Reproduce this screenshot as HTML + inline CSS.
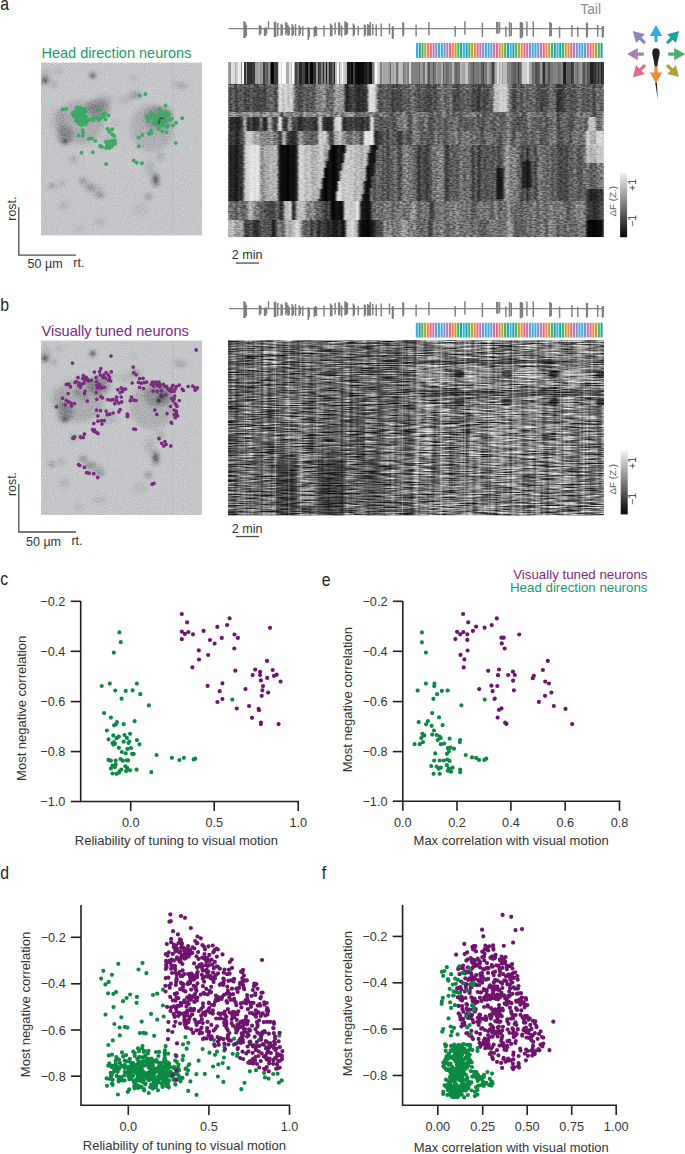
<!DOCTYPE html><html><head><meta charset="utf-8"><style>html,body{margin:0;padding:0;background:#fff;width:685px;height:1154px;overflow:hidden}svg{display:block;font-family:"Liberation Sans",sans-serif}text{font-family:"Liberation Sans",sans-serif}</style></head><body>
<svg width="685" height="1154" viewBox="0 0 685 1154" font-family="&quot;Liberation Sans&quot;, sans-serif">
<text transform="translate(0.2,10) scale(0.88,1)" font-size="18" fill="#231f20">a</text>
<text x="41.5" y="57.8" font-size="14.5" fill="#1a9a6c">Head direction neurons</text>
<g><defs><clipPath id="cp1"><rect x="41" y="62.5" width="161" height="173"/></clipPath><filter color-interpolation-filters="sRGB" id="bl1" x="-50%" y="-50%" width="200%" height="200%"><feGaussianBlur stdDeviation="1.9"/></filter><filter color-interpolation-filters="sRGB" id="bs1" x="-50%" y="-50%" width="200%" height="200%"><feGaussianBlur stdDeviation="0.9"/></filter><filter color-interpolation-filters="sRGB" id="nz1" x="0" y="0" width="100%" height="100%"><feTurbulence type="fractalNoise" baseFrequency="1.1 0.9" numOctaves="1" seed="1"/><feColorMatrix type="matrix" values="1.6 0 0 0 -0.3  1.6 0 0 0 -0.3  1.6 0 0 0 -0.3  0 0 0 0 1"/></filter></defs>
<g clip-path="url(#cp1)">
<rect x="41" y="62.5" width="161" height="173" fill="#c4c6c9"/>
<g filter="url(#bl1)">
<ellipse cx="45" cy="80.5" rx="3.5" ry="3.2" fill="#2a2c30" fill-opacity="0.55"/>
<ellipse cx="53.6" cy="84.2" rx="2.3" ry="2.3" fill="#2a2c30" fill-opacity="0.35"/>
<ellipse cx="92.7" cy="75.5" rx="3" ry="2.4" fill="#2a2c30" fill-opacity="0.6"/>
<ellipse cx="58.6" cy="71.2" rx="4" ry="3" fill="#2a2c30" fill-opacity="0.12"/>
<ellipse cx="46" cy="76" rx="5" ry="7" fill="#2a2c30" fill-opacity="0.12"/>
<ellipse cx="98" cy="108" rx="12" ry="9" fill="#2a2c30" fill-opacity="0.3"/>
<ellipse cx="99" cy="108" rx="3" ry="2.5" fill="#2a2c30" fill-opacity="0.35"/>
<ellipse cx="105" cy="100" rx="8" ry="5" fill="#2a2c30" fill-opacity="0.12"/>
<ellipse cx="65" cy="135" rx="8" ry="10" fill="#2a2c30" fill-opacity="0.3"/>
<ellipse cx="64.8" cy="141.3" rx="3" ry="2.6" fill="#2a2c30" fill-opacity="0.45"/>
<ellipse cx="58" cy="120" rx="8" ry="12" fill="#2a2c30" fill-opacity="0.1"/>
<ellipse cx="115.7" cy="123.3" rx="2.6" ry="2.6" fill="#2a2c30" fill-opacity="0.2"/>
<ellipse cx="110" cy="140" rx="8" ry="6" fill="#2a2c30" fill-opacity="0.1"/>
<ellipse cx="162" cy="119" rx="3.5" ry="3.5" fill="#2a2c30" fill-opacity="0.5"/>
<ellipse cx="77.7" cy="115" rx="3" ry="3" fill="#2a2c30" fill-opacity="0.45"/>
<ellipse cx="85" cy="120" rx="3" ry="3" fill="#2a2c30" fill-opacity="0.3"/>
<ellipse cx="158" cy="118" rx="14" ry="11" fill="#2a2c30" fill-opacity="0.25"/>
<ellipse cx="168" cy="112" rx="5" ry="3" fill="#2a2c30" fill-opacity="0.25"/>
<ellipse cx="135" cy="95" rx="6" ry="3.5" fill="#2a2c30" fill-opacity="0.28"/>
<ellipse cx="125" cy="100" rx="8" ry="4" fill="#2a2c30" fill-opacity="0.1"/>
<ellipse cx="182" cy="86" rx="5" ry="2.5" fill="#2a2c30" fill-opacity="0.25"/>
<ellipse cx="133.5" cy="78" rx="3.5" ry="2.5" fill="#2a2c30" fill-opacity="0.12"/>
<ellipse cx="176" cy="84" rx="2.5" ry="2.5" fill="#2a2c30" fill-opacity="0.18"/>
<ellipse cx="155.7" cy="180" rx="3.5" ry="7" fill="#2a2c30" fill-opacity="0.5"/>
<ellipse cx="148.4" cy="196.8" rx="3.5" ry="2.6" fill="#2a2c30" fill-opacity="0.36"/>
<ellipse cx="160.5" cy="157" rx="3.5" ry="4" fill="#2a2c30" fill-opacity="0.2"/>
<ellipse cx="150" cy="168" rx="5" ry="8" fill="#2a2c30" fill-opacity="0.13"/>
<ellipse cx="83" cy="181" rx="3.5" ry="2.6" fill="#2a2c30" fill-opacity="0.42"/>
<ellipse cx="90" cy="187" rx="5" ry="2.6" fill="#2a2c30" fill-opacity="0.36"/>
<ellipse cx="100" cy="195" rx="4.5" ry="2.6" fill="#2a2c30" fill-opacity="0.36"/>
<ellipse cx="95" cy="190" rx="8" ry="5" fill="#2a2c30" fill-opacity="0.12"/>
<ellipse cx="52" cy="186" rx="3.5" ry="2.2" fill="#2a2c30" fill-opacity="0.38"/>
<ellipse cx="61.7" cy="183.6" rx="2.6" ry="2.2" fill="#2a2c30" fill-opacity="0.3"/>
<ellipse cx="73.7" cy="159.5" rx="4" ry="4" fill="#2a2c30" fill-opacity="0.18"/>
<ellipse cx="64" cy="205" rx="5" ry="4" fill="#2a2c30" fill-opacity="0.13"/>
<ellipse cx="78.5" cy="229" rx="5" ry="3" fill="#2a2c30" fill-opacity="0.1"/>
<ellipse cx="100" cy="222" rx="6" ry="4" fill="#2a2c30" fill-opacity="0.1"/>
<ellipse cx="80" cy="122" rx="24" ry="22" fill="#2a2c30" fill-opacity="0.16"/>
<ellipse cx="152" cy="128" rx="22" ry="24" fill="#2a2c30" fill-opacity="0.14"/>
<ellipse cx="140" cy="210" rx="8" ry="6" fill="#2a2c30" fill-opacity="0.07"/>
</g>
<g filter="url(#bs1)">
<ellipse cx="161.3" cy="117.7" rx="1.8" ry="1.8" fill="#111" fill-opacity="0.85"/>
<ellipse cx="158.7" cy="122.8" rx="2" ry="2" fill="#111" fill-opacity="0.9"/>
<ellipse cx="64.8" cy="141.3" rx="1.8" ry="1.6" fill="#111" fill-opacity="0.4"/>
<ellipse cx="92.7" cy="75.5" rx="2" ry="1.6" fill="#111" fill-opacity="0.35"/>
<ellipse cx="45" cy="80.5" rx="2" ry="1.8" fill="#111" fill-opacity="0.3"/>
<ellipse cx="155.7" cy="180" rx="1.6" ry="3" fill="#111" fill-opacity="0.3"/>
</g>
<rect x="41" y="62.5" width="161" height="173" filter="url(#nz1)" style="mix-blend-mode:overlay" opacity="0.28"/>
<rect x="172" y="62.5" width="0.8" height="173" fill="#9a9ca0" opacity="0.25"/>
</g>
<path d="M62.7 109.3h0M66.2 109.1h0M99.5 109.8h0M93.8 117.5h0M93.3 120.0h0M89.7 119.5h0M98.9 120.0h0M101.0 117.5h0M103.0 114.4h0M105.1 113.4h0M108.6 115.4h0M105.6 119.5h0M104.0 117.0h0M82.6 130.3h0M83.1 132.8h0M78.5 135.4h0M82.6 135.9h0M88.7 138.9h0M91.8 138.4h0M95.4 141.0h0M107.6 128.7h0M112.2 129.2h0M109.2 131.8h0M112.2 134.3h0M114.3 135.9h0M100.0 146.1h0M102.0 147.1h0M81.6 152.7h0M92.8 152.2h0M106.1 164.0h0M73.4 113.9h0M75.4 112.9h0M77.5 107.3h0M80.5 107.8h0M84.6 108.8h0M85.7 111.3h0M77.0 110.3h0M79.5 111.3h0M82.1 111.9h0M84.1 113.4h0M75.4 115.4h0M78.0 116.5h0M80.5 115.4h0M83.1 116.5h0M85.7 117.0h0M77.0 119.5h0M79.5 120.0h0M82.1 119.5h0M84.6 120.5h0M86.7 121.6h0M78.5 122.6h0M81.1 123.1h0M83.6 123.6h0M81.6 125.1h0M85.7 124.1h0M74.4 114.4h0M72.4 113.9h0M78.5 114.4h0M106.1 142.0h0M109.2 141.5h0M112.2 141.0h0M114.8 140.5h0M115.3 143.0h0M113.2 144.0h0M110.2 145.1h0M107.1 145.1h0M106.1 148.1h0M109.2 148.1h0M111.7 146.6h0M114.8 144.0h0M97.4 118.5h0M100.0 118.7h0M139.8 95.5h0M145.4 94.0h0M165.6 105.4h0M159.7 109.0h0M146.5 116.2h0M148.0 120.8h0M151.1 113.6h0M154.6 115.1h0M152.6 118.2h0M155.7 118.7h0M153.6 123.3h0M156.2 124.3h0M158.7 128.9h0M161.8 114.6h0M164.9 112.6h0M167.9 114.1h0M165.9 116.7h0M162.3 120.8h0M163.3 124.9h0M166.9 126.9h0M170.0 119.7h0M172.0 118.7h0M176.1 122.8h0M173.0 125.4h0M162.3 131.5h0M166.4 132.2h0M151.1 130.5h0M149.5 134.0h0M148.5 133.5h0M151.6 133.0h0M182.2 118.2h0M142.4 135.1h0M138.8 137.6h0M138.8 146.3h0M175.8 142.9h0M133.7 160.6h0M136.8 162.7h0M141.9 163.2h0M158.7 114.6h0M160.3 112.6h0M156.7 121.8h0M159.7 125.9h0M165.4 121.8h0M168.9 114.6h0M148.0 118.7h0M150.5 115.7h0M157.7 117.2h0M160.8 115.7h0M163.8 115.7h0M167.9 125.9h0M161.3 123.8h0M72.9 112.9h0M74.9 111.9h0M76.5 108.3h0M79.0 108.3h0M82.1 108.8h0M83.6 110.3h0M75.9 111.3h0M78.0 112.9h0M80.5 113.4h0M82.6 114.4h0M84.6 115.4h0M76.5 117.0h0M79.0 118.0h0M81.6 118.0h0M84.1 118.5h0M75.9 121.1h0M80.0 121.6h0M82.6 121.6h0M79.5 124.1h0M83.6 122.1h0M85.7 119.5h0M73.9 115.9h0M87.7 120.5h0" stroke="#3caa64" stroke-width="4.00" stroke-linecap="round" fill="none"/>
</g>
<path d="M18.8,207.2V255.2H76" stroke="#4d4d4f" stroke-width="1.3" fill="none"/>
<text transform="translate(16.3,208.6) rotate(-90)" font-size="12.4" fill="#333" text-anchor="middle">rost.</text>
<text x="27.6" y="268" font-size="12.5" fill="#333">50 µm</text>
<text x="73.3" y="267" font-size="12.5" fill="#333">rt.</text>
<text x="580.3" y="14.4" font-size="13.8" fill="#8a8c8e">Tail</text>
<path d="M228.5,28.6 L603.8,28.6" stroke="#808285" stroke-width="1.3" fill="none"/>
<path d="M244.0,21.2V37.9M245.2,22.0V38.0M246.3,25.0V36.0M259.5,25.0V35.5M260.8,26.0V34.0M264.5,28.0V36.0M265.6,27.0V36.0M266.6,29.0V34.0M268.5,21.2V28.6M274.5,22.0V37.0M275.6,21.5V37.0M277.8,23.0V36.0M281.2,24.0V36.0M282.2,25.0V35.0M285.8,22.0V35.0M286.8,23.0V33.0M288.0,25.0V36.0M289.2,27.0V35.0M292.2,24.0V36.5M293.4,26.0V35.0M295.6,24.0V36.0M299.2,25.0V36.0M300.3,27.0V34.0M302.8,26.0V36.0M308.2,27.0V40.0M309.3,28.0V37.0M314.3,27.0V37.0M315.6,26.0V36.0M316.5,27.0V36.0M324.0,25.5V36.5M330.6,23.5V36.5M331.8,25.0V36.0M335.1,22.6V34.5M338.8,22.0V35.5M339.6,23.0V35.0M341.6,25.5V36.5M345.0,21.2V35.5M346.2,22.0V35.0M347.4,23.0V34.0M353.4,23.5V36.5M354.3,25.0V35.0M358.3,26.0V35.5M364.5,24.5V36.5M365.4,25.0V35.0M367.8,24.0V36.0M368.8,25.0V35.0M370.3,22.0V36.0M372.8,24.0V35.0M376.2,24.5V36.0M381.2,23.5V36.5M389.5,23.5V34.5M392.5,26.0V39.0M393.2,27.0V38.0M402.9,22.0V36.5M403.6,23.0V35.0M416.1,24.5V36.5M428.9,22.0V35.5M455.2,26.0V36.5M464.9,21.2V34.4M482.4,22.6V37.0M496.8,21.7V33.5M497.7,22.0V34.0M499.5,22.0V33.0M505.9,26.5V36.8M509.5,21.7V36.8M511.3,23.0V36.0M520.4,22.0V38.5M521.6,22.0V38.0M522.5,23.0V37.0M526.9,21.4V36.0M533.3,21.4V36.8M549.8,22.0V36.8M551.3,23.0V36.0M559.6,26.4V37.7M571.9,25.0V36.8M577.8,26.8V36.8M586.6,22.6V37.7M587.3,23.0V37.0M597.7,25.0V36.8M602.4,25.9V37.7M603.2,26.0V37.0" stroke="#7c7e81" stroke-width="1.45" fill="none"/>
<rect x="416.00" y="42.9" width="2.05" height="15" fill="#3aaee3"/>
<rect x="418.75" y="42.9" width="2.05" height="15" fill="#19a59b"/>
<rect x="421.51" y="42.9" width="2.05" height="15" fill="#4bb06c"/>
<rect x="424.26" y="42.9" width="2.05" height="15" fill="#b3a53a"/>
<rect x="427.02" y="42.9" width="2.05" height="15" fill="#f08a3c"/>
<rect x="429.77" y="42.9" width="2.05" height="15" fill="#e5678e"/>
<rect x="432.53" y="42.9" width="2.05" height="15" fill="#b67cb6"/>
<rect x="435.28" y="42.9" width="2.05" height="15" fill="#8e8cc6"/>
<rect x="438.04" y="42.9" width="2.05" height="15" fill="#3aaee3"/>
<rect x="440.79" y="42.9" width="2.05" height="15" fill="#3aaee3"/>
<rect x="443.54" y="42.9" width="2.05" height="15" fill="#8e8cc6"/>
<rect x="446.30" y="42.9" width="2.05" height="15" fill="#b67cb6"/>
<rect x="449.05" y="42.9" width="2.05" height="15" fill="#e5678e"/>
<rect x="451.81" y="42.9" width="2.05" height="15" fill="#f08a3c"/>
<rect x="454.56" y="42.9" width="2.05" height="15" fill="#b3a53a"/>
<rect x="457.32" y="42.9" width="2.05" height="15" fill="#4bb06c"/>
<rect x="460.07" y="42.9" width="2.05" height="15" fill="#19a59b"/>
<rect x="462.82" y="42.9" width="2.05" height="15" fill="#3aaee3"/>
<rect x="465.58" y="42.9" width="2.05" height="15" fill="#19a59b"/>
<rect x="468.33" y="42.9" width="2.05" height="15" fill="#4bb06c"/>
<rect x="471.09" y="42.9" width="2.05" height="15" fill="#b3a53a"/>
<rect x="473.84" y="42.9" width="2.05" height="15" fill="#f08a3c"/>
<rect x="476.60" y="42.9" width="2.05" height="15" fill="#e5678e"/>
<rect x="479.35" y="42.9" width="2.05" height="15" fill="#b67cb6"/>
<rect x="482.11" y="42.9" width="2.05" height="15" fill="#8e8cc6"/>
<rect x="484.86" y="42.9" width="2.05" height="15" fill="#3aaee3"/>
<rect x="487.61" y="42.9" width="2.05" height="15" fill="#3aaee3"/>
<rect x="490.37" y="42.9" width="2.05" height="15" fill="#8e8cc6"/>
<rect x="493.12" y="42.9" width="2.05" height="15" fill="#b67cb6"/>
<rect x="495.88" y="42.9" width="2.05" height="15" fill="#e5678e"/>
<rect x="498.63" y="42.9" width="2.05" height="15" fill="#f08a3c"/>
<rect x="501.39" y="42.9" width="2.05" height="15" fill="#b3a53a"/>
<rect x="504.14" y="42.9" width="2.05" height="15" fill="#4bb06c"/>
<rect x="506.90" y="42.9" width="2.05" height="15" fill="#19a59b"/>
<rect x="509.65" y="42.9" width="2.05" height="15" fill="#3aaee3"/>
<rect x="512.40" y="42.9" width="2.05" height="15" fill="#19a59b"/>
<rect x="515.16" y="42.9" width="2.05" height="15" fill="#4bb06c"/>
<rect x="517.91" y="42.9" width="2.05" height="15" fill="#b3a53a"/>
<rect x="520.67" y="42.9" width="2.05" height="15" fill="#f08a3c"/>
<rect x="523.42" y="42.9" width="2.05" height="15" fill="#e5678e"/>
<rect x="526.18" y="42.9" width="2.05" height="15" fill="#b67cb6"/>
<rect x="528.93" y="42.9" width="2.05" height="15" fill="#8e8cc6"/>
<rect x="531.69" y="42.9" width="2.05" height="15" fill="#3aaee3"/>
<rect x="534.44" y="42.9" width="2.05" height="15" fill="#3aaee3"/>
<rect x="537.19" y="42.9" width="2.05" height="15" fill="#8e8cc6"/>
<rect x="539.95" y="42.9" width="2.05" height="15" fill="#b67cb6"/>
<rect x="542.70" y="42.9" width="2.05" height="15" fill="#e5678e"/>
<rect x="545.46" y="42.9" width="2.05" height="15" fill="#f08a3c"/>
<rect x="548.21" y="42.9" width="2.05" height="15" fill="#b3a53a"/>
<rect x="550.97" y="42.9" width="2.05" height="15" fill="#4bb06c"/>
<rect x="553.72" y="42.9" width="2.05" height="15" fill="#19a59b"/>
<rect x="556.47" y="42.9" width="2.05" height="15" fill="#3aaee3"/>
<rect x="559.23" y="42.9" width="2.05" height="15" fill="#19a59b"/>
<rect x="561.98" y="42.9" width="2.05" height="15" fill="#4bb06c"/>
<rect x="564.74" y="42.9" width="2.05" height="15" fill="#b3a53a"/>
<rect x="567.49" y="42.9" width="2.05" height="15" fill="#f08a3c"/>
<rect x="570.25" y="42.9" width="2.05" height="15" fill="#e5678e"/>
<rect x="573.00" y="42.9" width="2.05" height="15" fill="#b67cb6"/>
<rect x="575.76" y="42.9" width="2.05" height="15" fill="#8e8cc6"/>
<rect x="578.51" y="42.9" width="2.05" height="15" fill="#3aaee3"/>
<rect x="581.26" y="42.9" width="2.05" height="15" fill="#3aaee3"/>
<rect x="584.02" y="42.9" width="2.05" height="15" fill="#8e8cc6"/>
<rect x="586.77" y="42.9" width="2.05" height="15" fill="#b67cb6"/>
<rect x="589.53" y="42.9" width="2.05" height="15" fill="#e5678e"/>
<rect x="592.28" y="42.9" width="2.05" height="15" fill="#f08a3c"/>
<rect x="595.04" y="42.9" width="2.05" height="15" fill="#b3a53a"/>
<rect x="597.79" y="42.9" width="2.05" height="15" fill="#4bb06c"/>
<rect x="600.55" y="42.9" width="2.05" height="15" fill="#19a59b"/>
<g><defs><clipPath id="hc1"><rect x="228" y="61.5" width="376" height="175.7"/></clipPath><filter color-interpolation-filters="sRGB" id="hb1" x="-2%" y="-2%" width="104%" height="104%"><feGaussianBlur stdDeviation="1.0 0.4"/></filter><filter color-interpolation-filters="sRGB" id="ht1" x="-2%" y="-2%" width="104%" height="104%"><feGaussianBlur stdDeviation="0.6 0.2"/></filter><filter color-interpolation-filters="sRGB" id="hh1" x="0" y="0" width="100%" height="100%"><feTurbulence type="fractalNoise" baseFrequency="0.3 0.7" numOctaves="2" seed="6"/><feColorMatrix type="matrix" values="2 0 0 0 -0.5  2 0 0 0 -0.5  2 0 0 0 -0.5  0 0 0 0 1"/></filter></defs><g clip-path="url(#hc1)">
<g filter="url(#hb1)" shape-rendering="crispEdges">
<path fill="rgb(0,0,0)" d="M286 145h4.1v2.7h-4.1zM292 145h2.1v2.7h-2.1zM332 145h2.1v2.7h-2.1zM286 147.5h4.1v2.8h-4.1zM292 147.5h2.1v2.8h-2.1zM332 147.5h2.1v2.8h-2.1zM286 150.1h4.1v2.7h-4.1zM292 150.1h2.1v2.7h-2.1zM332 150.1h2.1v2.7h-2.1zM286 152.6h4.1v2.8h-4.1zM292 152.6h2.1v2.8h-2.1zM332 152.6h2.1v2.8h-2.1zM286 155.2h4.1v2.7h-4.1zM292 155.2h2.1v2.7h-2.1zM332 155.2h2.1v2.7h-2.1zM286 157.7h4.1v2.8h-4.1zM292 157.7h2.1v2.8h-2.1zM332 157.7h2.1v2.8h-2.1zM286 160.3h4.1v2.7h-4.1zM292 160.3h2.1v2.7h-2.1zM332 160.3h2.1v2.7h-2.1zM526 160.3h2.1v2.7h-2.1zM286 162.8h4.1v2.8h-4.1zM292 162.8h2.1v2.8h-2.1zM332 162.8h2.1v2.8h-2.1zM526 162.8h2.1v2.8h-2.1zM286 165.4h4.1v2.7h-4.1zM292 165.4h2.1v2.7h-2.1zM332 165.4h2.1v2.7h-2.1zM526 165.4h2.1v2.7h-2.1zM286 167.9h4.1v2.8h-4.1zM292 167.9h2.1v2.8h-2.1zM324 167.9h2.1v2.8h-2.1zM332 167.9h2.1v2.8h-2.1zM526 167.9h2.1v2.8h-2.1zM286 170.5h4.1v2.7h-4.1zM292 170.5h2.1v2.7h-2.1zM324 170.5h2.1v2.7h-2.1zM332 170.5h2.1v2.7h-2.1zM526 170.5h2.1v2.7h-2.1zM286 173h4.1v2.7h-4.1zM292 173h2.1v2.7h-2.1zM324 173h2.1v2.7h-2.1zM332 173h2.1v2.7h-2.1zM526 173h2.1v2.7h-2.1zM286 175.5h4.1v2.8h-4.1zM292 175.5h2.1v2.8h-2.1zM324 175.5h2.1v2.8h-2.1zM332 175.5h2.1v2.8h-2.1zM526 175.5h2.1v2.8h-2.1zM286 178.1h4.1v2.7h-4.1zM292 178.1h2.1v2.7h-2.1zM324 178.1h2.1v2.7h-2.1zM332 178.1h2.1v2.7h-2.1zM526 178.1h2.1v2.7h-2.1zM286 180.6h4.1v2.8h-4.1zM292 180.6h2.1v2.8h-2.1zM324 180.6h2.1v2.8h-2.1zM332 180.6h2.1v2.8h-2.1zM526 180.6h2.1v2.8h-2.1zM286 183.2h4.1v2.7h-4.1zM292 183.2h2.1v2.7h-2.1zM324 183.2h2.1v2.7h-2.1zM332 183.2h2.1v2.7h-2.1zM526 183.2h2.1v2.7h-2.1zM286 185.7h4.1v2.8h-4.1zM292 185.7h2.1v2.8h-2.1zM324 185.7h2.1v2.8h-2.1zM332 185.7h2.1v2.8h-2.1zM526 185.7h2.1v2.8h-2.1zM286 188.3h4.1v2.7h-4.1zM292 188.3h2.1v2.7h-2.1zM324 188.3h2.1v2.7h-2.1zM332 188.3h2.1v2.7h-2.1zM286 190.8h4.1v2.8h-4.1zM292 190.8h2.1v2.8h-2.1zM324 190.8h2.1v2.8h-2.1zM332 190.8h2.1v2.8h-2.1zM286 193.4h4.1v2.7h-4.1zM292 193.4h2.1v2.7h-2.1zM324 193.4h2.1v2.7h-2.1zM332 193.4h2.1v2.7h-2.1zM286 195.9h4.1v2.8h-4.1zM292 195.9h2.1v2.8h-2.1zM324 195.9h2.1v2.8h-2.1zM332 195.9h2.1v2.8h-2.1zM286 198.5h4.1v2.7h-4.1zM292 198.5h2.1v2.7h-2.1zM324 198.5h2.1v2.7h-2.1zM332 198.5h2.1v2.7h-2.1zM332 201h2.1v19.2h-2.1zM362 220h2.1v17.4h-2.1zM366 220h2.1v17.4h-2.1zM592 220h2.1v17.4h-2.1z"/>
<path fill="rgb(6,6,6)" d="M282 145h2.1v2.7h-2.1zM334 145h2.1v2.7h-2.1zM374 145h2.1v2.7h-2.1zM282 147.5h2.1v2.8h-2.1zM334 147.5h2.1v2.8h-2.1zM374 147.5h2.1v2.8h-2.1zM282 150.1h2.1v2.7h-2.1zM334 150.1h2.1v2.7h-2.1zM374 150.1h2.1v2.7h-2.1zM282 152.6h2.1v2.8h-2.1zM334 152.6h2.1v2.8h-2.1zM374 152.6h2.1v2.8h-2.1zM282 155.2h2.1v2.7h-2.1zM334 155.2h2.1v2.7h-2.1zM374 155.2h2.1v2.7h-2.1zM282 157.7h2.1v2.8h-2.1zM334 157.7h2.1v2.8h-2.1zM374 157.7h2.1v2.8h-2.1zM282 160.3h2.1v2.7h-2.1zM326 160.3h2.1v2.7h-2.1zM334 160.3h2.1v2.7h-2.1zM374 160.3h2.1v2.7h-2.1zM282 162.8h2.1v2.8h-2.1zM326 162.8h2.1v2.8h-2.1zM334 162.8h2.1v2.8h-2.1zM282 165.4h2.1v2.7h-2.1zM326 165.4h2.1v2.7h-2.1zM334 165.4h2.1v2.7h-2.1zM282 167.9h2.1v2.8h-2.1zM326 167.9h2.1v2.8h-2.1zM334 167.9h2.1v2.8h-2.1zM282 170.5h2.1v2.7h-2.1zM326 170.5h2.1v2.7h-2.1zM334 170.5h2.1v2.7h-2.1zM282 173h2.1v2.7h-2.1zM326 173h2.1v2.7h-2.1zM334 173h2.1v2.7h-2.1zM282 175.5h2.1v2.8h-2.1zM326 175.5h2.1v2.8h-2.1zM334 175.5h2.1v2.8h-2.1zM282 178.1h2.1v2.7h-2.1zM326 178.1h2.1v2.7h-2.1zM334 178.1h2.1v2.7h-2.1zM282 180.6h2.1v2.8h-2.1zM326 180.6h2.1v2.8h-2.1zM334 180.6h2.1v2.8h-2.1zM282 183.2h2.1v2.7h-2.1zM326 183.2h2.1v2.7h-2.1zM334 183.2h2.1v2.7h-2.1zM282 185.7h2.1v2.8h-2.1zM326 185.7h2.1v2.8h-2.1zM334 185.7h2.1v2.8h-2.1zM282 188.3h2.1v2.7h-2.1zM326 188.3h2.1v2.7h-2.1zM334 188.3h2.1v2.7h-2.1zM282 190.8h2.1v2.8h-2.1zM326 190.8h2.1v2.8h-2.1zM334 190.8h2.1v2.8h-2.1zM282 193.4h2.1v2.7h-2.1zM326 193.4h2.1v2.7h-2.1zM334 193.4h2.1v2.7h-2.1zM282 195.9h2.1v2.8h-2.1zM326 195.9h2.1v2.8h-2.1zM334 195.9h2.1v2.8h-2.1zM282 198.5h2.1v2.7h-2.1zM326 198.5h2.1v2.7h-2.1zM334 198.5h2.1v2.7h-2.1zM292 201h2.1v19.2h-2.1zM340 201h2.1v19.2h-2.1zM272 220h2.1v17.4h-2.1zM342 220h2.1v17.4h-2.1zM588 220h2.1v17.4h-2.1zM594 220h4.1v17.4h-4.1zM600 220h2.1v17.4h-2.1z"/>
<path fill="rgb(12,12,12)" d="M280 145h2.1v2.7h-2.1zM342 145h2.1v2.7h-2.1zM280 147.5h2.1v2.8h-2.1zM342 147.5h2.1v2.8h-2.1zM280 150.1h2.1v2.7h-2.1zM342 150.1h2.1v2.7h-2.1zM280 152.6h2.1v2.8h-2.1zM342 152.6h2.1v2.8h-2.1zM368 152.6h2.1v2.8h-2.1zM280 155.2h2.1v2.7h-2.1zM342 155.2h2.1v2.7h-2.1zM368 155.2h2.1v2.7h-2.1zM280 157.7h2.1v2.8h-2.1zM342 157.7h2.1v2.8h-2.1zM368 157.7h2.1v2.8h-2.1zM280 160.3h2.1v2.7h-2.1zM342 160.3h2.1v2.7h-2.1zM368 160.3h2.1v2.7h-2.1zM522 160.3h2.1v2.7h-2.1zM280 162.8h2.1v2.8h-2.1zM368 162.8h2.1v2.8h-2.1zM522 162.8h2.1v2.8h-2.1zM280 165.4h2.1v2.7h-2.1zM366 165.4h4.1v2.7h-4.1zM522 165.4h2.1v2.7h-2.1zM280 167.9h2.1v2.8h-2.1zM366 167.9h4.1v2.8h-4.1zM522 167.9h2.1v2.8h-2.1zM280 170.5h2.1v2.7h-2.1zM366 170.5h4.1v2.7h-4.1zM522 170.5h2.1v2.7h-2.1zM280 173h2.1v2.7h-2.1zM366 173h4.1v2.7h-4.1zM522 173h2.1v2.7h-2.1zM280 175.5h2.1v2.8h-2.1zM366 175.5h4.1v2.8h-4.1zM522 175.5h2.1v2.8h-2.1zM280 178.1h2.1v2.7h-2.1zM366 178.1h4.1v2.7h-4.1zM522 178.1h2.1v2.7h-2.1zM280 180.6h2.1v2.8h-2.1zM366 180.6h4.1v2.8h-4.1zM522 180.6h2.1v2.8h-2.1zM280 183.2h2.1v2.7h-2.1zM366 183.2h4.1v2.7h-4.1zM522 183.2h2.1v2.7h-2.1zM280 185.7h2.1v2.8h-2.1zM366 185.7h4.1v2.8h-4.1zM522 185.7h2.1v2.8h-2.1zM280 188.3h2.1v2.7h-2.1zM366 188.3h4.1v2.7h-4.1zM280 190.8h2.1v2.8h-2.1zM366 190.8h4.1v2.8h-4.1zM280 193.4h2.1v2.7h-2.1zM362 193.4h2.1v2.7h-2.1zM366 193.4h4.1v2.7h-4.1zM280 195.9h2.1v2.8h-2.1zM362 195.9h2.1v2.8h-2.1zM366 195.9h4.1v2.8h-4.1zM280 198.5h2.1v2.7h-2.1zM362 198.5h2.1v2.7h-2.1zM366 198.5h4.1v2.7h-4.1zM366 201h4.1v19.2h-4.1zM368 220h2.1v17.4h-2.1zM590 220h2.1v17.4h-2.1z"/>
<path fill="rgb(18,18,18)" d="M236 145h2.1v2.7h-2.1zM284 145h2.1v2.7h-2.1zM330 145h2.1v2.7h-2.1zM336 145h2.1v2.7h-2.1zM236 147.5h2.1v2.8h-2.1zM284 147.5h2.1v2.8h-2.1zM330 147.5h2.1v2.8h-2.1zM336 147.5h2.1v2.8h-2.1zM236 150.1h2.1v2.7h-2.1zM284 150.1h2.1v2.7h-2.1zM330 150.1h2.1v2.7h-2.1zM336 150.1h2.1v2.7h-2.1zM236 152.6h2.1v2.8h-2.1zM284 152.6h2.1v2.8h-2.1zM330 152.6h2.1v2.8h-2.1zM336 152.6h2.1v2.8h-2.1zM236 155.2h2.1v2.7h-2.1zM284 155.2h2.1v2.7h-2.1zM330 155.2h2.1v2.7h-2.1zM336 155.2h2.1v2.7h-2.1zM236 157.7h2.1v2.8h-2.1zM284 157.7h2.1v2.8h-2.1zM330 157.7h2.1v2.8h-2.1zM336 157.7h2.1v2.8h-2.1zM236 160.3h2.1v2.7h-2.1zM284 160.3h2.1v2.7h-2.1zM330 160.3h2.1v2.7h-2.1zM336 160.3h2.1v2.7h-2.1zM236 162.8h2.1v2.8h-2.1zM284 162.8h2.1v2.8h-2.1zM330 162.8h2.1v2.8h-2.1zM336 162.8h2.1v2.8h-2.1zM236 165.4h2.1v2.7h-2.1zM284 165.4h2.1v2.7h-2.1zM330 165.4h2.1v2.7h-2.1zM336 165.4h2.1v2.7h-2.1zM236 167.9h2.1v2.8h-2.1zM284 167.9h2.1v2.8h-2.1zM330 167.9h2.1v2.8h-2.1zM336 167.9h2.1v2.8h-2.1zM498 167.9h2.1v2.8h-2.1zM236 170.5h2.1v2.7h-2.1zM284 170.5h2.1v2.7h-2.1zM330 170.5h2.1v2.7h-2.1zM336 170.5h2.1v2.7h-2.1zM498 170.5h2.1v2.7h-2.1zM236 173h2.1v2.7h-2.1zM284 173h2.1v2.7h-2.1zM330 173h2.1v2.7h-2.1zM336 173h2.1v2.7h-2.1zM498 173h2.1v2.7h-2.1zM236 175.5h2.1v2.8h-2.1zM284 175.5h2.1v2.8h-2.1zM330 175.5h2.1v2.8h-2.1zM336 175.5h2.1v2.8h-2.1zM498 175.5h2.1v2.8h-2.1zM236 178.1h2.1v2.7h-2.1zM284 178.1h2.1v2.7h-2.1zM330 178.1h2.1v2.7h-2.1zM336 178.1h2.1v2.7h-2.1zM498 178.1h2.1v2.7h-2.1zM236 180.6h2.1v2.8h-2.1zM284 180.6h2.1v2.8h-2.1zM330 180.6h2.1v2.8h-2.1zM336 180.6h2.1v2.8h-2.1zM498 180.6h2.1v2.8h-2.1zM236 183.2h2.1v2.7h-2.1zM284 183.2h2.1v2.7h-2.1zM330 183.2h2.1v2.7h-2.1zM336 183.2h2.1v2.7h-2.1zM498 183.2h2.1v2.7h-2.1zM236 185.7h2.1v2.8h-2.1zM284 185.7h2.1v2.8h-2.1zM330 185.7h2.1v2.8h-2.1zM336 185.7h2.1v2.8h-2.1zM498 185.7h2.1v2.8h-2.1zM236 188.3h2.1v2.7h-2.1zM284 188.3h2.1v2.7h-2.1zM330 188.3h2.1v2.7h-2.1zM336 188.3h2.1v2.7h-2.1zM498 188.3h2.1v2.7h-2.1zM590 188.3h2.1v2.7h-2.1zM236 190.8h2.1v2.8h-2.1zM284 190.8h2.1v2.8h-2.1zM330 190.8h2.1v2.8h-2.1zM498 190.8h2.1v2.8h-2.1zM590 190.8h2.1v2.8h-2.1zM236 193.4h2.1v2.7h-2.1zM284 193.4h2.1v2.7h-2.1zM330 193.4h2.1v2.7h-2.1zM498 193.4h2.1v2.7h-2.1zM590 193.4h2.1v2.7h-2.1zM236 195.9h2.1v2.8h-2.1zM284 195.9h2.1v2.8h-2.1zM330 195.9h2.1v2.8h-2.1zM498 195.9h2.1v2.8h-2.1zM590 195.9h2.1v2.8h-2.1zM236 198.5h2.1v2.7h-2.1zM284 198.5h2.1v2.7h-2.1zM318 198.5h2.1v2.7h-2.1zM330 198.5h2.1v2.7h-2.1zM590 198.5h2.1v2.7h-2.1zM330 201h2.1v19.2h-2.1zM334 201h4.1v19.2h-4.1zM342 201h2.1v19.2h-2.1zM360 201h2.1v19.2h-2.1zM318 220h2.1v17.4h-2.1zM332 220h2.1v17.4h-2.1zM336 220h2.1v17.4h-2.1zM364 220h2.1v17.4h-2.1zM370 220h2.1v17.4h-2.1zM586 220h2.1v17.4h-2.1zM598 220h2.1v17.4h-2.1z"/>
<path fill="rgb(24,24,24)" d="M346 84.2h2.1v28.0h-2.1zM254 116.5h2.1v14.7h-2.1zM236 131h2.1v14.2h-2.1zM374 131h2.1v14.2h-2.1zM296 145h2.1v2.7h-2.1zM340 145h2.1v2.7h-2.1zM344 145h2.1v2.7h-2.1zM372 145h2.1v2.7h-2.1zM296 147.5h2.1v2.8h-2.1zM340 147.5h2.1v2.8h-2.1zM344 147.5h2.1v2.8h-2.1zM372 147.5h2.1v2.8h-2.1zM296 150.1h2.1v2.7h-2.1zM328 150.1h2.1v2.7h-2.1zM340 150.1h2.1v2.7h-2.1zM344 150.1h2.1v2.7h-2.1zM372 150.1h2.1v2.7h-2.1zM296 152.6h2.1v2.8h-2.1zM328 152.6h2.1v2.8h-2.1zM340 152.6h2.1v2.8h-2.1zM372 152.6h2.1v2.8h-2.1zM296 155.2h2.1v2.7h-2.1zM328 155.2h2.1v2.7h-2.1zM340 155.2h2.1v2.7h-2.1zM372 155.2h2.1v2.7h-2.1zM296 157.7h2.1v2.8h-2.1zM328 157.7h2.1v2.8h-2.1zM340 157.7h2.1v2.8h-2.1zM372 157.7h2.1v2.8h-2.1zM296 160.3h2.1v2.7h-2.1zM328 160.3h2.1v2.7h-2.1zM340 160.3h2.1v2.7h-2.1zM372 160.3h2.1v2.7h-2.1zM296 162.8h2.1v2.8h-2.1zM328 162.8h2.1v2.8h-2.1zM340 162.8h2.1v2.8h-2.1zM372 162.8h2.1v2.8h-2.1zM296 165.4h2.1v2.7h-2.1zM328 165.4h2.1v2.7h-2.1zM340 165.4h2.1v2.7h-2.1zM372 165.4h2.1v2.7h-2.1zM296 167.9h2.1v2.8h-2.1zM328 167.9h2.1v2.8h-2.1zM340 167.9h2.1v2.8h-2.1zM372 167.9h2.1v2.8h-2.1zM496 167.9h2.1v2.8h-2.1zM296 170.5h2.1v2.7h-2.1zM328 170.5h2.1v2.7h-2.1zM372 170.5h2.1v2.7h-2.1zM496 170.5h2.1v2.7h-2.1zM296 173h2.1v2.7h-2.1zM328 173h2.1v2.7h-2.1zM372 173h2.1v2.7h-2.1zM496 173h2.1v2.7h-2.1zM296 175.5h2.1v2.8h-2.1zM328 175.5h2.1v2.8h-2.1zM496 175.5h2.1v2.8h-2.1zM296 178.1h2.1v2.7h-2.1zM322 178.1h2.1v2.7h-2.1zM328 178.1h2.1v2.7h-2.1zM496 178.1h2.1v2.7h-2.1zM296 180.6h2.1v2.8h-2.1zM322 180.6h2.1v2.8h-2.1zM328 180.6h2.1v2.8h-2.1zM496 180.6h2.1v2.8h-2.1zM296 183.2h2.1v2.7h-2.1zM322 183.2h2.1v2.7h-2.1zM328 183.2h2.1v2.7h-2.1zM496 183.2h2.1v2.7h-2.1zM296 185.7h2.1v2.8h-2.1zM322 185.7h2.1v2.8h-2.1zM328 185.7h2.1v2.8h-2.1zM496 185.7h2.1v2.8h-2.1zM296 188.3h2.1v2.7h-2.1zM320 188.3h4.1v2.7h-4.1zM328 188.3h2.1v2.7h-2.1zM496 188.3h2.1v2.7h-2.1zM296 190.8h2.1v2.8h-2.1zM320 190.8h4.1v2.8h-4.1zM328 190.8h2.1v2.8h-2.1zM496 190.8h2.1v2.8h-2.1zM296 193.4h2.1v2.7h-2.1zM320 193.4h4.1v2.7h-4.1zM328 193.4h2.1v2.7h-2.1zM496 193.4h2.1v2.7h-2.1zM296 195.9h2.1v2.8h-2.1zM320 195.9h4.1v2.8h-4.1zM328 195.9h2.1v2.8h-2.1zM496 195.9h2.1v2.8h-2.1zM296 198.5h2.1v2.7h-2.1zM320 198.5h4.1v2.7h-4.1zM328 198.5h2.1v2.7h-2.1zM338 201h2.1v19.2h-2.1zM362 201h4.1v19.2h-4.1zM360 220h2.1v17.4h-2.1z"/>
<path fill="rgb(30,30,30)" d="M358 84.2h2.1v28.0h-2.1zM230 116.5h2.1v14.7h-2.1zM238 116.5h2.1v14.7h-2.1zM248 116.5h2.1v14.7h-2.1zM264 116.5h2.1v14.7h-2.1zM298 116.5h2.1v14.7h-2.1zM326 116.5h2.1v14.7h-2.1zM342 116.5h2.1v14.7h-2.1zM362 116.5h2.1v14.7h-2.1zM280 131h2.1v14.2h-2.1zM292 131h2.1v14.2h-2.1zM228 145h4.1v2.7h-4.1zM234 145h2.1v2.7h-2.1zM290 145h2.1v2.7h-2.1zM294 145h2.1v2.7h-2.1zM370 145h2.1v2.7h-2.1zM418 145h2.1v2.7h-2.1zM526 145h2.1v2.7h-2.1zM228 147.5h4.1v2.8h-4.1zM234 147.5h2.1v2.8h-2.1zM290 147.5h2.1v2.8h-2.1zM294 147.5h2.1v2.8h-2.1zM370 147.5h2.1v2.8h-2.1zM418 147.5h2.1v2.8h-2.1zM526 147.5h2.1v2.8h-2.1zM228 150.1h4.1v2.7h-4.1zM234 150.1h2.1v2.7h-2.1zM290 150.1h2.1v2.7h-2.1zM294 150.1h2.1v2.7h-2.1zM370 150.1h2.1v2.7h-2.1zM418 150.1h2.1v2.7h-2.1zM526 150.1h2.1v2.7h-2.1zM228 152.6h4.1v2.8h-4.1zM234 152.6h2.1v2.8h-2.1zM290 152.6h2.1v2.8h-2.1zM294 152.6h2.1v2.8h-2.1zM370 152.6h2.1v2.8h-2.1zM418 152.6h2.1v2.8h-2.1zM526 152.6h2.1v2.8h-2.1zM228 155.2h4.1v2.7h-4.1zM234 155.2h2.1v2.7h-2.1zM290 155.2h2.1v2.7h-2.1zM294 155.2h2.1v2.7h-2.1zM370 155.2h2.1v2.7h-2.1zM418 155.2h2.1v2.7h-2.1zM526 155.2h2.1v2.7h-2.1zM228 157.7h4.1v2.8h-4.1zM234 157.7h2.1v2.8h-2.1zM290 157.7h2.1v2.8h-2.1zM294 157.7h2.1v2.8h-2.1zM370 157.7h2.1v2.8h-2.1zM418 157.7h2.1v2.8h-2.1zM526 157.7h2.1v2.8h-2.1zM228 160.3h4.1v2.7h-4.1zM234 160.3h2.1v2.7h-2.1zM290 160.3h2.1v2.7h-2.1zM294 160.3h2.1v2.7h-2.1zM370 160.3h2.1v2.7h-2.1zM418 160.3h2.1v2.7h-2.1zM228 162.8h4.1v2.8h-4.1zM234 162.8h2.1v2.8h-2.1zM290 162.8h2.1v2.8h-2.1zM294 162.8h2.1v2.8h-2.1zM370 162.8h2.1v2.8h-2.1zM418 162.8h2.1v2.8h-2.1zM228 165.4h4.1v2.7h-4.1zM234 165.4h2.1v2.7h-2.1zM290 165.4h2.1v2.7h-2.1zM294 165.4h2.1v2.7h-2.1zM370 165.4h2.1v2.7h-2.1zM418 165.4h2.1v2.7h-2.1zM228 167.9h4.1v2.8h-4.1zM234 167.9h2.1v2.8h-2.1zM290 167.9h2.1v2.8h-2.1zM294 167.9h2.1v2.8h-2.1zM370 167.9h2.1v2.8h-2.1zM418 167.9h2.1v2.8h-2.1zM500 167.9h2.1v2.8h-2.1zM228 170.5h4.1v2.7h-4.1zM234 170.5h2.1v2.7h-2.1zM290 170.5h2.1v2.7h-2.1zM294 170.5h2.1v2.7h-2.1zM370 170.5h2.1v2.7h-2.1zM418 170.5h2.1v2.7h-2.1zM500 170.5h2.1v2.7h-2.1zM228 173h4.1v2.7h-4.1zM234 173h2.1v2.7h-2.1zM290 173h2.1v2.7h-2.1zM294 173h2.1v2.7h-2.1zM370 173h2.1v2.7h-2.1zM418 173h2.1v2.7h-2.1zM500 173h2.1v2.7h-2.1zM228 175.5h4.1v2.8h-4.1zM234 175.5h2.1v2.8h-2.1zM290 175.5h2.1v2.8h-2.1zM294 175.5h2.1v2.8h-2.1zM370 175.5h2.1v2.8h-2.1zM418 175.5h2.1v2.8h-2.1zM500 175.5h2.1v2.8h-2.1zM228 178.1h4.1v2.7h-4.1zM234 178.1h2.1v2.7h-2.1zM290 178.1h2.1v2.7h-2.1zM294 178.1h2.1v2.7h-2.1zM370 178.1h2.1v2.7h-2.1zM418 178.1h2.1v2.7h-2.1zM500 178.1h2.1v2.7h-2.1zM228 180.6h4.1v2.8h-4.1zM234 180.6h2.1v2.8h-2.1zM290 180.6h2.1v2.8h-2.1zM294 180.6h2.1v2.8h-2.1zM364 180.6h2.1v2.8h-2.1zM370 180.6h2.1v2.8h-2.1zM418 180.6h2.1v2.8h-2.1zM500 180.6h2.1v2.8h-2.1zM228 183.2h4.1v2.7h-4.1zM234 183.2h2.1v2.7h-2.1zM290 183.2h2.1v2.7h-2.1zM294 183.2h2.1v2.7h-2.1zM364 183.2h2.1v2.7h-2.1zM370 183.2h2.1v2.7h-2.1zM418 183.2h2.1v2.7h-2.1zM500 183.2h2.1v2.7h-2.1zM228 185.7h4.1v2.8h-4.1zM234 185.7h2.1v2.8h-2.1zM290 185.7h2.1v2.8h-2.1zM294 185.7h2.1v2.8h-2.1zM364 185.7h2.1v2.8h-2.1zM370 185.7h2.1v2.8h-2.1zM418 185.7h2.1v2.8h-2.1zM500 185.7h2.1v2.8h-2.1zM228 188.3h4.1v2.7h-4.1zM234 188.3h2.1v2.7h-2.1zM290 188.3h2.1v2.7h-2.1zM294 188.3h2.1v2.7h-2.1zM364 188.3h2.1v2.7h-2.1zM418 188.3h2.1v2.7h-2.1zM500 188.3h2.1v2.7h-2.1zM526 188.3h2.1v2.7h-2.1zM594 188.3h2.1v2.7h-2.1zM228 190.8h4.1v2.8h-4.1zM234 190.8h2.1v2.8h-2.1zM290 190.8h2.1v2.8h-2.1zM294 190.8h2.1v2.8h-2.1zM364 190.8h2.1v2.8h-2.1zM418 190.8h2.1v2.8h-2.1zM500 190.8h2.1v2.8h-2.1zM526 190.8h2.1v2.8h-2.1zM594 190.8h2.1v2.8h-2.1zM228 193.4h4.1v2.7h-4.1zM234 193.4h2.1v2.7h-2.1zM290 193.4h2.1v2.7h-2.1zM294 193.4h2.1v2.7h-2.1zM364 193.4h2.1v2.7h-2.1zM418 193.4h2.1v2.7h-2.1zM500 193.4h2.1v2.7h-2.1zM526 193.4h2.1v2.7h-2.1zM594 193.4h2.1v2.7h-2.1zM228 195.9h4.1v2.8h-4.1zM234 195.9h2.1v2.8h-2.1zM290 195.9h2.1v2.8h-2.1zM294 195.9h2.1v2.8h-2.1zM364 195.9h2.1v2.8h-2.1zM418 195.9h2.1v2.8h-2.1zM500 195.9h2.1v2.8h-2.1zM526 195.9h2.1v2.8h-2.1zM594 195.9h2.1v2.8h-2.1zM228 198.5h4.1v2.7h-4.1zM234 198.5h2.1v2.7h-2.1zM290 198.5h2.1v2.7h-2.1zM294 198.5h2.1v2.7h-2.1zM364 198.5h2.1v2.7h-2.1zM418 198.5h2.1v2.7h-2.1zM526 198.5h2.1v2.7h-2.1zM594 198.5h2.1v2.7h-2.1zM244 220h2.1v17.4h-2.1zM328 220h2.1v17.4h-2.1zM358 220h2.1v17.4h-2.1zM372 220h2.1v17.4h-2.1zM602 220h2.1v17.4h-2.1z"/>
<path fill="rgb(36,36,36)" d="M244 84.2h2.1v28.0h-2.1zM362 84.2h2.1v28.0h-2.1zM392 84.2h2.1v28.0h-2.1zM478 84.2h2.1v28.0h-2.1zM236 116.5h2.1v14.7h-2.1zM286 116.5h2.1v14.7h-2.1zM316 116.5h2.1v14.7h-2.1zM374 116.5h2.1v14.7h-2.1zM278 145h2.1v2.7h-2.1zM338 145h2.1v2.7h-2.1zM376 145h2.1v2.7h-2.1zM478 145h2.1v2.7h-2.1zM278 147.5h2.1v2.8h-2.1zM338 147.5h2.1v2.8h-2.1zM376 147.5h2.1v2.8h-2.1zM478 147.5h2.1v2.8h-2.1zM278 150.1h2.1v2.7h-2.1zM338 150.1h2.1v2.7h-2.1zM478 150.1h2.1v2.7h-2.1zM278 152.6h2.1v2.8h-2.1zM338 152.6h2.1v2.8h-2.1zM478 152.6h2.1v2.8h-2.1zM278 155.2h2.1v2.7h-2.1zM338 155.2h2.1v2.7h-2.1zM478 155.2h2.1v2.7h-2.1zM278 157.7h2.1v2.8h-2.1zM338 157.7h2.1v2.8h-2.1zM478 157.7h2.1v2.8h-2.1zM278 160.3h2.1v2.7h-2.1zM338 160.3h2.1v2.7h-2.1zM478 160.3h2.1v2.7h-2.1zM528 160.3h2.1v2.7h-2.1zM278 162.8h2.1v2.8h-2.1zM338 162.8h2.1v2.8h-2.1zM478 162.8h2.1v2.8h-2.1zM528 162.8h2.1v2.8h-2.1zM278 165.4h2.1v2.7h-2.1zM338 165.4h2.1v2.7h-2.1zM478 165.4h2.1v2.7h-2.1zM528 165.4h2.1v2.7h-2.1zM278 167.9h2.1v2.8h-2.1zM338 167.9h2.1v2.8h-2.1zM478 167.9h2.1v2.8h-2.1zM502 167.9h2.1v2.8h-2.1zM528 167.9h2.1v2.8h-2.1zM278 170.5h2.1v2.7h-2.1zM338 170.5h2.1v2.7h-2.1zM478 170.5h2.1v2.7h-2.1zM502 170.5h2.1v2.7h-2.1zM528 170.5h2.1v2.7h-2.1zM278 173h2.1v2.7h-2.1zM338 173h2.1v2.7h-2.1zM478 173h2.1v2.7h-2.1zM502 173h2.1v2.7h-2.1zM528 173h2.1v2.7h-2.1zM278 175.5h2.1v2.8h-2.1zM338 175.5h2.1v2.8h-2.1zM478 175.5h2.1v2.8h-2.1zM502 175.5h2.1v2.8h-2.1zM528 175.5h2.1v2.8h-2.1zM278 178.1h2.1v2.7h-2.1zM338 178.1h2.1v2.7h-2.1zM478 178.1h2.1v2.7h-2.1zM502 178.1h2.1v2.7h-2.1zM528 178.1h2.1v2.7h-2.1zM278 180.6h2.1v2.8h-2.1zM478 180.6h2.1v2.8h-2.1zM502 180.6h2.1v2.8h-2.1zM528 180.6h2.1v2.8h-2.1zM278 183.2h2.1v2.7h-2.1zM478 183.2h2.1v2.7h-2.1zM502 183.2h2.1v2.7h-2.1zM528 183.2h2.1v2.7h-2.1zM278 185.7h2.1v2.8h-2.1zM478 185.7h2.1v2.8h-2.1zM502 185.7h2.1v2.8h-2.1zM528 185.7h2.1v2.8h-2.1zM278 188.3h2.1v2.7h-2.1zM478 188.3h2.1v2.7h-2.1zM502 188.3h2.1v2.7h-2.1zM278 190.8h2.1v2.8h-2.1zM478 190.8h2.1v2.8h-2.1zM502 190.8h2.1v2.8h-2.1zM278 193.4h2.1v2.7h-2.1zM478 193.4h2.1v2.7h-2.1zM502 193.4h2.1v2.7h-2.1zM278 195.9h2.1v2.8h-2.1zM478 195.9h2.1v2.8h-2.1zM502 195.9h2.1v2.8h-2.1zM278 198.5h2.1v2.7h-2.1zM478 198.5h2.1v2.7h-2.1zM594 201h2.1v19.2h-2.1zM334 220h2.1v17.4h-2.1zM340 220h2.1v17.4h-2.1z"/>
<path fill="rgb(42,42,42)" d="M366 84.2h2.1v28.0h-2.1zM540 84.2h2.1v28.0h-2.1zM556 84.2h2.1v28.0h-2.1zM234 116.5h2.1v14.7h-2.1zM252 116.5h2.1v14.7h-2.1zM258 116.5h2.1v14.7h-2.1zM300 116.5h2.1v14.7h-2.1zM328 116.5h6.1v14.7h-6.1zM344 116.5h2.1v14.7h-2.1zM350 116.5h2.1v14.7h-2.1zM368 116.5h2.1v14.7h-2.1zM228 131h2.1v14.2h-2.1zM426 145h2.1v2.7h-2.1zM472 145h2.1v2.7h-2.1zM426 147.5h2.1v2.8h-2.1zM472 147.5h2.1v2.8h-2.1zM426 150.1h2.1v2.7h-2.1zM472 150.1h2.1v2.7h-2.1zM426 152.6h2.1v2.8h-2.1zM472 152.6h2.1v2.8h-2.1zM426 155.2h2.1v2.7h-2.1zM472 155.2h2.1v2.7h-2.1zM426 157.7h2.1v2.8h-2.1zM472 157.7h2.1v2.8h-2.1zM426 160.3h2.1v2.7h-2.1zM472 160.3h2.1v2.7h-2.1zM530 160.3h2.1v2.7h-2.1zM426 162.8h2.1v2.8h-2.1zM472 162.8h2.1v2.8h-2.1zM530 162.8h2.1v2.8h-2.1zM426 165.4h2.1v2.7h-2.1zM472 165.4h2.1v2.7h-2.1zM530 165.4h2.1v2.7h-2.1zM426 167.9h2.1v2.8h-2.1zM472 167.9h2.1v2.8h-2.1zM530 167.9h2.1v2.8h-2.1zM426 170.5h2.1v2.7h-2.1zM472 170.5h2.1v2.7h-2.1zM530 170.5h2.1v2.7h-2.1zM426 173h2.1v2.7h-2.1zM472 173h2.1v2.7h-2.1zM530 173h2.1v2.7h-2.1zM426 175.5h2.1v2.8h-2.1zM472 175.5h2.1v2.8h-2.1zM530 175.5h2.1v2.8h-2.1zM426 178.1h2.1v2.7h-2.1zM472 178.1h2.1v2.7h-2.1zM530 178.1h2.1v2.7h-2.1zM426 180.6h2.1v2.8h-2.1zM472 180.6h2.1v2.8h-2.1zM530 180.6h2.1v2.8h-2.1zM426 183.2h2.1v2.7h-2.1zM472 183.2h2.1v2.7h-2.1zM530 183.2h2.1v2.7h-2.1zM426 185.7h2.1v2.8h-2.1zM472 185.7h2.1v2.8h-2.1zM530 185.7h2.1v2.8h-2.1zM426 188.3h2.1v2.7h-2.1zM472 188.3h2.1v2.7h-2.1zM596 188.3h2.1v2.7h-2.1zM426 190.8h2.1v2.8h-2.1zM472 190.8h2.1v2.8h-2.1zM596 190.8h2.1v2.8h-2.1zM426 193.4h2.1v2.7h-2.1zM472 193.4h2.1v2.7h-2.1zM596 193.4h2.1v2.7h-2.1zM426 195.9h2.1v2.8h-2.1zM472 195.9h2.1v2.8h-2.1zM596 195.9h2.1v2.8h-2.1zM426 198.5h2.1v2.7h-2.1zM472 198.5h2.1v2.7h-2.1zM596 198.5h2.1v2.7h-2.1zM280 201h2.1v19.2h-2.1zM326 201h2.1v19.2h-2.1zM370 201h2.1v19.2h-2.1zM256 220h2.1v17.4h-2.1zM310 220h2.1v17.4h-2.1zM374 220h2.1v17.4h-2.1z"/>
<path fill="rgb(48,48,48)" d="M248 84.2h2.1v28.0h-2.1zM276 84.2h2.1v28.0h-2.1zM350 84.2h2.1v28.0h-2.1zM354 84.2h2.1v28.0h-2.1zM558 84.2h2.1v28.0h-2.1zM452 112h2.1v4.7h-2.1zM262 116.5h2.1v14.7h-2.1zM282 116.5h2.1v14.7h-2.1zM314 116.5h2.1v14.7h-2.1zM322 116.5h2.1v14.7h-2.1zM558 116.5h2.1v14.7h-2.1zM238 131h2.1v14.2h-2.1zM286 131h2.1v14.2h-2.1zM376 131h2.1v14.2h-2.1zM400 131h2.1v14.2h-2.1zM232 145h2.1v2.7h-2.1zM240 145h2.1v2.7h-2.1zM522 145h2.1v2.7h-2.1zM232 147.5h2.1v2.8h-2.1zM240 147.5h2.1v2.8h-2.1zM522 147.5h2.1v2.8h-2.1zM232 150.1h2.1v2.7h-2.1zM240 150.1h2.1v2.7h-2.1zM522 150.1h2.1v2.7h-2.1zM232 152.6h2.1v2.8h-2.1zM240 152.6h2.1v2.8h-2.1zM522 152.6h2.1v2.8h-2.1zM232 155.2h2.1v2.7h-2.1zM240 155.2h2.1v2.7h-2.1zM522 155.2h2.1v2.7h-2.1zM232 157.7h2.1v2.8h-2.1zM240 157.7h2.1v2.8h-2.1zM522 157.7h2.1v2.8h-2.1zM232 160.3h2.1v2.7h-2.1zM240 160.3h2.1v2.7h-2.1zM232 162.8h2.1v2.8h-2.1zM240 162.8h2.1v2.8h-2.1zM232 165.4h2.1v2.7h-2.1zM240 165.4h2.1v2.7h-2.1zM232 167.9h2.1v2.8h-2.1zM240 167.9h2.1v2.8h-2.1zM232 170.5h2.1v2.7h-2.1zM240 170.5h2.1v2.7h-2.1zM232 173h2.1v2.7h-2.1zM240 173h2.1v2.7h-2.1zM232 175.5h2.1v2.8h-2.1zM240 175.5h2.1v2.8h-2.1zM232 178.1h2.1v2.7h-2.1zM240 178.1h2.1v2.7h-2.1zM232 180.6h2.1v2.8h-2.1zM240 180.6h2.1v2.8h-2.1zM232 183.2h2.1v2.7h-2.1zM240 183.2h2.1v2.7h-2.1zM232 185.7h2.1v2.8h-2.1zM240 185.7h2.1v2.8h-2.1zM232 188.3h2.1v2.7h-2.1zM240 188.3h2.1v2.7h-2.1zM522 188.3h2.1v2.7h-2.1zM588 188.3h2.1v2.7h-2.1zM592 188.3h2.1v2.7h-2.1zM600 188.3h2.1v2.7h-2.1zM232 190.8h2.1v2.8h-2.1zM240 190.8h2.1v2.8h-2.1zM522 190.8h2.1v2.8h-2.1zM588 190.8h2.1v2.8h-2.1zM592 190.8h2.1v2.8h-2.1zM600 190.8h2.1v2.8h-2.1zM232 193.4h2.1v2.7h-2.1zM240 193.4h2.1v2.7h-2.1zM522 193.4h2.1v2.7h-2.1zM588 193.4h2.1v2.7h-2.1zM592 193.4h2.1v2.7h-2.1zM600 193.4h2.1v2.7h-2.1zM232 195.9h2.1v2.8h-2.1zM240 195.9h2.1v2.8h-2.1zM522 195.9h2.1v2.8h-2.1zM588 195.9h2.1v2.8h-2.1zM592 195.9h2.1v2.8h-2.1zM600 195.9h2.1v2.8h-2.1zM232 198.5h2.1v2.7h-2.1zM240 198.5h2.1v2.7h-2.1zM522 198.5h2.1v2.7h-2.1zM588 198.5h2.1v2.7h-2.1zM592 198.5h2.1v2.7h-2.1zM600 198.5h2.1v2.7h-2.1zM592 201h2.1v19.2h-2.1zM254 220h2.1v17.4h-2.1zM274 220h2.1v17.4h-2.1zM326 220h2.1v17.4h-2.1zM344 220h2.1v17.4h-2.1z"/>
<path fill="rgb(54,54,54)" d="M264 84.2h2.1v28.0h-2.1zM356 84.2h2.1v28.0h-2.1zM396 84.2h2.1v28.0h-2.1zM400 84.2h2.1v28.0h-2.1zM418 84.2h2.1v28.0h-2.1zM560 84.2h2.1v28.0h-2.1zM522 112h2.1v4.7h-2.1zM232 116.5h2.1v14.7h-2.1zM266 116.5h2.1v14.7h-2.1zM292 116.5h2.1v14.7h-2.1zM308 116.5h2.1v14.7h-2.1zM312 116.5h2.1v14.7h-2.1zM354 116.5h8.1v14.7h-8.1zM366 116.5h2.1v14.7h-2.1zM444 116.5h2.1v14.7h-2.1zM482 116.5h2.1v14.7h-2.1zM546 116.5h2.1v14.7h-2.1zM234 131h2.1v14.2h-2.1zM290 131h2.1v14.2h-2.1zM294 131h2.1v14.2h-2.1zM386 131h2.1v14.2h-2.1zM398 131h2.1v14.2h-2.1zM238 145h2.1v2.7h-2.1zM242 145h2.1v2.7h-2.1zM382 145h2.1v2.7h-2.1zM238 147.5h2.1v2.8h-2.1zM242 147.5h2.1v2.8h-2.1zM382 147.5h2.1v2.8h-2.1zM238 150.1h2.1v2.7h-2.1zM242 150.1h2.1v2.7h-2.1zM382 150.1h2.1v2.7h-2.1zM238 152.6h2.1v2.8h-2.1zM242 152.6h2.1v2.8h-2.1zM382 152.6h2.1v2.8h-2.1zM238 155.2h2.1v2.7h-2.1zM242 155.2h2.1v2.7h-2.1zM382 155.2h2.1v2.7h-2.1zM238 157.7h2.1v2.8h-2.1zM242 157.7h2.1v2.8h-2.1zM382 157.7h2.1v2.8h-2.1zM238 160.3h2.1v2.7h-2.1zM242 160.3h2.1v2.7h-2.1zM382 160.3h2.1v2.7h-2.1zM238 162.8h2.1v2.8h-2.1zM242 162.8h2.1v2.8h-2.1zM382 162.8h2.1v2.8h-2.1zM238 165.4h2.1v2.7h-2.1zM242 165.4h2.1v2.7h-2.1zM382 165.4h2.1v2.7h-2.1zM238 167.9h2.1v2.8h-2.1zM242 167.9h2.1v2.8h-2.1zM382 167.9h2.1v2.8h-2.1zM238 170.5h2.1v2.7h-2.1zM242 170.5h2.1v2.7h-2.1zM382 170.5h2.1v2.7h-2.1zM238 173h2.1v2.7h-2.1zM242 173h2.1v2.7h-2.1zM382 173h2.1v2.7h-2.1zM238 175.5h2.1v2.8h-2.1zM242 175.5h2.1v2.8h-2.1zM382 175.5h2.1v2.8h-2.1zM238 178.1h2.1v2.7h-2.1zM242 178.1h2.1v2.7h-2.1zM382 178.1h2.1v2.7h-2.1zM238 180.6h2.1v2.8h-2.1zM242 180.6h2.1v2.8h-2.1zM382 180.6h2.1v2.8h-2.1zM238 183.2h2.1v2.7h-2.1zM242 183.2h2.1v2.7h-2.1zM382 183.2h2.1v2.7h-2.1zM238 185.7h2.1v2.8h-2.1zM242 185.7h2.1v2.8h-2.1zM382 185.7h2.1v2.8h-2.1zM238 188.3h2.1v2.7h-2.1zM242 188.3h2.1v2.7h-2.1zM382 188.3h2.1v2.7h-2.1zM586 188.3h2.1v2.7h-2.1zM602 188.3h2.1v2.7h-2.1zM238 190.8h2.1v2.8h-2.1zM242 190.8h2.1v2.8h-2.1zM382 190.8h2.1v2.8h-2.1zM586 190.8h2.1v2.8h-2.1zM602 190.8h2.1v2.8h-2.1zM238 193.4h2.1v2.7h-2.1zM242 193.4h2.1v2.7h-2.1zM382 193.4h2.1v2.7h-2.1zM586 193.4h2.1v2.7h-2.1zM602 193.4h2.1v2.7h-2.1zM238 195.9h2.1v2.8h-2.1zM242 195.9h2.1v2.8h-2.1zM382 195.9h2.1v2.8h-2.1zM586 195.9h2.1v2.8h-2.1zM602 195.9h2.1v2.8h-2.1zM238 198.5h2.1v2.7h-2.1zM242 198.5h2.1v2.7h-2.1zM382 198.5h2.1v2.7h-2.1zM586 198.5h2.1v2.7h-2.1zM602 198.5h2.1v2.7h-2.1zM588 201h4.1v19.2h-4.1zM596 201h2.1v19.2h-2.1zM258 220h2.1v17.4h-2.1zM322 220h2.1v17.4h-2.1zM428 220h2.1v17.4h-2.1zM546 220h2.1v17.4h-2.1z"/>
<path fill="rgb(60,60,60)" d="M236 84.2h2.1v28.0h-2.1zM252 84.2h2.1v28.0h-2.1zM348 84.2h2.1v28.0h-2.1zM360 84.2h2.1v28.0h-2.1zM472 84.2h2.1v28.0h-2.1zM484 84.2h2.1v28.0h-2.1zM514 84.2h2.1v28.0h-2.1zM594 84.2h2.1v28.0h-2.1zM240 116.5h2.1v14.7h-2.1zM272 116.5h2.1v14.7h-2.1zM276 116.5h2.1v14.7h-2.1zM302 116.5h2.1v14.7h-2.1zM324 116.5h2.1v14.7h-2.1zM346 116.5h2.1v14.7h-2.1zM408 116.5h2.1v14.7h-2.1zM232 131h2.1v14.2h-2.1zM296 131h2.1v14.2h-2.1zM378 131h2.1v14.2h-2.1zM444 145h4.1v2.7h-4.1zM492 145h2.1v2.7h-2.1zM566 145h2.1v2.7h-2.1zM444 147.5h4.1v2.8h-4.1zM492 147.5h2.1v2.8h-2.1zM566 147.5h2.1v2.8h-2.1zM444 150.1h4.1v2.7h-4.1zM492 150.1h2.1v2.7h-2.1zM566 150.1h2.1v2.7h-2.1zM444 152.6h4.1v2.8h-4.1zM492 152.6h2.1v2.8h-2.1zM566 152.6h2.1v2.8h-2.1zM444 155.2h4.1v2.7h-4.1zM492 155.2h2.1v2.7h-2.1zM566 155.2h2.1v2.7h-2.1zM444 157.7h4.1v2.8h-4.1zM492 157.7h2.1v2.8h-2.1zM566 157.7h2.1v2.8h-2.1zM444 160.3h4.1v2.7h-4.1zM492 160.3h2.1v2.7h-2.1zM524 160.3h2.1v2.7h-2.1zM566 160.3h2.1v2.7h-2.1zM444 162.8h4.1v2.8h-4.1zM492 162.8h2.1v2.8h-2.1zM524 162.8h2.1v2.8h-2.1zM566 162.8h2.1v2.8h-2.1zM444 165.4h4.1v2.7h-4.1zM492 165.4h2.1v2.7h-2.1zM524 165.4h2.1v2.7h-2.1zM566 165.4h2.1v2.7h-2.1zM444 167.9h4.1v2.8h-4.1zM492 167.9h2.1v2.8h-2.1zM524 167.9h2.1v2.8h-2.1zM566 167.9h2.1v2.8h-2.1zM444 170.5h4.1v2.7h-4.1zM492 170.5h2.1v2.7h-2.1zM524 170.5h2.1v2.7h-2.1zM566 170.5h2.1v2.7h-2.1zM444 173h4.1v2.7h-4.1zM492 173h2.1v2.7h-2.1zM524 173h2.1v2.7h-2.1zM566 173h2.1v2.7h-2.1zM444 175.5h4.1v2.8h-4.1zM492 175.5h2.1v2.8h-2.1zM524 175.5h2.1v2.8h-2.1zM566 175.5h2.1v2.8h-2.1zM444 178.1h4.1v2.7h-4.1zM492 178.1h2.1v2.7h-2.1zM524 178.1h2.1v2.7h-2.1zM566 178.1h2.1v2.7h-2.1zM444 180.6h4.1v2.8h-4.1zM492 180.6h2.1v2.8h-2.1zM524 180.6h2.1v2.8h-2.1zM566 180.6h2.1v2.8h-2.1zM444 183.2h4.1v2.7h-4.1zM492 183.2h2.1v2.7h-2.1zM524 183.2h2.1v2.7h-2.1zM566 183.2h2.1v2.7h-2.1zM444 185.7h4.1v2.8h-4.1zM492 185.7h2.1v2.8h-2.1zM524 185.7h2.1v2.8h-2.1zM566 185.7h2.1v2.8h-2.1zM444 188.3h4.1v2.7h-4.1zM492 188.3h2.1v2.7h-2.1zM566 188.3h2.1v2.7h-2.1zM444 190.8h4.1v2.8h-4.1zM492 190.8h2.1v2.8h-2.1zM566 190.8h2.1v2.8h-2.1zM444 193.4h4.1v2.7h-4.1zM492 193.4h2.1v2.7h-2.1zM566 193.4h2.1v2.7h-2.1zM444 195.9h4.1v2.8h-4.1zM492 195.9h2.1v2.8h-2.1zM566 195.9h2.1v2.8h-2.1zM444 198.5h4.1v2.7h-4.1zM492 198.5h2.1v2.7h-2.1zM566 198.5h2.1v2.7h-2.1zM272 201h2.1v19.2h-2.1zM282 201h2.1v19.2h-2.1zM294 201h2.1v19.2h-2.1zM430 201h4.1v19.2h-4.1zM248 220h2.1v17.4h-2.1zM252 220h2.1v17.4h-2.1zM324 220h2.1v17.4h-2.1zM338 220h2.1v17.4h-2.1z"/>
<path fill="rgb(66,66,66)" d="M230 84.2h2.1v28.0h-2.1zM234 84.2h2.1v28.0h-2.1zM256 84.2h4.1v28.0h-4.1zM298 84.2h2.1v28.0h-2.1zM344 84.2h2.1v28.0h-2.1zM364 84.2h2.1v28.0h-2.1zM426 84.2h4.1v28.0h-4.1zM434 84.2h2.1v28.0h-2.1zM458 84.2h2.1v28.0h-2.1zM512 84.2h2.1v28.0h-2.1zM536 84.2h2.1v28.0h-2.1zM562 84.2h2.1v28.0h-2.1zM432 112h2.1v4.7h-2.1zM482 112h2.1v4.7h-2.1zM570 112h2.1v4.7h-2.1zM228 116.5h2.1v14.7h-2.1zM256 116.5h2.1v14.7h-2.1zM274 116.5h2.1v14.7h-2.1zM304 116.5h2.1v14.7h-2.1zM378 116.5h2.1v14.7h-2.1zM430 116.5h2.1v14.7h-2.1zM230 131h2.1v14.2h-2.1zM242 131h2.1v14.2h-2.1zM288 131h2.1v14.2h-2.1zM332 131h2.1v14.2h-2.1zM382 131h2.1v14.2h-2.1zM512 131h2.1v14.2h-2.1zM558 131h2.1v14.2h-2.1zM386 145h2.1v2.7h-2.1zM400 145h2.1v2.7h-2.1zM430 145h2.1v2.7h-2.1zM484 145h2.1v2.7h-2.1zM498 145h2.1v2.7h-2.1zM534 145h2.1v2.7h-2.1zM552 145h2.1v2.7h-2.1zM560 145h2.1v2.7h-2.1zM386 147.5h2.1v2.8h-2.1zM400 147.5h2.1v2.8h-2.1zM430 147.5h2.1v2.8h-2.1zM484 147.5h2.1v2.8h-2.1zM498 147.5h2.1v2.8h-2.1zM534 147.5h2.1v2.8h-2.1zM552 147.5h2.1v2.8h-2.1zM560 147.5h2.1v2.8h-2.1zM386 150.1h2.1v2.7h-2.1zM400 150.1h2.1v2.7h-2.1zM430 150.1h2.1v2.7h-2.1zM484 150.1h2.1v2.7h-2.1zM498 150.1h2.1v2.7h-2.1zM534 150.1h2.1v2.7h-2.1zM552 150.1h2.1v2.7h-2.1zM560 150.1h2.1v2.7h-2.1zM386 152.6h2.1v2.8h-2.1zM400 152.6h2.1v2.8h-2.1zM430 152.6h2.1v2.8h-2.1zM484 152.6h2.1v2.8h-2.1zM498 152.6h2.1v2.8h-2.1zM534 152.6h2.1v2.8h-2.1zM552 152.6h2.1v2.8h-2.1zM560 152.6h2.1v2.8h-2.1zM386 155.2h2.1v2.7h-2.1zM400 155.2h2.1v2.7h-2.1zM430 155.2h2.1v2.7h-2.1zM484 155.2h2.1v2.7h-2.1zM498 155.2h2.1v2.7h-2.1zM534 155.2h2.1v2.7h-2.1zM552 155.2h2.1v2.7h-2.1zM560 155.2h2.1v2.7h-2.1zM386 157.7h2.1v2.8h-2.1zM400 157.7h2.1v2.8h-2.1zM430 157.7h2.1v2.8h-2.1zM484 157.7h2.1v2.8h-2.1zM498 157.7h2.1v2.8h-2.1zM534 157.7h2.1v2.8h-2.1zM552 157.7h2.1v2.8h-2.1zM560 157.7h2.1v2.8h-2.1zM386 160.3h2.1v2.7h-2.1zM400 160.3h2.1v2.7h-2.1zM430 160.3h2.1v2.7h-2.1zM484 160.3h2.1v2.7h-2.1zM498 160.3h2.1v2.7h-2.1zM534 160.3h2.1v2.7h-2.1zM552 160.3h2.1v2.7h-2.1zM560 160.3h2.1v2.7h-2.1zM374 162.8h2.1v2.8h-2.1zM386 162.8h2.1v2.8h-2.1zM400 162.8h2.1v2.8h-2.1zM430 162.8h2.1v2.8h-2.1zM484 162.8h2.1v2.8h-2.1zM498 162.8h2.1v2.8h-2.1zM534 162.8h2.1v2.8h-2.1zM552 162.8h2.1v2.8h-2.1zM560 162.8h2.1v2.8h-2.1zM374 165.4h2.1v2.7h-2.1zM386 165.4h2.1v2.7h-2.1zM400 165.4h2.1v2.7h-2.1zM430 165.4h2.1v2.7h-2.1zM484 165.4h2.1v2.7h-2.1zM498 165.4h2.1v2.7h-2.1zM534 165.4h2.1v2.7h-2.1zM552 165.4h2.1v2.7h-2.1zM560 165.4h2.1v2.7h-2.1zM374 167.9h2.1v2.8h-2.1zM386 167.9h2.1v2.8h-2.1zM400 167.9h2.1v2.8h-2.1zM430 167.9h2.1v2.8h-2.1zM484 167.9h2.1v2.8h-2.1zM534 167.9h2.1v2.8h-2.1zM552 167.9h2.1v2.8h-2.1zM560 167.9h2.1v2.8h-2.1zM374 170.5h2.1v2.7h-2.1zM386 170.5h2.1v2.7h-2.1zM400 170.5h2.1v2.7h-2.1zM430 170.5h2.1v2.7h-2.1zM484 170.5h2.1v2.7h-2.1zM534 170.5h2.1v2.7h-2.1zM552 170.5h2.1v2.7h-2.1zM560 170.5h2.1v2.7h-2.1zM374 173h2.1v2.7h-2.1zM386 173h2.1v2.7h-2.1zM400 173h2.1v2.7h-2.1zM430 173h2.1v2.7h-2.1zM484 173h2.1v2.7h-2.1zM534 173h2.1v2.7h-2.1zM552 173h2.1v2.7h-2.1zM560 173h2.1v2.7h-2.1zM374 175.5h2.1v2.8h-2.1zM386 175.5h2.1v2.8h-2.1zM400 175.5h2.1v2.8h-2.1zM430 175.5h2.1v2.8h-2.1zM484 175.5h2.1v2.8h-2.1zM534 175.5h2.1v2.8h-2.1zM552 175.5h2.1v2.8h-2.1zM560 175.5h2.1v2.8h-2.1zM374 178.1h2.1v2.7h-2.1zM386 178.1h2.1v2.7h-2.1zM400 178.1h2.1v2.7h-2.1zM430 178.1h2.1v2.7h-2.1zM484 178.1h2.1v2.7h-2.1zM534 178.1h2.1v2.7h-2.1zM552 178.1h2.1v2.7h-2.1zM560 178.1h2.1v2.7h-2.1zM374 180.6h2.1v2.8h-2.1zM386 180.6h2.1v2.8h-2.1zM400 180.6h2.1v2.8h-2.1zM430 180.6h2.1v2.8h-2.1zM484 180.6h2.1v2.8h-2.1zM534 180.6h2.1v2.8h-2.1zM552 180.6h2.1v2.8h-2.1zM560 180.6h2.1v2.8h-2.1zM374 183.2h2.1v2.7h-2.1zM386 183.2h2.1v2.7h-2.1zM400 183.2h2.1v2.7h-2.1zM430 183.2h2.1v2.7h-2.1zM484 183.2h2.1v2.7h-2.1zM534 183.2h2.1v2.7h-2.1zM552 183.2h2.1v2.7h-2.1zM560 183.2h2.1v2.7h-2.1zM374 185.7h2.1v2.8h-2.1zM386 185.7h2.1v2.8h-2.1zM400 185.7h2.1v2.8h-2.1zM430 185.7h2.1v2.8h-2.1zM484 185.7h2.1v2.8h-2.1zM534 185.7h2.1v2.8h-2.1zM552 185.7h2.1v2.8h-2.1zM560 185.7h2.1v2.8h-2.1zM374 188.3h2.1v2.7h-2.1zM386 188.3h2.1v2.7h-2.1zM400 188.3h2.1v2.7h-2.1zM430 188.3h2.1v2.7h-2.1zM484 188.3h2.1v2.7h-2.1zM534 188.3h2.1v2.7h-2.1zM552 188.3h2.1v2.7h-2.1zM560 188.3h2.1v2.7h-2.1zM598 188.3h2.1v2.7h-2.1zM374 190.8h2.1v2.8h-2.1zM386 190.8h2.1v2.8h-2.1zM400 190.8h2.1v2.8h-2.1zM430 190.8h2.1v2.8h-2.1zM484 190.8h2.1v2.8h-2.1zM534 190.8h2.1v2.8h-2.1zM552 190.8h2.1v2.8h-2.1zM560 190.8h2.1v2.8h-2.1zM598 190.8h2.1v2.8h-2.1zM374 193.4h2.1v2.7h-2.1zM386 193.4h2.1v2.7h-2.1zM400 193.4h2.1v2.7h-2.1zM430 193.4h2.1v2.7h-2.1zM484 193.4h2.1v2.7h-2.1zM534 193.4h2.1v2.7h-2.1zM552 193.4h2.1v2.7h-2.1zM560 193.4h2.1v2.7h-2.1zM598 193.4h2.1v2.7h-2.1zM374 195.9h2.1v2.8h-2.1zM386 195.9h2.1v2.8h-2.1zM400 195.9h2.1v2.8h-2.1zM430 195.9h2.1v2.8h-2.1zM484 195.9h2.1v2.8h-2.1zM534 195.9h2.1v2.8h-2.1zM552 195.9h2.1v2.8h-2.1zM560 195.9h2.1v2.8h-2.1zM598 195.9h2.1v2.8h-2.1zM374 198.5h2.1v2.7h-2.1zM386 198.5h2.1v2.7h-2.1zM400 198.5h2.1v2.7h-2.1zM430 198.5h2.1v2.7h-2.1zM484 198.5h2.1v2.7h-2.1zM498 198.5h2.1v2.7h-2.1zM534 198.5h2.1v2.7h-2.1zM552 198.5h2.1v2.7h-2.1zM560 198.5h2.1v2.7h-2.1zM598 198.5h2.1v2.7h-2.1zM236 201h2.1v19.2h-2.1zM268 201h2.1v19.2h-2.1zM324 201h2.1v19.2h-2.1zM598 201h6.1v19.2h-6.1zM264 220h2.1v17.4h-2.1zM268 220h2.1v17.4h-2.1zM330 220h2.1v17.4h-2.1z"/>
<path fill="rgb(72,72,72)" d="M228 84.2h2.1v28.0h-2.1zM306 84.2h2.1v28.0h-2.1zM378 84.2h2.1v28.0h-2.1zM386 84.2h2.1v28.0h-2.1zM430 84.2h2.1v28.0h-2.1zM452 84.2h2.1v28.0h-2.1zM456 84.2h2.1v28.0h-2.1zM476 84.2h2.1v28.0h-2.1zM526 84.2h2.1v28.0h-2.1zM574 84.2h2.1v28.0h-2.1zM582 84.2h2.1v28.0h-2.1zM592 84.2h2.1v28.0h-2.1zM390 112h4.1v4.7h-4.1zM558 112h2.1v4.7h-2.1zM594 112h2.1v4.7h-2.1zM242 116.5h2.1v14.7h-2.1zM246 116.5h2.1v14.7h-2.1zM284 116.5h2.1v14.7h-2.1zM294 116.5h2.1v14.7h-2.1zM306 116.5h2.1v14.7h-2.1zM348 116.5h2.1v14.7h-2.1zM382 116.5h2.1v14.7h-2.1zM386 116.5h2.1v14.7h-2.1zM392 116.5h2.1v14.7h-2.1zM422 116.5h2.1v14.7h-2.1zM428 116.5h2.1v14.7h-2.1zM478 116.5h2.1v14.7h-2.1zM494 116.5h2.1v14.7h-2.1zM518 116.5h2.1v14.7h-2.1zM540 116.5h2.1v14.7h-2.1zM310 131h2.1v14.2h-2.1zM380 131h2.1v14.2h-2.1zM408 131h2.1v14.2h-2.1zM458 131h2.1v14.2h-2.1zM482 131h2.1v14.2h-2.1zM562 131h2.1v14.2h-2.1zM388 145h2.1v2.7h-2.1zM398 145h2.1v2.7h-2.1zM422 145h2.1v2.7h-2.1zM448 145h2.1v2.7h-2.1zM558 145h2.1v2.7h-2.1zM580 145h2.1v2.7h-2.1zM388 147.5h2.1v2.8h-2.1zM398 147.5h2.1v2.8h-2.1zM422 147.5h2.1v2.8h-2.1zM448 147.5h2.1v2.8h-2.1zM558 147.5h2.1v2.8h-2.1zM580 147.5h2.1v2.8h-2.1zM388 150.1h2.1v2.7h-2.1zM398 150.1h2.1v2.7h-2.1zM422 150.1h2.1v2.7h-2.1zM448 150.1h2.1v2.7h-2.1zM558 150.1h2.1v2.7h-2.1zM580 150.1h2.1v2.7h-2.1zM388 152.6h2.1v2.8h-2.1zM398 152.6h2.1v2.8h-2.1zM422 152.6h2.1v2.8h-2.1zM448 152.6h2.1v2.8h-2.1zM558 152.6h2.1v2.8h-2.1zM580 152.6h2.1v2.8h-2.1zM388 155.2h2.1v2.7h-2.1zM398 155.2h2.1v2.7h-2.1zM422 155.2h2.1v2.7h-2.1zM448 155.2h2.1v2.7h-2.1zM558 155.2h2.1v2.7h-2.1zM580 155.2h2.1v2.7h-2.1zM388 157.7h2.1v2.8h-2.1zM398 157.7h2.1v2.8h-2.1zM422 157.7h2.1v2.8h-2.1zM448 157.7h2.1v2.8h-2.1zM558 157.7h2.1v2.8h-2.1zM580 157.7h2.1v2.8h-2.1zM388 160.3h2.1v2.7h-2.1zM398 160.3h2.1v2.7h-2.1zM422 160.3h2.1v2.7h-2.1zM448 160.3h2.1v2.7h-2.1zM558 160.3h2.1v2.7h-2.1zM580 160.3h2.1v2.7h-2.1zM388 162.8h2.1v2.8h-2.1zM398 162.8h2.1v2.8h-2.1zM422 162.8h2.1v2.8h-2.1zM448 162.8h2.1v2.8h-2.1zM558 162.8h2.1v2.8h-2.1zM580 162.8h2.1v2.8h-2.1zM388 165.4h2.1v2.7h-2.1zM398 165.4h2.1v2.7h-2.1zM422 165.4h2.1v2.7h-2.1zM448 165.4h2.1v2.7h-2.1zM558 165.4h2.1v2.7h-2.1zM580 165.4h2.1v2.7h-2.1zM388 167.9h2.1v2.8h-2.1zM398 167.9h2.1v2.8h-2.1zM422 167.9h2.1v2.8h-2.1zM448 167.9h2.1v2.8h-2.1zM558 167.9h2.1v2.8h-2.1zM580 167.9h2.1v2.8h-2.1zM388 170.5h2.1v2.7h-2.1zM398 170.5h2.1v2.7h-2.1zM422 170.5h2.1v2.7h-2.1zM448 170.5h2.1v2.7h-2.1zM558 170.5h2.1v2.7h-2.1zM580 170.5h2.1v2.7h-2.1zM388 173h2.1v2.7h-2.1zM398 173h2.1v2.7h-2.1zM422 173h2.1v2.7h-2.1zM448 173h2.1v2.7h-2.1zM558 173h2.1v2.7h-2.1zM580 173h2.1v2.7h-2.1zM388 175.5h2.1v2.8h-2.1zM398 175.5h2.1v2.8h-2.1zM422 175.5h2.1v2.8h-2.1zM448 175.5h2.1v2.8h-2.1zM558 175.5h2.1v2.8h-2.1zM580 175.5h2.1v2.8h-2.1zM388 178.1h2.1v2.7h-2.1zM398 178.1h2.1v2.7h-2.1zM422 178.1h2.1v2.7h-2.1zM448 178.1h2.1v2.7h-2.1zM558 178.1h2.1v2.7h-2.1zM580 178.1h2.1v2.7h-2.1zM388 180.6h2.1v2.8h-2.1zM398 180.6h2.1v2.8h-2.1zM422 180.6h2.1v2.8h-2.1zM448 180.6h2.1v2.8h-2.1zM558 180.6h2.1v2.8h-2.1zM580 180.6h2.1v2.8h-2.1zM388 183.2h2.1v2.7h-2.1zM398 183.2h2.1v2.7h-2.1zM422 183.2h2.1v2.7h-2.1zM448 183.2h2.1v2.7h-2.1zM558 183.2h2.1v2.7h-2.1zM580 183.2h2.1v2.7h-2.1zM388 185.7h2.1v2.8h-2.1zM398 185.7h2.1v2.8h-2.1zM422 185.7h2.1v2.8h-2.1zM448 185.7h2.1v2.8h-2.1zM558 185.7h2.1v2.8h-2.1zM580 185.7h2.1v2.8h-2.1zM388 188.3h2.1v2.7h-2.1zM398 188.3h2.1v2.7h-2.1zM422 188.3h2.1v2.7h-2.1zM448 188.3h2.1v2.7h-2.1zM558 188.3h2.1v2.7h-2.1zM580 188.3h2.1v2.7h-2.1zM388 190.8h2.1v2.8h-2.1zM398 190.8h2.1v2.8h-2.1zM422 190.8h2.1v2.8h-2.1zM448 190.8h2.1v2.8h-2.1zM558 190.8h2.1v2.8h-2.1zM580 190.8h2.1v2.8h-2.1zM388 193.4h2.1v2.7h-2.1zM398 193.4h2.1v2.7h-2.1zM422 193.4h2.1v2.7h-2.1zM448 193.4h2.1v2.7h-2.1zM558 193.4h2.1v2.7h-2.1zM580 193.4h2.1v2.7h-2.1zM388 195.9h2.1v2.8h-2.1zM398 195.9h2.1v2.8h-2.1zM422 195.9h2.1v2.8h-2.1zM448 195.9h2.1v2.8h-2.1zM558 195.9h2.1v2.8h-2.1zM580 195.9h2.1v2.8h-2.1zM388 198.5h2.1v2.7h-2.1zM398 198.5h2.1v2.7h-2.1zM422 198.5h2.1v2.7h-2.1zM448 198.5h2.1v2.7h-2.1zM558 198.5h2.1v2.7h-2.1zM580 198.5h2.1v2.7h-2.1zM260 201h2.1v19.2h-2.1zM264 201h2.1v19.2h-2.1zM270 201h2.1v19.2h-2.1zM306 220h2.1v17.4h-2.1zM312 220h2.1v17.4h-2.1zM378 220h4.1v17.4h-4.1zM430 220h2.1v17.4h-2.1z"/>
<path fill="rgb(78,78,78)" d="M240 84.2h2.1v28.0h-2.1zM262 84.2h2.1v28.0h-2.1zM274 84.2h2.1v28.0h-2.1zM300 84.2h4.1v28.0h-4.1zM312 84.2h2.1v28.0h-2.1zM408 84.2h2.1v28.0h-2.1zM422 84.2h4.1v28.0h-4.1zM454 84.2h2.1v28.0h-2.1zM474 84.2h2.1v28.0h-2.1zM482 84.2h2.1v28.0h-2.1zM522 84.2h2.1v28.0h-2.1zM542 84.2h6.1v28.0h-6.1zM564 84.2h2.1v28.0h-2.1zM570 84.2h2.1v28.0h-2.1zM408 112h2.1v4.7h-2.1zM448 112h2.1v4.7h-2.1zM478 112h2.1v4.7h-2.1zM500 112h2.1v4.7h-2.1zM562 112h2.1v4.7h-2.1zM364 116.5h2.1v14.7h-2.1zM394 116.5h2.1v14.7h-2.1zM458 116.5h2.1v14.7h-2.1zM466 116.5h2.1v14.7h-2.1zM472 116.5h2.1v14.7h-2.1zM520 116.5h2.1v14.7h-2.1zM570 116.5h4.1v14.7h-4.1zM278 131h2.1v14.2h-2.1zM328 131h4.1v14.2h-4.1zM362 131h2.1v14.2h-2.1zM392 131h2.1v14.2h-2.1zM396 131h2.1v14.2h-2.1zM430 131h4.1v14.2h-4.1zM500 131h2.1v14.2h-2.1zM526 131h2.1v14.2h-2.1zM540 131h2.1v14.2h-2.1zM570 131h2.1v14.2h-2.1zM452 145h2.1v2.7h-2.1zM496 145h2.1v2.7h-2.1zM528 145h2.1v2.7h-2.1zM536 145h2.1v2.7h-2.1zM556 145h2.1v2.7h-2.1zM562 145h4.1v2.7h-4.1zM452 147.5h2.1v2.8h-2.1zM496 147.5h2.1v2.8h-2.1zM528 147.5h2.1v2.8h-2.1zM536 147.5h2.1v2.8h-2.1zM556 147.5h2.1v2.8h-2.1zM562 147.5h4.1v2.8h-4.1zM452 150.1h2.1v2.7h-2.1zM496 150.1h2.1v2.7h-2.1zM528 150.1h2.1v2.7h-2.1zM536 150.1h2.1v2.7h-2.1zM556 150.1h2.1v2.7h-2.1zM562 150.1h4.1v2.7h-4.1zM452 152.6h2.1v2.8h-2.1zM496 152.6h2.1v2.8h-2.1zM528 152.6h2.1v2.8h-2.1zM536 152.6h2.1v2.8h-2.1zM556 152.6h2.1v2.8h-2.1zM562 152.6h4.1v2.8h-4.1zM452 155.2h2.1v2.7h-2.1zM496 155.2h2.1v2.7h-2.1zM528 155.2h2.1v2.7h-2.1zM536 155.2h2.1v2.7h-2.1zM556 155.2h2.1v2.7h-2.1zM562 155.2h4.1v2.7h-4.1zM452 157.7h2.1v2.8h-2.1zM496 157.7h2.1v2.8h-2.1zM528 157.7h2.1v2.8h-2.1zM536 157.7h2.1v2.8h-2.1zM556 157.7h2.1v2.8h-2.1zM562 157.7h4.1v2.8h-4.1zM452 160.3h2.1v2.7h-2.1zM496 160.3h2.1v2.7h-2.1zM536 160.3h2.1v2.7h-2.1zM556 160.3h2.1v2.7h-2.1zM562 160.3h4.1v2.7h-4.1zM452 162.8h2.1v2.8h-2.1zM496 162.8h2.1v2.8h-2.1zM536 162.8h2.1v2.8h-2.1zM556 162.8h2.1v2.8h-2.1zM562 162.8h4.1v2.8h-4.1zM590 162.8h2.1v2.8h-2.1zM452 165.4h2.1v2.7h-2.1zM496 165.4h2.1v2.7h-2.1zM536 165.4h2.1v2.7h-2.1zM556 165.4h2.1v2.7h-2.1zM562 165.4h4.1v2.7h-4.1zM590 165.4h2.1v2.7h-2.1zM452 167.9h2.1v2.8h-2.1zM536 167.9h2.1v2.8h-2.1zM556 167.9h2.1v2.8h-2.1zM562 167.9h4.1v2.8h-4.1zM590 167.9h2.1v2.8h-2.1zM452 170.5h2.1v2.7h-2.1zM536 170.5h2.1v2.7h-2.1zM556 170.5h2.1v2.7h-2.1zM562 170.5h4.1v2.7h-4.1zM590 170.5h2.1v2.7h-2.1zM452 173h2.1v2.7h-2.1zM536 173h2.1v2.7h-2.1zM556 173h2.1v2.7h-2.1zM562 173h4.1v2.7h-4.1zM590 173h2.1v2.7h-2.1zM452 175.5h2.1v2.8h-2.1zM536 175.5h2.1v2.8h-2.1zM556 175.5h2.1v2.8h-2.1zM562 175.5h4.1v2.8h-4.1zM590 175.5h2.1v2.8h-2.1zM452 178.1h2.1v2.7h-2.1zM536 178.1h2.1v2.7h-2.1zM556 178.1h2.1v2.7h-2.1zM562 178.1h4.1v2.7h-4.1zM590 178.1h2.1v2.7h-2.1zM452 180.6h2.1v2.8h-2.1zM536 180.6h2.1v2.8h-2.1zM556 180.6h2.1v2.8h-2.1zM562 180.6h4.1v2.8h-4.1zM590 180.6h2.1v2.8h-2.1zM452 183.2h2.1v2.7h-2.1zM536 183.2h2.1v2.7h-2.1zM556 183.2h2.1v2.7h-2.1zM562 183.2h4.1v2.7h-4.1zM590 183.2h2.1v2.7h-2.1zM452 185.7h2.1v2.8h-2.1zM536 185.7h2.1v2.8h-2.1zM556 185.7h2.1v2.8h-2.1zM562 185.7h4.1v2.8h-4.1zM590 185.7h2.1v2.8h-2.1zM452 188.3h2.1v2.7h-2.1zM528 188.3h2.1v2.7h-2.1zM536 188.3h2.1v2.7h-2.1zM556 188.3h2.1v2.7h-2.1zM562 188.3h4.1v2.7h-4.1zM452 190.8h2.1v2.8h-2.1zM528 190.8h2.1v2.8h-2.1zM536 190.8h2.1v2.8h-2.1zM556 190.8h2.1v2.8h-2.1zM562 190.8h4.1v2.8h-4.1zM452 193.4h2.1v2.7h-2.1zM528 193.4h2.1v2.7h-2.1zM536 193.4h2.1v2.7h-2.1zM556 193.4h2.1v2.7h-2.1zM562 193.4h4.1v2.7h-4.1zM452 195.9h2.1v2.8h-2.1zM528 195.9h2.1v2.8h-2.1zM536 195.9h2.1v2.8h-2.1zM556 195.9h2.1v2.8h-2.1zM562 195.9h4.1v2.8h-4.1zM452 198.5h2.1v2.7h-2.1zM496 198.5h2.1v2.7h-2.1zM528 198.5h2.1v2.7h-2.1zM536 198.5h2.1v2.7h-2.1zM556 198.5h2.1v2.7h-2.1zM562 198.5h4.1v2.7h-4.1zM278 201h2.1v19.2h-2.1zM322 201h2.1v19.2h-2.1zM392 201h2.1v19.2h-2.1zM418 201h2.1v19.2h-2.1zM492 201h2.1v19.2h-2.1zM568 201h2.1v19.2h-2.1zM586 201h2.1v19.2h-2.1zM316 220h2.1v17.4h-2.1zM376 220h2.1v17.4h-2.1zM570 220h2.1v17.4h-2.1z"/>
<path fill="rgb(84,84,84)" d="M254 84.2h2.1v28.0h-2.1zM260 84.2h2.1v28.0h-2.1zM268 84.2h2.1v28.0h-2.1zM352 84.2h2.1v28.0h-2.1zM380 84.2h4.1v28.0h-4.1zM404 84.2h2.1v28.0h-2.1zM414 84.2h2.1v28.0h-2.1zM436 84.2h2.1v28.0h-2.1zM462 84.2h2.1v28.0h-2.1zM486 84.2h2.1v28.0h-2.1zM490 84.2h2.1v28.0h-2.1zM520 84.2h2.1v28.0h-2.1zM568 84.2h2.1v28.0h-2.1zM572 84.2h2.1v28.0h-2.1zM588 84.2h2.1v28.0h-2.1zM282 112h2.1v4.7h-2.1zM342 112h2.1v4.7h-2.1zM496 112h2.1v4.7h-2.1zM502 112h2.1v4.7h-2.1zM546 112h2.1v4.7h-2.1zM296 116.5h2.1v14.7h-2.1zM310 116.5h2.1v14.7h-2.1zM418 116.5h2.1v14.7h-2.1zM438 116.5h2.1v14.7h-2.1zM486 116.5h2.1v14.7h-2.1zM492 116.5h2.1v14.7h-2.1zM514 116.5h2.1v14.7h-2.1zM526 116.5h2.1v14.7h-2.1zM536 116.5h2.1v14.7h-2.1zM556 116.5h2.1v14.7h-2.1zM568 116.5h2.1v14.7h-2.1zM584 116.5h4.1v14.7h-4.1zM240 131h2.1v14.2h-2.1zM316 131h2.1v14.2h-2.1zM406 131h2.1v14.2h-2.1zM410 131h2.1v14.2h-2.1zM420 131h4.1v14.2h-4.1zM444 131h2.1v14.2h-2.1zM498 131h2.1v14.2h-2.1zM522 131h2.1v14.2h-2.1zM530 131h2.1v14.2h-2.1zM544 131h2.1v14.2h-2.1zM378 145h2.1v2.7h-2.1zM392 145h2.1v2.7h-2.1zM424 145h2.1v2.7h-2.1zM456 145h2.1v2.7h-2.1zM480 145h2.1v2.7h-2.1zM488 145h2.1v2.7h-2.1zM500 145h2.1v2.7h-2.1zM378 147.5h2.1v2.8h-2.1zM392 147.5h2.1v2.8h-2.1zM424 147.5h2.1v2.8h-2.1zM456 147.5h2.1v2.8h-2.1zM480 147.5h2.1v2.8h-2.1zM488 147.5h2.1v2.8h-2.1zM500 147.5h2.1v2.8h-2.1zM378 150.1h2.1v2.7h-2.1zM392 150.1h2.1v2.7h-2.1zM424 150.1h2.1v2.7h-2.1zM456 150.1h2.1v2.7h-2.1zM480 150.1h2.1v2.7h-2.1zM488 150.1h2.1v2.7h-2.1zM500 150.1h2.1v2.7h-2.1zM378 152.6h2.1v2.8h-2.1zM392 152.6h2.1v2.8h-2.1zM424 152.6h2.1v2.8h-2.1zM456 152.6h2.1v2.8h-2.1zM480 152.6h2.1v2.8h-2.1zM488 152.6h2.1v2.8h-2.1zM500 152.6h2.1v2.8h-2.1zM378 155.2h2.1v2.7h-2.1zM392 155.2h2.1v2.7h-2.1zM424 155.2h2.1v2.7h-2.1zM456 155.2h2.1v2.7h-2.1zM480 155.2h2.1v2.7h-2.1zM488 155.2h2.1v2.7h-2.1zM500 155.2h2.1v2.7h-2.1zM378 157.7h2.1v2.8h-2.1zM392 157.7h2.1v2.8h-2.1zM424 157.7h2.1v2.8h-2.1zM456 157.7h2.1v2.8h-2.1zM480 157.7h2.1v2.8h-2.1zM488 157.7h2.1v2.8h-2.1zM500 157.7h2.1v2.8h-2.1zM378 160.3h2.1v2.7h-2.1zM392 160.3h2.1v2.7h-2.1zM424 160.3h2.1v2.7h-2.1zM456 160.3h2.1v2.7h-2.1zM480 160.3h2.1v2.7h-2.1zM488 160.3h2.1v2.7h-2.1zM500 160.3h2.1v2.7h-2.1zM378 162.8h2.1v2.8h-2.1zM392 162.8h2.1v2.8h-2.1zM424 162.8h2.1v2.8h-2.1zM456 162.8h2.1v2.8h-2.1zM480 162.8h2.1v2.8h-2.1zM488 162.8h2.1v2.8h-2.1zM500 162.8h2.1v2.8h-2.1zM378 165.4h2.1v2.7h-2.1zM392 165.4h2.1v2.7h-2.1zM424 165.4h2.1v2.7h-2.1zM456 165.4h2.1v2.7h-2.1zM480 165.4h2.1v2.7h-2.1zM488 165.4h2.1v2.7h-2.1zM500 165.4h2.1v2.7h-2.1zM378 167.9h2.1v2.8h-2.1zM392 167.9h2.1v2.8h-2.1zM424 167.9h2.1v2.8h-2.1zM456 167.9h2.1v2.8h-2.1zM480 167.9h2.1v2.8h-2.1zM488 167.9h2.1v2.8h-2.1zM378 170.5h2.1v2.7h-2.1zM392 170.5h2.1v2.7h-2.1zM424 170.5h2.1v2.7h-2.1zM456 170.5h2.1v2.7h-2.1zM480 170.5h2.1v2.7h-2.1zM488 170.5h2.1v2.7h-2.1zM378 173h2.1v2.7h-2.1zM392 173h2.1v2.7h-2.1zM424 173h2.1v2.7h-2.1zM456 173h2.1v2.7h-2.1zM480 173h2.1v2.7h-2.1zM488 173h2.1v2.7h-2.1zM378 175.5h2.1v2.8h-2.1zM392 175.5h2.1v2.8h-2.1zM424 175.5h2.1v2.8h-2.1zM456 175.5h2.1v2.8h-2.1zM480 175.5h2.1v2.8h-2.1zM488 175.5h2.1v2.8h-2.1zM378 178.1h2.1v2.7h-2.1zM392 178.1h2.1v2.7h-2.1zM424 178.1h2.1v2.7h-2.1zM456 178.1h2.1v2.7h-2.1zM480 178.1h2.1v2.7h-2.1zM488 178.1h2.1v2.7h-2.1zM378 180.6h2.1v2.8h-2.1zM392 180.6h2.1v2.8h-2.1zM424 180.6h2.1v2.8h-2.1zM456 180.6h2.1v2.8h-2.1zM480 180.6h2.1v2.8h-2.1zM488 180.6h2.1v2.8h-2.1zM378 183.2h2.1v2.7h-2.1zM392 183.2h2.1v2.7h-2.1zM424 183.2h2.1v2.7h-2.1zM456 183.2h2.1v2.7h-2.1zM480 183.2h2.1v2.7h-2.1zM488 183.2h2.1v2.7h-2.1zM378 185.7h2.1v2.8h-2.1zM392 185.7h2.1v2.8h-2.1zM424 185.7h2.1v2.8h-2.1zM456 185.7h2.1v2.8h-2.1zM480 185.7h2.1v2.8h-2.1zM488 185.7h2.1v2.8h-2.1zM378 188.3h2.1v2.7h-2.1zM392 188.3h2.1v2.7h-2.1zM424 188.3h2.1v2.7h-2.1zM456 188.3h2.1v2.7h-2.1zM480 188.3h2.1v2.7h-2.1zM488 188.3h2.1v2.7h-2.1zM378 190.8h2.1v2.8h-2.1zM392 190.8h2.1v2.8h-2.1zM424 190.8h2.1v2.8h-2.1zM456 190.8h2.1v2.8h-2.1zM480 190.8h2.1v2.8h-2.1zM488 190.8h2.1v2.8h-2.1zM378 193.4h2.1v2.7h-2.1zM392 193.4h2.1v2.7h-2.1zM424 193.4h2.1v2.7h-2.1zM456 193.4h2.1v2.7h-2.1zM480 193.4h2.1v2.7h-2.1zM488 193.4h2.1v2.7h-2.1zM378 195.9h2.1v2.8h-2.1zM392 195.9h2.1v2.8h-2.1zM424 195.9h2.1v2.8h-2.1zM456 195.9h2.1v2.8h-2.1zM480 195.9h2.1v2.8h-2.1zM488 195.9h2.1v2.8h-2.1zM378 198.5h2.1v2.7h-2.1zM392 198.5h2.1v2.7h-2.1zM424 198.5h2.1v2.7h-2.1zM456 198.5h2.1v2.7h-2.1zM480 198.5h2.1v2.7h-2.1zM488 198.5h2.1v2.7h-2.1zM500 198.5h2.1v2.7h-2.1zM266 201h2.1v19.2h-2.1zM274 201h2.1v19.2h-2.1zM316 201h2.1v19.2h-2.1zM374 201h2.1v19.2h-2.1zM472 201h2.1v19.2h-2.1zM566 201h2.1v19.2h-2.1zM246 220h2.1v17.4h-2.1zM302 220h2.1v17.4h-2.1zM320 220h2.1v17.4h-2.1zM382 220h2.1v17.4h-2.1zM514 220h2.1v17.4h-2.1zM556 220h2.1v17.4h-2.1z"/>
<path fill="rgb(90,90,90)" d="M296 84.2h2.1v28.0h-2.1zM308 84.2h2.1v28.0h-2.1zM314 84.2h2.1v28.0h-2.1zM390 84.2h2.1v28.0h-2.1zM398 84.2h2.1v28.0h-2.1zM444 84.2h4.1v28.0h-4.1zM468 84.2h2.1v28.0h-2.1zM480 84.2h2.1v28.0h-2.1zM516 84.2h2.1v28.0h-2.1zM530 84.2h2.1v28.0h-2.1zM586 84.2h2.1v28.0h-2.1zM600 84.2h4.1v28.0h-4.1zM300 112h2.1v4.7h-2.1zM356 112h2.1v4.7h-2.1zM410 112h2.1v4.7h-2.1zM438 112h2.1v4.7h-2.1zM458 112h2.1v4.7h-2.1zM484 112h6.1v4.7h-6.1zM516 112h2.1v4.7h-2.1zM250 116.5h2.1v14.7h-2.1zM352 116.5h2.1v14.7h-2.1zM388 116.5h2.1v14.7h-2.1zM410 116.5h2.1v14.7h-2.1zM432 116.5h4.1v14.7h-4.1zM440 116.5h2.1v14.7h-2.1zM452 116.5h2.1v14.7h-2.1zM464 116.5h2.1v14.7h-2.1zM500 116.5h2.1v14.7h-2.1zM504 116.5h2.1v14.7h-2.1zM516 116.5h2.1v14.7h-2.1zM524 116.5h2.1v14.7h-2.1zM532 116.5h2.1v14.7h-2.1zM566 116.5h2.1v14.7h-2.1zM360 131h2.1v14.2h-2.1zM388 131h2.1v14.2h-2.1zM426 131h4.1v14.2h-4.1zM438 131h2.1v14.2h-2.1zM446 131h2.1v14.2h-2.1zM452 131h2.1v14.2h-2.1zM470 131h2.1v14.2h-2.1zM480 131h2.1v14.2h-2.1zM524 131h2.1v14.2h-2.1zM534 131h2.1v14.2h-2.1zM542 131h2.1v14.2h-2.1zM556 131h2.1v14.2h-2.1zM568 131h2.1v14.2h-2.1zM416 145h2.1v2.7h-2.1zM420 145h2.1v2.7h-2.1zM428 145h2.1v2.7h-2.1zM486 145h2.1v2.7h-2.1zM520 145h2.1v2.7h-2.1zM530 145h2.1v2.7h-2.1zM572 145h2.1v2.7h-2.1zM576 145h4.1v2.7h-4.1zM416 147.5h2.1v2.8h-2.1zM420 147.5h2.1v2.8h-2.1zM428 147.5h2.1v2.8h-2.1zM486 147.5h2.1v2.8h-2.1zM520 147.5h2.1v2.8h-2.1zM530 147.5h2.1v2.8h-2.1zM572 147.5h2.1v2.8h-2.1zM576 147.5h4.1v2.8h-4.1zM416 150.1h2.1v2.7h-2.1zM420 150.1h2.1v2.7h-2.1zM428 150.1h2.1v2.7h-2.1zM486 150.1h2.1v2.7h-2.1zM520 150.1h2.1v2.7h-2.1zM530 150.1h2.1v2.7h-2.1zM572 150.1h2.1v2.7h-2.1zM576 150.1h4.1v2.7h-4.1zM416 152.6h2.1v2.8h-2.1zM420 152.6h2.1v2.8h-2.1zM428 152.6h2.1v2.8h-2.1zM486 152.6h2.1v2.8h-2.1zM520 152.6h2.1v2.8h-2.1zM530 152.6h2.1v2.8h-2.1zM572 152.6h2.1v2.8h-2.1zM576 152.6h4.1v2.8h-4.1zM416 155.2h2.1v2.7h-2.1zM420 155.2h2.1v2.7h-2.1zM428 155.2h2.1v2.7h-2.1zM486 155.2h2.1v2.7h-2.1zM520 155.2h2.1v2.7h-2.1zM530 155.2h2.1v2.7h-2.1zM572 155.2h2.1v2.7h-2.1zM576 155.2h4.1v2.7h-4.1zM416 157.7h2.1v2.8h-2.1zM420 157.7h2.1v2.8h-2.1zM428 157.7h2.1v2.8h-2.1zM486 157.7h2.1v2.8h-2.1zM520 157.7h2.1v2.8h-2.1zM530 157.7h2.1v2.8h-2.1zM572 157.7h2.1v2.8h-2.1zM576 157.7h4.1v2.8h-4.1zM416 160.3h2.1v2.7h-2.1zM420 160.3h2.1v2.7h-2.1zM428 160.3h2.1v2.7h-2.1zM486 160.3h2.1v2.7h-2.1zM520 160.3h2.1v2.7h-2.1zM572 160.3h2.1v2.7h-2.1zM576 160.3h4.1v2.7h-4.1zM416 162.8h2.1v2.8h-2.1zM420 162.8h2.1v2.8h-2.1zM428 162.8h2.1v2.8h-2.1zM486 162.8h2.1v2.8h-2.1zM520 162.8h2.1v2.8h-2.1zM572 162.8h2.1v2.8h-2.1zM576 162.8h4.1v2.8h-4.1zM594 162.8h2.1v2.8h-2.1zM416 165.4h2.1v2.7h-2.1zM420 165.4h2.1v2.7h-2.1zM428 165.4h2.1v2.7h-2.1zM486 165.4h2.1v2.7h-2.1zM520 165.4h2.1v2.7h-2.1zM572 165.4h2.1v2.7h-2.1zM576 165.4h4.1v2.7h-4.1zM594 165.4h2.1v2.7h-2.1zM416 167.9h2.1v2.8h-2.1zM420 167.9h2.1v2.8h-2.1zM428 167.9h2.1v2.8h-2.1zM486 167.9h2.1v2.8h-2.1zM520 167.9h2.1v2.8h-2.1zM572 167.9h2.1v2.8h-2.1zM576 167.9h4.1v2.8h-4.1zM594 167.9h2.1v2.8h-2.1zM416 170.5h2.1v2.7h-2.1zM420 170.5h2.1v2.7h-2.1zM428 170.5h2.1v2.7h-2.1zM486 170.5h2.1v2.7h-2.1zM520 170.5h2.1v2.7h-2.1zM572 170.5h2.1v2.7h-2.1zM576 170.5h4.1v2.7h-4.1zM594 170.5h2.1v2.7h-2.1zM416 173h2.1v2.7h-2.1zM420 173h2.1v2.7h-2.1zM428 173h2.1v2.7h-2.1zM486 173h2.1v2.7h-2.1zM520 173h2.1v2.7h-2.1zM572 173h2.1v2.7h-2.1zM576 173h4.1v2.7h-4.1zM594 173h2.1v2.7h-2.1zM416 175.5h2.1v2.8h-2.1zM420 175.5h2.1v2.8h-2.1zM428 175.5h2.1v2.8h-2.1zM486 175.5h2.1v2.8h-2.1zM520 175.5h2.1v2.8h-2.1zM572 175.5h2.1v2.8h-2.1zM576 175.5h4.1v2.8h-4.1zM594 175.5h2.1v2.8h-2.1zM416 178.1h2.1v2.7h-2.1zM420 178.1h2.1v2.7h-2.1zM428 178.1h2.1v2.7h-2.1zM486 178.1h2.1v2.7h-2.1zM520 178.1h2.1v2.7h-2.1zM572 178.1h2.1v2.7h-2.1zM576 178.1h4.1v2.7h-4.1zM594 178.1h2.1v2.7h-2.1zM416 180.6h2.1v2.8h-2.1zM420 180.6h2.1v2.8h-2.1zM428 180.6h2.1v2.8h-2.1zM486 180.6h2.1v2.8h-2.1zM520 180.6h2.1v2.8h-2.1zM572 180.6h2.1v2.8h-2.1zM576 180.6h4.1v2.8h-4.1zM594 180.6h2.1v2.8h-2.1zM416 183.2h2.1v2.7h-2.1zM420 183.2h2.1v2.7h-2.1zM428 183.2h2.1v2.7h-2.1zM486 183.2h2.1v2.7h-2.1zM520 183.2h2.1v2.7h-2.1zM572 183.2h2.1v2.7h-2.1zM576 183.2h4.1v2.7h-4.1zM594 183.2h2.1v2.7h-2.1zM416 185.7h2.1v2.8h-2.1zM420 185.7h2.1v2.8h-2.1zM428 185.7h2.1v2.8h-2.1zM486 185.7h2.1v2.8h-2.1zM520 185.7h2.1v2.8h-2.1zM572 185.7h2.1v2.8h-2.1zM576 185.7h4.1v2.8h-4.1zM594 185.7h2.1v2.8h-2.1zM416 188.3h2.1v2.7h-2.1zM420 188.3h2.1v2.7h-2.1zM428 188.3h2.1v2.7h-2.1zM486 188.3h2.1v2.7h-2.1zM520 188.3h2.1v2.7h-2.1zM530 188.3h2.1v2.7h-2.1zM572 188.3h2.1v2.7h-2.1zM576 188.3h4.1v2.7h-4.1zM416 190.8h2.1v2.8h-2.1zM420 190.8h2.1v2.8h-2.1zM428 190.8h2.1v2.8h-2.1zM486 190.8h2.1v2.8h-2.1zM520 190.8h2.1v2.8h-2.1zM530 190.8h2.1v2.8h-2.1zM572 190.8h2.1v2.8h-2.1zM576 190.8h4.1v2.8h-4.1zM416 193.4h2.1v2.7h-2.1zM420 193.4h2.1v2.7h-2.1zM428 193.4h2.1v2.7h-2.1zM486 193.4h2.1v2.7h-2.1zM520 193.4h2.1v2.7h-2.1zM530 193.4h2.1v2.7h-2.1zM572 193.4h2.1v2.7h-2.1zM576 193.4h4.1v2.7h-4.1zM416 195.9h2.1v2.8h-2.1zM420 195.9h2.1v2.8h-2.1zM428 195.9h2.1v2.8h-2.1zM486 195.9h2.1v2.8h-2.1zM520 195.9h2.1v2.8h-2.1zM530 195.9h2.1v2.8h-2.1zM572 195.9h2.1v2.8h-2.1zM576 195.9h4.1v2.8h-4.1zM416 198.5h2.1v2.7h-2.1zM420 198.5h2.1v2.7h-2.1zM428 198.5h2.1v2.7h-2.1zM486 198.5h2.1v2.7h-2.1zM520 198.5h2.1v2.7h-2.1zM530 198.5h2.1v2.7h-2.1zM572 198.5h2.1v2.7h-2.1zM576 198.5h4.1v2.7h-4.1zM242 201h2.1v19.2h-2.1zM320 201h2.1v19.2h-2.1zM444 201h2.1v19.2h-2.1zM466 201h2.1v19.2h-2.1zM476 201h2.1v19.2h-2.1zM498 201h2.1v19.2h-2.1zM522 201h2.1v19.2h-2.1zM536 201h2.1v19.2h-2.1zM276 220h2.1v17.4h-2.1zM448 220h2.1v17.4h-2.1zM472 220h2.1v17.4h-2.1zM480 220h2.1v17.4h-2.1zM484 220h2.1v17.4h-2.1zM500 220h2.1v17.4h-2.1zM516 220h2.1v17.4h-2.1zM522 220h4.1v17.4h-4.1zM530 220h2.1v17.4h-2.1z"/>
<path fill="rgb(96,96,96)" d="M266 84.2h2.1v28.0h-2.1zM326 84.2h2.1v28.0h-2.1zM330 84.2h4.1v28.0h-4.1zM388 84.2h2.1v28.0h-2.1zM394 84.2h2.1v28.0h-2.1zM432 84.2h2.1v28.0h-2.1zM438 84.2h2.1v28.0h-2.1zM464 84.2h2.1v28.0h-2.1zM470 84.2h2.1v28.0h-2.1zM488 84.2h2.1v28.0h-2.1zM548 84.2h2.1v28.0h-2.1zM552 84.2h2.1v28.0h-2.1zM566 84.2h2.1v28.0h-2.1zM576 84.2h2.1v28.0h-2.1zM584 84.2h2.1v28.0h-2.1zM280 112h2.1v4.7h-2.1zM358 112h2.1v4.7h-2.1zM362 112h2.1v4.7h-2.1zM406 112h2.1v4.7h-2.1zM436 112h2.1v4.7h-2.1zM460 112h4.1v4.7h-4.1zM514 112h2.1v4.7h-2.1zM526 112h2.1v4.7h-2.1zM536 112h2.1v4.7h-2.1zM542 112h2.1v4.7h-2.1zM552 112h2.1v4.7h-2.1zM556 112h2.1v4.7h-2.1zM572 112h2.1v4.7h-2.1zM592 112h2.1v4.7h-2.1zM448 116.5h2.1v14.7h-2.1zM470 116.5h2.1v14.7h-2.1zM502 116.5h2.1v14.7h-2.1zM512 116.5h2.1v14.7h-2.1zM522 116.5h2.1v14.7h-2.1zM562 116.5h2.1v14.7h-2.1zM576 116.5h2.1v14.7h-2.1zM312 131h2.1v14.2h-2.1zM348 131h2.1v14.2h-2.1zM390 131h2.1v14.2h-2.1zM476 131h2.1v14.2h-2.1zM492 131h2.1v14.2h-2.1zM496 131h2.1v14.2h-2.1zM504 131h2.1v14.2h-2.1zM532 131h2.1v14.2h-2.1zM574 131h2.1v14.2h-2.1zM578 131h2.1v14.2h-2.1zM470 145h2.1v2.7h-2.1zM476 145h2.1v2.7h-2.1zM502 145h2.1v2.7h-2.1zM518 145h2.1v2.7h-2.1zM570 145h2.1v2.7h-2.1zM470 147.5h2.1v2.8h-2.1zM476 147.5h2.1v2.8h-2.1zM502 147.5h2.1v2.8h-2.1zM518 147.5h2.1v2.8h-2.1zM570 147.5h2.1v2.8h-2.1zM470 150.1h2.1v2.7h-2.1zM476 150.1h2.1v2.7h-2.1zM502 150.1h2.1v2.7h-2.1zM518 150.1h2.1v2.7h-2.1zM570 150.1h2.1v2.7h-2.1zM470 152.6h2.1v2.8h-2.1zM476 152.6h2.1v2.8h-2.1zM502 152.6h2.1v2.8h-2.1zM518 152.6h2.1v2.8h-2.1zM570 152.6h2.1v2.8h-2.1zM470 155.2h2.1v2.7h-2.1zM476 155.2h2.1v2.7h-2.1zM502 155.2h2.1v2.7h-2.1zM518 155.2h2.1v2.7h-2.1zM570 155.2h2.1v2.7h-2.1zM470 157.7h2.1v2.8h-2.1zM476 157.7h2.1v2.8h-2.1zM502 157.7h2.1v2.8h-2.1zM518 157.7h2.1v2.8h-2.1zM570 157.7h2.1v2.8h-2.1zM470 160.3h2.1v2.7h-2.1zM476 160.3h2.1v2.7h-2.1zM502 160.3h2.1v2.7h-2.1zM518 160.3h2.1v2.7h-2.1zM570 160.3h2.1v2.7h-2.1zM470 162.8h2.1v2.8h-2.1zM476 162.8h2.1v2.8h-2.1zM502 162.8h2.1v2.8h-2.1zM518 162.8h2.1v2.8h-2.1zM570 162.8h2.1v2.8h-2.1zM470 165.4h2.1v2.7h-2.1zM476 165.4h2.1v2.7h-2.1zM502 165.4h2.1v2.7h-2.1zM518 165.4h2.1v2.7h-2.1zM570 165.4h2.1v2.7h-2.1zM470 167.9h2.1v2.8h-2.1zM476 167.9h2.1v2.8h-2.1zM518 167.9h2.1v2.8h-2.1zM570 167.9h2.1v2.8h-2.1zM470 170.5h2.1v2.7h-2.1zM476 170.5h2.1v2.7h-2.1zM518 170.5h2.1v2.7h-2.1zM570 170.5h2.1v2.7h-2.1zM470 173h2.1v2.7h-2.1zM476 173h2.1v2.7h-2.1zM518 173h2.1v2.7h-2.1zM570 173h2.1v2.7h-2.1zM470 175.5h2.1v2.8h-2.1zM476 175.5h2.1v2.8h-2.1zM518 175.5h2.1v2.8h-2.1zM570 175.5h2.1v2.8h-2.1zM470 178.1h2.1v2.7h-2.1zM476 178.1h2.1v2.7h-2.1zM518 178.1h2.1v2.7h-2.1zM570 178.1h2.1v2.7h-2.1zM470 180.6h2.1v2.8h-2.1zM476 180.6h2.1v2.8h-2.1zM518 180.6h2.1v2.8h-2.1zM570 180.6h2.1v2.8h-2.1zM470 183.2h2.1v2.7h-2.1zM476 183.2h2.1v2.7h-2.1zM518 183.2h2.1v2.7h-2.1zM570 183.2h2.1v2.7h-2.1zM470 185.7h2.1v2.8h-2.1zM476 185.7h2.1v2.8h-2.1zM518 185.7h2.1v2.8h-2.1zM570 185.7h2.1v2.8h-2.1zM470 188.3h2.1v2.7h-2.1zM476 188.3h2.1v2.7h-2.1zM518 188.3h2.1v2.7h-2.1zM570 188.3h2.1v2.7h-2.1zM470 190.8h2.1v2.8h-2.1zM476 190.8h2.1v2.8h-2.1zM518 190.8h2.1v2.8h-2.1zM570 190.8h2.1v2.8h-2.1zM470 193.4h2.1v2.7h-2.1zM476 193.4h2.1v2.7h-2.1zM518 193.4h2.1v2.7h-2.1zM570 193.4h2.1v2.7h-2.1zM470 195.9h2.1v2.8h-2.1zM476 195.9h2.1v2.8h-2.1zM518 195.9h2.1v2.8h-2.1zM570 195.9h2.1v2.8h-2.1zM470 198.5h2.1v2.7h-2.1zM476 198.5h2.1v2.7h-2.1zM502 198.5h2.1v2.7h-2.1zM518 198.5h2.1v2.7h-2.1zM570 198.5h2.1v2.7h-2.1zM382 201h2.1v19.2h-2.1zM452 201h2.1v19.2h-2.1zM500 201h2.1v19.2h-2.1zM514 201h4.1v19.2h-4.1zM520 201h2.1v19.2h-2.1zM526 201h2.1v19.2h-2.1zM530 201h2.1v19.2h-2.1zM558 201h2.1v19.2h-2.1zM260 220h4.1v17.4h-4.1zM270 220h2.1v17.4h-2.1zM282 220h2.1v17.4h-2.1zM304 220h2.1v17.4h-2.1zM314 220h2.1v17.4h-2.1zM392 220h2.1v17.4h-2.1zM436 220h2.1v17.4h-2.1zM452 220h2.1v17.4h-2.1zM482 220h2.1v17.4h-2.1zM518 220h2.1v17.4h-2.1zM536 220h2.1v17.4h-2.1zM564 220h4.1v17.4h-4.1z"/>
<path fill="rgb(102,102,102)" d="M238 84.2h2.1v28.0h-2.1zM246 84.2h2.1v28.0h-2.1zM272 84.2h2.1v28.0h-2.1zM294 84.2h2.1v28.0h-2.1zM310 84.2h2.1v28.0h-2.1zM406 84.2h2.1v28.0h-2.1zM416 84.2h2.1v28.0h-2.1zM460 84.2h2.1v28.0h-2.1zM466 84.2h2.1v28.0h-2.1zM492 84.2h2.1v28.0h-2.1zM510 84.2h2.1v28.0h-2.1zM518 84.2h2.1v28.0h-2.1zM532 84.2h2.1v28.0h-2.1zM590 84.2h2.1v28.0h-2.1zM598 84.2h2.1v28.0h-2.1zM240 112h2.1v4.7h-2.1zM260 112h2.1v4.7h-2.1zM366 112h2.1v4.7h-2.1zM374 112h4.1v4.7h-4.1zM396 112h2.1v4.7h-2.1zM428 112h4.1v4.7h-4.1zM456 112h2.1v4.7h-2.1zM492 112h2.1v4.7h-2.1zM498 112h2.1v4.7h-2.1zM512 112h2.1v4.7h-2.1zM524 112h2.1v4.7h-2.1zM530 112h2.1v4.7h-2.1zM544 112h2.1v4.7h-2.1zM566 112h2.1v4.7h-2.1zM580 112h2.1v4.7h-2.1zM590 112h2.1v4.7h-2.1zM596 112h2.1v4.7h-2.1zM380 116.5h2.1v14.7h-2.1zM396 116.5h2.1v14.7h-2.1zM446 116.5h2.1v14.7h-2.1zM460 116.5h4.1v14.7h-4.1zM468 116.5h2.1v14.7h-2.1zM510 116.5h2.1v14.7h-2.1zM538 116.5h2.1v14.7h-2.1zM550 116.5h4.1v14.7h-4.1zM304 131h2.1v14.2h-2.1zM394 131h2.1v14.2h-2.1zM402 131h4.1v14.2h-4.1zM442 131h2.1v14.2h-2.1zM448 131h2.1v14.2h-2.1zM546 131h2.1v14.2h-2.1zM560 131h2.1v14.2h-2.1zM564 131h4.1v14.2h-4.1zM396 145h2.1v2.7h-2.1zM414 145h2.1v2.7h-2.1zM434 145h2.1v2.7h-2.1zM454 145h2.1v2.7h-2.1zM458 145h2.1v2.7h-2.1zM474 145h2.1v2.7h-2.1zM482 145h2.1v2.7h-2.1zM490 145h2.1v2.7h-2.1zM544 145h4.1v2.7h-4.1zM568 145h2.1v2.7h-2.1zM396 147.5h2.1v2.8h-2.1zM414 147.5h2.1v2.8h-2.1zM434 147.5h2.1v2.8h-2.1zM454 147.5h2.1v2.8h-2.1zM458 147.5h2.1v2.8h-2.1zM474 147.5h2.1v2.8h-2.1zM482 147.5h2.1v2.8h-2.1zM490 147.5h2.1v2.8h-2.1zM544 147.5h4.1v2.8h-4.1zM568 147.5h2.1v2.8h-2.1zM396 150.1h2.1v2.7h-2.1zM414 150.1h2.1v2.7h-2.1zM434 150.1h2.1v2.7h-2.1zM454 150.1h2.1v2.7h-2.1zM458 150.1h2.1v2.7h-2.1zM474 150.1h2.1v2.7h-2.1zM482 150.1h2.1v2.7h-2.1zM490 150.1h2.1v2.7h-2.1zM544 150.1h4.1v2.7h-4.1zM568 150.1h2.1v2.7h-2.1zM396 152.6h2.1v2.8h-2.1zM414 152.6h2.1v2.8h-2.1zM434 152.6h2.1v2.8h-2.1zM454 152.6h2.1v2.8h-2.1zM458 152.6h2.1v2.8h-2.1zM474 152.6h2.1v2.8h-2.1zM482 152.6h2.1v2.8h-2.1zM490 152.6h2.1v2.8h-2.1zM544 152.6h4.1v2.8h-4.1zM568 152.6h2.1v2.8h-2.1zM396 155.2h2.1v2.7h-2.1zM414 155.2h2.1v2.7h-2.1zM434 155.2h2.1v2.7h-2.1zM454 155.2h2.1v2.7h-2.1zM458 155.2h2.1v2.7h-2.1zM474 155.2h2.1v2.7h-2.1zM482 155.2h2.1v2.7h-2.1zM490 155.2h2.1v2.7h-2.1zM544 155.2h4.1v2.7h-4.1zM568 155.2h2.1v2.7h-2.1zM396 157.7h2.1v2.8h-2.1zM414 157.7h2.1v2.8h-2.1zM434 157.7h2.1v2.8h-2.1zM454 157.7h2.1v2.8h-2.1zM458 157.7h2.1v2.8h-2.1zM474 157.7h2.1v2.8h-2.1zM482 157.7h2.1v2.8h-2.1zM490 157.7h2.1v2.8h-2.1zM544 157.7h4.1v2.8h-4.1zM568 157.7h2.1v2.8h-2.1zM396 160.3h2.1v2.7h-2.1zM414 160.3h2.1v2.7h-2.1zM434 160.3h2.1v2.7h-2.1zM454 160.3h2.1v2.7h-2.1zM458 160.3h2.1v2.7h-2.1zM474 160.3h2.1v2.7h-2.1zM482 160.3h2.1v2.7h-2.1zM490 160.3h2.1v2.7h-2.1zM544 160.3h4.1v2.7h-4.1zM568 160.3h2.1v2.7h-2.1zM396 162.8h2.1v2.8h-2.1zM414 162.8h2.1v2.8h-2.1zM434 162.8h2.1v2.8h-2.1zM454 162.8h2.1v2.8h-2.1zM458 162.8h2.1v2.8h-2.1zM474 162.8h2.1v2.8h-2.1zM482 162.8h2.1v2.8h-2.1zM490 162.8h2.1v2.8h-2.1zM544 162.8h4.1v2.8h-4.1zM568 162.8h2.1v2.8h-2.1zM396 165.4h2.1v2.7h-2.1zM414 165.4h2.1v2.7h-2.1zM434 165.4h2.1v2.7h-2.1zM454 165.4h2.1v2.7h-2.1zM458 165.4h2.1v2.7h-2.1zM474 165.4h2.1v2.7h-2.1zM482 165.4h2.1v2.7h-2.1zM490 165.4h2.1v2.7h-2.1zM544 165.4h4.1v2.7h-4.1zM568 165.4h2.1v2.7h-2.1zM396 167.9h2.1v2.8h-2.1zM414 167.9h2.1v2.8h-2.1zM434 167.9h2.1v2.8h-2.1zM454 167.9h2.1v2.8h-2.1zM458 167.9h2.1v2.8h-2.1zM474 167.9h2.1v2.8h-2.1zM482 167.9h2.1v2.8h-2.1zM490 167.9h2.1v2.8h-2.1zM544 167.9h4.1v2.8h-4.1zM568 167.9h2.1v2.8h-2.1zM396 170.5h2.1v2.7h-2.1zM414 170.5h2.1v2.7h-2.1zM434 170.5h2.1v2.7h-2.1zM454 170.5h2.1v2.7h-2.1zM458 170.5h2.1v2.7h-2.1zM474 170.5h2.1v2.7h-2.1zM482 170.5h2.1v2.7h-2.1zM490 170.5h2.1v2.7h-2.1zM544 170.5h4.1v2.7h-4.1zM568 170.5h2.1v2.7h-2.1zM396 173h2.1v2.7h-2.1zM414 173h2.1v2.7h-2.1zM434 173h2.1v2.7h-2.1zM454 173h2.1v2.7h-2.1zM458 173h2.1v2.7h-2.1zM474 173h2.1v2.7h-2.1zM482 173h2.1v2.7h-2.1zM490 173h2.1v2.7h-2.1zM544 173h4.1v2.7h-4.1zM568 173h2.1v2.7h-2.1zM372 175.5h2.1v2.8h-2.1zM396 175.5h2.1v2.8h-2.1zM414 175.5h2.1v2.8h-2.1zM434 175.5h2.1v2.8h-2.1zM454 175.5h2.1v2.8h-2.1zM458 175.5h2.1v2.8h-2.1zM474 175.5h2.1v2.8h-2.1zM482 175.5h2.1v2.8h-2.1zM490 175.5h2.1v2.8h-2.1zM544 175.5h4.1v2.8h-4.1zM568 175.5h2.1v2.8h-2.1zM372 178.1h2.1v2.7h-2.1zM396 178.1h2.1v2.7h-2.1zM414 178.1h2.1v2.7h-2.1zM434 178.1h2.1v2.7h-2.1zM454 178.1h2.1v2.7h-2.1zM458 178.1h2.1v2.7h-2.1zM474 178.1h2.1v2.7h-2.1zM482 178.1h2.1v2.7h-2.1zM490 178.1h2.1v2.7h-2.1zM544 178.1h4.1v2.7h-4.1zM568 178.1h2.1v2.7h-2.1zM372 180.6h2.1v2.8h-2.1zM396 180.6h2.1v2.8h-2.1zM414 180.6h2.1v2.8h-2.1zM434 180.6h2.1v2.8h-2.1zM454 180.6h2.1v2.8h-2.1zM458 180.6h2.1v2.8h-2.1zM474 180.6h2.1v2.8h-2.1zM482 180.6h2.1v2.8h-2.1zM490 180.6h2.1v2.8h-2.1zM544 180.6h4.1v2.8h-4.1zM568 180.6h2.1v2.8h-2.1zM372 183.2h2.1v2.7h-2.1zM396 183.2h2.1v2.7h-2.1zM414 183.2h2.1v2.7h-2.1zM434 183.2h2.1v2.7h-2.1zM454 183.2h2.1v2.7h-2.1zM458 183.2h2.1v2.7h-2.1zM474 183.2h2.1v2.7h-2.1zM482 183.2h2.1v2.7h-2.1zM490 183.2h2.1v2.7h-2.1zM544 183.2h4.1v2.7h-4.1zM568 183.2h2.1v2.7h-2.1zM372 185.7h2.1v2.8h-2.1zM396 185.7h2.1v2.8h-2.1zM414 185.7h2.1v2.8h-2.1zM434 185.7h2.1v2.8h-2.1zM454 185.7h2.1v2.8h-2.1zM458 185.7h2.1v2.8h-2.1zM474 185.7h2.1v2.8h-2.1zM482 185.7h2.1v2.8h-2.1zM490 185.7h2.1v2.8h-2.1zM544 185.7h4.1v2.8h-4.1zM568 185.7h2.1v2.8h-2.1zM372 188.3h2.1v2.7h-2.1zM396 188.3h2.1v2.7h-2.1zM414 188.3h2.1v2.7h-2.1zM434 188.3h2.1v2.7h-2.1zM454 188.3h2.1v2.7h-2.1zM458 188.3h2.1v2.7h-2.1zM474 188.3h2.1v2.7h-2.1zM482 188.3h2.1v2.7h-2.1zM490 188.3h2.1v2.7h-2.1zM544 188.3h4.1v2.7h-4.1zM568 188.3h2.1v2.7h-2.1zM372 190.8h2.1v2.8h-2.1zM396 190.8h2.1v2.8h-2.1zM414 190.8h2.1v2.8h-2.1zM434 190.8h2.1v2.8h-2.1zM454 190.8h2.1v2.8h-2.1zM458 190.8h2.1v2.8h-2.1zM474 190.8h2.1v2.8h-2.1zM482 190.8h2.1v2.8h-2.1zM490 190.8h2.1v2.8h-2.1zM544 190.8h4.1v2.8h-4.1zM568 190.8h2.1v2.8h-2.1zM372 193.4h2.1v2.7h-2.1zM396 193.4h2.1v2.7h-2.1zM414 193.4h2.1v2.7h-2.1zM434 193.4h2.1v2.7h-2.1zM454 193.4h2.1v2.7h-2.1zM458 193.4h2.1v2.7h-2.1zM474 193.4h2.1v2.7h-2.1zM482 193.4h2.1v2.7h-2.1zM490 193.4h2.1v2.7h-2.1zM544 193.4h4.1v2.7h-4.1zM568 193.4h2.1v2.7h-2.1zM372 195.9h2.1v2.8h-2.1zM396 195.9h2.1v2.8h-2.1zM414 195.9h2.1v2.8h-2.1zM434 195.9h2.1v2.8h-2.1zM454 195.9h2.1v2.8h-2.1zM458 195.9h2.1v2.8h-2.1zM474 195.9h2.1v2.8h-2.1zM482 195.9h2.1v2.8h-2.1zM490 195.9h2.1v2.8h-2.1zM544 195.9h4.1v2.8h-4.1zM568 195.9h2.1v2.8h-2.1zM372 198.5h2.1v2.7h-2.1zM396 198.5h2.1v2.7h-2.1zM414 198.5h2.1v2.7h-2.1zM434 198.5h2.1v2.7h-2.1zM454 198.5h2.1v2.7h-2.1zM458 198.5h2.1v2.7h-2.1zM474 198.5h2.1v2.7h-2.1zM482 198.5h2.1v2.7h-2.1zM490 198.5h2.1v2.7h-2.1zM544 198.5h4.1v2.7h-4.1zM568 198.5h2.1v2.7h-2.1zM244 201h2.1v19.2h-2.1zM276 201h2.1v19.2h-2.1zM328 201h2.1v19.2h-2.1zM378 201h2.1v19.2h-2.1zM428 201h2.1v19.2h-2.1zM438 201h2.1v19.2h-2.1zM470 201h2.1v19.2h-2.1zM474 201h2.1v19.2h-2.1zM490 201h2.1v19.2h-2.1zM518 201h2.1v19.2h-2.1zM544 201h4.1v19.2h-4.1zM562 201h2.1v19.2h-2.1zM250 220h2.1v17.4h-2.1zM266 220h2.1v17.4h-2.1zM280 220h2.1v17.4h-2.1zM386 220h2.1v17.4h-2.1zM418 220h2.1v17.4h-2.1zM422 220h4.1v17.4h-4.1zM432 220h2.1v17.4h-2.1zM444 220h4.1v17.4h-4.1zM478 220h2.1v17.4h-2.1zM486 220h2.1v17.4h-2.1zM504 220h2.1v17.4h-2.1zM520 220h2.1v17.4h-2.1zM558 220h4.1v17.4h-4.1zM576 220h2.1v17.4h-2.1zM582 220h2.1v17.4h-2.1z"/>
<path fill="rgb(108,108,108)" d="M270 84.2h2.1v28.0h-2.1zM304 84.2h2.1v28.0h-2.1zM328 84.2h2.1v28.0h-2.1zM402 84.2h2.1v28.0h-2.1zM410 84.2h2.1v28.0h-2.1zM420 84.2h2.1v28.0h-2.1zM448 84.2h2.1v28.0h-2.1zM538 84.2h2.1v28.0h-2.1zM578 84.2h2.1v28.0h-2.1zM336 112h2.1v4.7h-2.1zM368 112h2.1v4.7h-2.1zM378 112h2.1v4.7h-2.1zM386 112h4.1v4.7h-4.1zM400 112h2.1v4.7h-2.1zM468 112h2.1v4.7h-2.1zM476 112h2.1v4.7h-2.1zM494 112h2.1v4.7h-2.1zM576 112h2.1v4.7h-2.1zM600 112h2.1v4.7h-2.1zM390 116.5h2.1v14.7h-2.1zM400 116.5h2.1v14.7h-2.1zM476 116.5h2.1v14.7h-2.1zM480 116.5h2.1v14.7h-2.1zM488 116.5h2.1v14.7h-2.1zM498 116.5h2.1v14.7h-2.1zM530 116.5h2.1v14.7h-2.1zM544 116.5h2.1v14.7h-2.1zM560 116.5h2.1v14.7h-2.1zM564 116.5h2.1v14.7h-2.1zM580 116.5h2.1v14.7h-2.1zM596 116.5h6.1v14.7h-6.1zM260 131h2.1v14.2h-2.1zM306 131h2.1v14.2h-2.1zM314 131h2.1v14.2h-2.1zM350 131h2.1v14.2h-2.1zM356 131h2.1v14.2h-2.1zM424 131h2.1v14.2h-2.1zM460 131h2.1v14.2h-2.1zM464 131h2.1v14.2h-2.1zM474 131h2.1v14.2h-2.1zM484 131h2.1v14.2h-2.1zM514 131h2.1v14.2h-2.1zM518 131h2.1v14.2h-2.1zM548 131h2.1v14.2h-2.1zM580 131h4.1v14.2h-4.1zM390 145h2.1v2.7h-2.1zM408 145h2.1v2.7h-2.1zM412 145h2.1v2.7h-2.1zM462 145h6.1v2.7h-6.1zM532 145h2.1v2.7h-2.1zM542 145h2.1v2.7h-2.1zM550 145h2.1v2.7h-2.1zM584 145h2.1v2.7h-2.1zM390 147.5h2.1v2.8h-2.1zM408 147.5h2.1v2.8h-2.1zM412 147.5h2.1v2.8h-2.1zM462 147.5h6.1v2.8h-6.1zM532 147.5h2.1v2.8h-2.1zM542 147.5h2.1v2.8h-2.1zM550 147.5h2.1v2.8h-2.1zM584 147.5h2.1v2.8h-2.1zM390 150.1h2.1v2.7h-2.1zM408 150.1h2.1v2.7h-2.1zM412 150.1h2.1v2.7h-2.1zM462 150.1h6.1v2.7h-6.1zM532 150.1h2.1v2.7h-2.1zM542 150.1h2.1v2.7h-2.1zM550 150.1h2.1v2.7h-2.1zM584 150.1h2.1v2.7h-2.1zM390 152.6h2.1v2.8h-2.1zM408 152.6h2.1v2.8h-2.1zM412 152.6h2.1v2.8h-2.1zM462 152.6h6.1v2.8h-6.1zM532 152.6h2.1v2.8h-2.1zM542 152.6h2.1v2.8h-2.1zM550 152.6h2.1v2.8h-2.1zM584 152.6h2.1v2.8h-2.1zM390 155.2h2.1v2.7h-2.1zM408 155.2h2.1v2.7h-2.1zM412 155.2h2.1v2.7h-2.1zM462 155.2h6.1v2.7h-6.1zM532 155.2h2.1v2.7h-2.1zM542 155.2h2.1v2.7h-2.1zM550 155.2h2.1v2.7h-2.1zM584 155.2h2.1v2.7h-2.1zM390 157.7h2.1v2.8h-2.1zM408 157.7h2.1v2.8h-2.1zM412 157.7h2.1v2.8h-2.1zM462 157.7h6.1v2.8h-6.1zM532 157.7h2.1v2.8h-2.1zM542 157.7h2.1v2.8h-2.1zM550 157.7h2.1v2.8h-2.1zM584 157.7h2.1v2.8h-2.1zM390 160.3h2.1v2.7h-2.1zM408 160.3h2.1v2.7h-2.1zM412 160.3h2.1v2.7h-2.1zM462 160.3h6.1v2.7h-6.1zM532 160.3h2.1v2.7h-2.1zM542 160.3h2.1v2.7h-2.1zM550 160.3h2.1v2.7h-2.1zM584 160.3h2.1v2.7h-2.1zM390 162.8h2.1v2.8h-2.1zM408 162.8h2.1v2.8h-2.1zM412 162.8h2.1v2.8h-2.1zM462 162.8h6.1v2.8h-6.1zM532 162.8h2.1v2.8h-2.1zM542 162.8h2.1v2.8h-2.1zM550 162.8h2.1v2.8h-2.1zM584 162.8h2.1v2.8h-2.1zM592 162.8h2.1v2.8h-2.1zM596 162.8h2.1v2.8h-2.1zM390 165.4h2.1v2.7h-2.1zM408 165.4h2.1v2.7h-2.1zM412 165.4h2.1v2.7h-2.1zM462 165.4h6.1v2.7h-6.1zM532 165.4h2.1v2.7h-2.1zM542 165.4h2.1v2.7h-2.1zM550 165.4h2.1v2.7h-2.1zM584 165.4h2.1v2.7h-2.1zM592 165.4h2.1v2.7h-2.1zM596 165.4h2.1v2.7h-2.1zM390 167.9h2.1v2.8h-2.1zM408 167.9h2.1v2.8h-2.1zM412 167.9h2.1v2.8h-2.1zM462 167.9h6.1v2.8h-6.1zM532 167.9h2.1v2.8h-2.1zM542 167.9h2.1v2.8h-2.1zM550 167.9h2.1v2.8h-2.1zM584 167.9h2.1v2.8h-2.1zM592 167.9h2.1v2.8h-2.1zM596 167.9h2.1v2.8h-2.1zM390 170.5h2.1v2.7h-2.1zM408 170.5h2.1v2.7h-2.1zM412 170.5h2.1v2.7h-2.1zM462 170.5h6.1v2.7h-6.1zM532 170.5h2.1v2.7h-2.1zM542 170.5h2.1v2.7h-2.1zM550 170.5h2.1v2.7h-2.1zM584 170.5h2.1v2.7h-2.1zM592 170.5h2.1v2.7h-2.1zM596 170.5h2.1v2.7h-2.1zM390 173h2.1v2.7h-2.1zM408 173h2.1v2.7h-2.1zM412 173h2.1v2.7h-2.1zM462 173h6.1v2.7h-6.1zM532 173h2.1v2.7h-2.1zM542 173h2.1v2.7h-2.1zM550 173h2.1v2.7h-2.1zM584 173h2.1v2.7h-2.1zM592 173h2.1v2.7h-2.1zM596 173h2.1v2.7h-2.1zM390 175.5h2.1v2.8h-2.1zM408 175.5h2.1v2.8h-2.1zM412 175.5h2.1v2.8h-2.1zM462 175.5h6.1v2.8h-6.1zM532 175.5h2.1v2.8h-2.1zM542 175.5h2.1v2.8h-2.1zM550 175.5h2.1v2.8h-2.1zM584 175.5h2.1v2.8h-2.1zM592 175.5h2.1v2.8h-2.1zM596 175.5h2.1v2.8h-2.1zM390 178.1h2.1v2.7h-2.1zM408 178.1h2.1v2.7h-2.1zM412 178.1h2.1v2.7h-2.1zM462 178.1h6.1v2.7h-6.1zM532 178.1h2.1v2.7h-2.1zM542 178.1h2.1v2.7h-2.1zM550 178.1h2.1v2.7h-2.1zM584 178.1h2.1v2.7h-2.1zM592 178.1h2.1v2.7h-2.1zM596 178.1h2.1v2.7h-2.1zM390 180.6h2.1v2.8h-2.1zM408 180.6h2.1v2.8h-2.1zM412 180.6h2.1v2.8h-2.1zM462 180.6h6.1v2.8h-6.1zM532 180.6h2.1v2.8h-2.1zM542 180.6h2.1v2.8h-2.1zM550 180.6h2.1v2.8h-2.1zM584 180.6h2.1v2.8h-2.1zM592 180.6h2.1v2.8h-2.1zM596 180.6h2.1v2.8h-2.1zM390 183.2h2.1v2.7h-2.1zM408 183.2h2.1v2.7h-2.1zM412 183.2h2.1v2.7h-2.1zM462 183.2h6.1v2.7h-6.1zM532 183.2h2.1v2.7h-2.1zM542 183.2h2.1v2.7h-2.1zM550 183.2h2.1v2.7h-2.1zM584 183.2h2.1v2.7h-2.1zM592 183.2h2.1v2.7h-2.1zM596 183.2h2.1v2.7h-2.1zM390 185.7h2.1v2.8h-2.1zM408 185.7h2.1v2.8h-2.1zM412 185.7h2.1v2.8h-2.1zM462 185.7h6.1v2.8h-6.1zM532 185.7h2.1v2.8h-2.1zM542 185.7h2.1v2.8h-2.1zM550 185.7h2.1v2.8h-2.1zM584 185.7h2.1v2.8h-2.1zM592 185.7h2.1v2.8h-2.1zM596 185.7h2.1v2.8h-2.1zM390 188.3h2.1v2.7h-2.1zM408 188.3h2.1v2.7h-2.1zM412 188.3h2.1v2.7h-2.1zM462 188.3h6.1v2.7h-6.1zM532 188.3h2.1v2.7h-2.1zM542 188.3h2.1v2.7h-2.1zM550 188.3h2.1v2.7h-2.1zM584 188.3h2.1v2.7h-2.1zM390 190.8h2.1v2.8h-2.1zM408 190.8h2.1v2.8h-2.1zM412 190.8h2.1v2.8h-2.1zM462 190.8h6.1v2.8h-6.1zM532 190.8h2.1v2.8h-2.1zM542 190.8h2.1v2.8h-2.1zM550 190.8h2.1v2.8h-2.1zM584 190.8h2.1v2.8h-2.1zM390 193.4h2.1v2.7h-2.1zM408 193.4h2.1v2.7h-2.1zM412 193.4h2.1v2.7h-2.1zM462 193.4h6.1v2.7h-6.1zM532 193.4h2.1v2.7h-2.1zM542 193.4h2.1v2.7h-2.1zM550 193.4h2.1v2.7h-2.1zM584 193.4h2.1v2.7h-2.1zM390 195.9h2.1v2.8h-2.1zM408 195.9h2.1v2.8h-2.1zM412 195.9h2.1v2.8h-2.1zM462 195.9h6.1v2.8h-6.1zM532 195.9h2.1v2.8h-2.1zM542 195.9h2.1v2.8h-2.1zM550 195.9h2.1v2.8h-2.1zM584 195.9h2.1v2.8h-2.1zM390 198.5h2.1v2.7h-2.1zM408 198.5h2.1v2.7h-2.1zM412 198.5h2.1v2.7h-2.1zM462 198.5h6.1v2.7h-6.1zM532 198.5h2.1v2.7h-2.1zM542 198.5h2.1v2.7h-2.1zM550 198.5h2.1v2.7h-2.1zM584 198.5h2.1v2.7h-2.1zM228 201h4.1v19.2h-4.1zM234 201h2.1v19.2h-2.1zM318 201h2.1v19.2h-2.1zM380 201h2.1v19.2h-2.1zM386 201h2.1v19.2h-2.1zM398 201h2.1v19.2h-2.1zM402 201h2.1v19.2h-2.1zM406 201h2.1v19.2h-2.1zM424 201h4.1v19.2h-4.1zM448 201h2.1v19.2h-2.1zM462 201h2.1v19.2h-2.1zM484 201h2.1v19.2h-2.1zM504 201h2.1v19.2h-2.1zM510 201h2.1v19.2h-2.1zM538 201h2.1v19.2h-2.1zM554 201h2.1v19.2h-2.1zM572 201h2.1v19.2h-2.1zM396 220h2.1v17.4h-2.1zM420 220h2.1v17.4h-2.1zM462 220h2.1v17.4h-2.1zM466 220h2.1v17.4h-2.1zM498 220h2.1v17.4h-2.1zM526 220h2.1v17.4h-2.1zM538 220h2.1v17.4h-2.1zM552 220h2.1v17.4h-2.1zM574 220h2.1v17.4h-2.1z"/>
<path fill="rgb(114,114,114)" d="M232 84.2h2.1v28.0h-2.1zM242 84.2h2.1v28.0h-2.1zM250 84.2h2.1v28.0h-2.1zM318 84.2h2.1v28.0h-2.1zM384 84.2h2.1v28.0h-2.1zM440 84.2h2.1v28.0h-2.1zM528 84.2h2.1v28.0h-2.1zM534 84.2h2.1v28.0h-2.1zM550 84.2h2.1v28.0h-2.1zM580 84.2h2.1v28.0h-2.1zM230 112h2.1v4.7h-2.1zM234 112h2.1v4.7h-2.1zM238 112h2.1v4.7h-2.1zM302 112h2.1v4.7h-2.1zM324 112h2.1v4.7h-2.1zM332 112h2.1v4.7h-2.1zM340 112h2.1v4.7h-2.1zM354 112h2.1v4.7h-2.1zM360 112h2.1v4.7h-2.1zM382 112h2.1v4.7h-2.1zM398 112h2.1v4.7h-2.1zM404 112h2.1v4.7h-2.1zM420 112h2.1v4.7h-2.1zM426 112h2.1v4.7h-2.1zM446 112h2.1v4.7h-2.1zM454 112h2.1v4.7h-2.1zM506 112h2.1v4.7h-2.1zM518 112h2.1v4.7h-2.1zM540 112h2.1v4.7h-2.1zM564 112h2.1v4.7h-2.1zM586 112h2.1v4.7h-2.1zM598 112h2.1v4.7h-2.1zM384 116.5h2.1v14.7h-2.1zM420 116.5h2.1v14.7h-2.1zM456 116.5h2.1v14.7h-2.1zM474 116.5h2.1v14.7h-2.1zM490 116.5h2.1v14.7h-2.1zM534 116.5h2.1v14.7h-2.1zM542 116.5h2.1v14.7h-2.1zM574 116.5h2.1v14.7h-2.1zM578 116.5h2.1v14.7h-2.1zM274 131h2.1v14.2h-2.1zM346 131h2.1v14.2h-2.1zM384 131h2.1v14.2h-2.1zM416 131h2.1v14.2h-2.1zM440 131h2.1v14.2h-2.1zM472 131h2.1v14.2h-2.1zM486 131h4.1v14.2h-4.1zM494 131h2.1v14.2h-2.1zM510 131h2.1v14.2h-2.1zM538 131h2.1v14.2h-2.1zM552 131h2.1v14.2h-2.1zM450 145h2.1v2.7h-2.1zM510 145h2.1v2.7h-2.1zM548 145h2.1v2.7h-2.1zM582 145h2.1v2.7h-2.1zM450 147.5h2.1v2.8h-2.1zM510 147.5h2.1v2.8h-2.1zM548 147.5h2.1v2.8h-2.1zM582 147.5h2.1v2.8h-2.1zM450 150.1h2.1v2.7h-2.1zM510 150.1h2.1v2.7h-2.1zM548 150.1h2.1v2.7h-2.1zM582 150.1h2.1v2.7h-2.1zM450 152.6h2.1v2.8h-2.1zM510 152.6h2.1v2.8h-2.1zM548 152.6h2.1v2.8h-2.1zM582 152.6h2.1v2.8h-2.1zM450 155.2h2.1v2.7h-2.1zM510 155.2h2.1v2.7h-2.1zM548 155.2h2.1v2.7h-2.1zM582 155.2h2.1v2.7h-2.1zM450 157.7h2.1v2.8h-2.1zM510 157.7h2.1v2.8h-2.1zM548 157.7h2.1v2.8h-2.1zM582 157.7h2.1v2.8h-2.1zM450 160.3h2.1v2.7h-2.1zM510 160.3h2.1v2.7h-2.1zM548 160.3h2.1v2.7h-2.1zM582 160.3h2.1v2.7h-2.1zM450 162.8h2.1v2.8h-2.1zM510 162.8h2.1v2.8h-2.1zM548 162.8h2.1v2.8h-2.1zM582 162.8h2.1v2.8h-2.1zM588 162.8h2.1v2.8h-2.1zM600 162.8h2.1v2.8h-2.1zM450 165.4h2.1v2.7h-2.1zM510 165.4h2.1v2.7h-2.1zM548 165.4h2.1v2.7h-2.1zM582 165.4h2.1v2.7h-2.1zM588 165.4h2.1v2.7h-2.1zM600 165.4h2.1v2.7h-2.1zM450 167.9h2.1v2.8h-2.1zM510 167.9h2.1v2.8h-2.1zM548 167.9h2.1v2.8h-2.1zM582 167.9h2.1v2.8h-2.1zM588 167.9h2.1v2.8h-2.1zM600 167.9h2.1v2.8h-2.1zM450 170.5h2.1v2.7h-2.1zM510 170.5h2.1v2.7h-2.1zM548 170.5h2.1v2.7h-2.1zM582 170.5h2.1v2.7h-2.1zM588 170.5h2.1v2.7h-2.1zM600 170.5h2.1v2.7h-2.1zM450 173h2.1v2.7h-2.1zM510 173h2.1v2.7h-2.1zM548 173h2.1v2.7h-2.1zM582 173h2.1v2.7h-2.1zM588 173h2.1v2.7h-2.1zM600 173h2.1v2.7h-2.1zM450 175.5h2.1v2.8h-2.1zM510 175.5h2.1v2.8h-2.1zM548 175.5h2.1v2.8h-2.1zM582 175.5h2.1v2.8h-2.1zM588 175.5h2.1v2.8h-2.1zM600 175.5h2.1v2.8h-2.1zM450 178.1h2.1v2.7h-2.1zM510 178.1h2.1v2.7h-2.1zM548 178.1h2.1v2.7h-2.1zM582 178.1h2.1v2.7h-2.1zM588 178.1h2.1v2.7h-2.1zM600 178.1h2.1v2.7h-2.1zM450 180.6h2.1v2.8h-2.1zM510 180.6h2.1v2.8h-2.1zM548 180.6h2.1v2.8h-2.1zM582 180.6h2.1v2.8h-2.1zM588 180.6h2.1v2.8h-2.1zM600 180.6h2.1v2.8h-2.1zM450 183.2h2.1v2.7h-2.1zM510 183.2h2.1v2.7h-2.1zM548 183.2h2.1v2.7h-2.1zM582 183.2h2.1v2.7h-2.1zM588 183.2h2.1v2.7h-2.1zM600 183.2h2.1v2.7h-2.1zM450 185.7h2.1v2.8h-2.1zM510 185.7h2.1v2.8h-2.1zM548 185.7h2.1v2.8h-2.1zM582 185.7h2.1v2.8h-2.1zM588 185.7h2.1v2.8h-2.1zM600 185.7h2.1v2.8h-2.1zM450 188.3h2.1v2.7h-2.1zM510 188.3h2.1v2.7h-2.1zM548 188.3h2.1v2.7h-2.1zM582 188.3h2.1v2.7h-2.1zM450 190.8h2.1v2.8h-2.1zM510 190.8h2.1v2.8h-2.1zM548 190.8h2.1v2.8h-2.1zM582 190.8h2.1v2.8h-2.1zM450 193.4h2.1v2.7h-2.1zM510 193.4h2.1v2.7h-2.1zM548 193.4h2.1v2.7h-2.1zM582 193.4h2.1v2.7h-2.1zM450 195.9h2.1v2.8h-2.1zM510 195.9h2.1v2.8h-2.1zM548 195.9h2.1v2.8h-2.1zM582 195.9h2.1v2.8h-2.1zM450 198.5h2.1v2.7h-2.1zM510 198.5h2.1v2.7h-2.1zM548 198.5h2.1v2.7h-2.1zM582 198.5h2.1v2.7h-2.1zM232 201h2.1v19.2h-2.1zM240 201h2.1v19.2h-2.1zM306 201h2.1v19.2h-2.1zM310 201h2.1v19.2h-2.1zM390 201h2.1v19.2h-2.1zM396 201h2.1v19.2h-2.1zM408 201h2.1v19.2h-2.1zM420 201h2.1v19.2h-2.1zM434 201h4.1v19.2h-4.1zM446 201h2.1v19.2h-2.1zM460 201h2.1v19.2h-2.1zM480 201h2.1v19.2h-2.1zM488 201h2.1v19.2h-2.1zM506 201h2.1v19.2h-2.1zM550 201h2.1v19.2h-2.1zM570 201h2.1v19.2h-2.1zM580 201h2.1v19.2h-2.1zM584 201h2.1v19.2h-2.1zM408 220h2.1v17.4h-2.1zM458 220h2.1v17.4h-2.1zM470 220h2.1v17.4h-2.1zM476 220h2.1v17.4h-2.1zM488 220h2.1v17.4h-2.1zM492 220h2.1v17.4h-2.1zM496 220h2.1v17.4h-2.1zM528 220h2.1v17.4h-2.1zM534 220h2.1v17.4h-2.1zM572 220h2.1v17.4h-2.1z"/>
<path fill="rgb(120,120,120)" d="M450 84.2h2.1v28.0h-2.1zM286 112h2.1v4.7h-2.1zM294 112h2.1v4.7h-2.1zM316 112h2.1v4.7h-2.1zM330 112h2.1v4.7h-2.1zM416 112h4.1v4.7h-4.1zM424 112h2.1v4.7h-2.1zM440 112h2.1v4.7h-2.1zM444 112h2.1v4.7h-2.1zM466 112h2.1v4.7h-2.1zM472 112h2.1v4.7h-2.1zM510 112h2.1v4.7h-2.1zM520 112h2.1v4.7h-2.1zM532 112h2.1v4.7h-2.1zM550 112h2.1v4.7h-2.1zM560 112h2.1v4.7h-2.1zM568 112h2.1v4.7h-2.1zM582 112h2.1v4.7h-2.1zM402 116.5h2.1v14.7h-2.1zM416 116.5h2.1v14.7h-2.1zM436 116.5h2.1v14.7h-2.1zM450 116.5h2.1v14.7h-2.1zM484 116.5h2.1v14.7h-2.1zM506 116.5h2.1v14.7h-2.1zM548 116.5h2.1v14.7h-2.1zM268 131h2.1v14.2h-2.1zM358 131h2.1v14.2h-2.1zM418 131h2.1v14.2h-2.1zM434 131h2.1v14.2h-2.1zM478 131h2.1v14.2h-2.1zM490 131h2.1v14.2h-2.1zM502 131h2.1v14.2h-2.1zM516 131h2.1v14.2h-2.1zM520 131h2.1v14.2h-2.1zM536 131h2.1v14.2h-2.1zM584 131h2.1v14.2h-2.1zM380 145h2.1v2.7h-2.1zM384 145h2.1v2.7h-2.1zM394 145h2.1v2.7h-2.1zM410 145h2.1v2.7h-2.1zM436 145h2.1v2.7h-2.1zM468 145h2.1v2.7h-2.1zM494 145h2.1v2.7h-2.1zM514 145h2.1v2.7h-2.1zM524 145h2.1v2.7h-2.1zM554 145h2.1v2.7h-2.1zM574 145h2.1v2.7h-2.1zM380 147.5h2.1v2.8h-2.1zM384 147.5h2.1v2.8h-2.1zM394 147.5h2.1v2.8h-2.1zM410 147.5h2.1v2.8h-2.1zM436 147.5h2.1v2.8h-2.1zM468 147.5h2.1v2.8h-2.1zM494 147.5h2.1v2.8h-2.1zM514 147.5h2.1v2.8h-2.1zM524 147.5h2.1v2.8h-2.1zM554 147.5h2.1v2.8h-2.1zM574 147.5h2.1v2.8h-2.1zM380 150.1h2.1v2.7h-2.1zM384 150.1h2.1v2.7h-2.1zM394 150.1h2.1v2.7h-2.1zM410 150.1h2.1v2.7h-2.1zM436 150.1h2.1v2.7h-2.1zM468 150.1h2.1v2.7h-2.1zM494 150.1h2.1v2.7h-2.1zM514 150.1h2.1v2.7h-2.1zM524 150.1h2.1v2.7h-2.1zM554 150.1h2.1v2.7h-2.1zM574 150.1h2.1v2.7h-2.1zM380 152.6h2.1v2.8h-2.1zM384 152.6h2.1v2.8h-2.1zM394 152.6h2.1v2.8h-2.1zM410 152.6h2.1v2.8h-2.1zM436 152.6h2.1v2.8h-2.1zM468 152.6h2.1v2.8h-2.1zM494 152.6h2.1v2.8h-2.1zM514 152.6h2.1v2.8h-2.1zM524 152.6h2.1v2.8h-2.1zM554 152.6h2.1v2.8h-2.1zM574 152.6h2.1v2.8h-2.1zM380 155.2h2.1v2.7h-2.1zM384 155.2h2.1v2.7h-2.1zM394 155.2h2.1v2.7h-2.1zM410 155.2h2.1v2.7h-2.1zM436 155.2h2.1v2.7h-2.1zM468 155.2h2.1v2.7h-2.1zM494 155.2h2.1v2.7h-2.1zM514 155.2h2.1v2.7h-2.1zM524 155.2h2.1v2.7h-2.1zM554 155.2h2.1v2.7h-2.1zM574 155.2h2.1v2.7h-2.1zM380 157.7h2.1v2.8h-2.1zM384 157.7h2.1v2.8h-2.1zM394 157.7h2.1v2.8h-2.1zM410 157.7h2.1v2.8h-2.1zM436 157.7h2.1v2.8h-2.1zM468 157.7h2.1v2.8h-2.1zM494 157.7h2.1v2.8h-2.1zM514 157.7h2.1v2.8h-2.1zM524 157.7h2.1v2.8h-2.1zM554 157.7h2.1v2.8h-2.1zM574 157.7h2.1v2.8h-2.1zM380 160.3h2.1v2.7h-2.1zM384 160.3h2.1v2.7h-2.1zM394 160.3h2.1v2.7h-2.1zM410 160.3h2.1v2.7h-2.1zM436 160.3h2.1v2.7h-2.1zM468 160.3h2.1v2.7h-2.1zM494 160.3h2.1v2.7h-2.1zM514 160.3h2.1v2.7h-2.1zM554 160.3h2.1v2.7h-2.1zM574 160.3h2.1v2.7h-2.1zM380 162.8h2.1v2.8h-2.1zM384 162.8h2.1v2.8h-2.1zM394 162.8h2.1v2.8h-2.1zM410 162.8h2.1v2.8h-2.1zM436 162.8h2.1v2.8h-2.1zM468 162.8h2.1v2.8h-2.1zM494 162.8h2.1v2.8h-2.1zM514 162.8h2.1v2.8h-2.1zM554 162.8h2.1v2.8h-2.1zM574 162.8h2.1v2.8h-2.1zM586 162.8h2.1v2.8h-2.1zM602 162.8h2.1v2.8h-2.1zM380 165.4h2.1v2.7h-2.1zM384 165.4h2.1v2.7h-2.1zM394 165.4h2.1v2.7h-2.1zM410 165.4h2.1v2.7h-2.1zM436 165.4h2.1v2.7h-2.1zM468 165.4h2.1v2.7h-2.1zM494 165.4h2.1v2.7h-2.1zM514 165.4h2.1v2.7h-2.1zM554 165.4h2.1v2.7h-2.1zM574 165.4h2.1v2.7h-2.1zM586 165.4h2.1v2.7h-2.1zM602 165.4h2.1v2.7h-2.1zM380 167.9h2.1v2.8h-2.1zM384 167.9h2.1v2.8h-2.1zM394 167.9h2.1v2.8h-2.1zM410 167.9h2.1v2.8h-2.1zM436 167.9h2.1v2.8h-2.1zM468 167.9h2.1v2.8h-2.1zM494 167.9h2.1v2.8h-2.1zM514 167.9h2.1v2.8h-2.1zM554 167.9h2.1v2.8h-2.1zM574 167.9h2.1v2.8h-2.1zM586 167.9h2.1v2.8h-2.1zM602 167.9h2.1v2.8h-2.1zM380 170.5h2.1v2.7h-2.1zM384 170.5h2.1v2.7h-2.1zM394 170.5h2.1v2.7h-2.1zM410 170.5h2.1v2.7h-2.1zM436 170.5h2.1v2.7h-2.1zM468 170.5h2.1v2.7h-2.1zM494 170.5h2.1v2.7h-2.1zM514 170.5h2.1v2.7h-2.1zM554 170.5h2.1v2.7h-2.1zM574 170.5h2.1v2.7h-2.1zM586 170.5h2.1v2.7h-2.1zM602 170.5h2.1v2.7h-2.1zM380 173h2.1v2.7h-2.1zM384 173h2.1v2.7h-2.1zM394 173h2.1v2.7h-2.1zM410 173h2.1v2.7h-2.1zM436 173h2.1v2.7h-2.1zM468 173h2.1v2.7h-2.1zM494 173h2.1v2.7h-2.1zM514 173h2.1v2.7h-2.1zM554 173h2.1v2.7h-2.1zM574 173h2.1v2.7h-2.1zM586 173h2.1v2.7h-2.1zM602 173h2.1v2.7h-2.1zM380 175.5h2.1v2.8h-2.1zM384 175.5h2.1v2.8h-2.1zM394 175.5h2.1v2.8h-2.1zM410 175.5h2.1v2.8h-2.1zM436 175.5h2.1v2.8h-2.1zM468 175.5h2.1v2.8h-2.1zM494 175.5h2.1v2.8h-2.1zM514 175.5h2.1v2.8h-2.1zM554 175.5h2.1v2.8h-2.1zM574 175.5h2.1v2.8h-2.1zM586 175.5h2.1v2.8h-2.1zM602 175.5h2.1v2.8h-2.1zM380 178.1h2.1v2.7h-2.1zM384 178.1h2.1v2.7h-2.1zM394 178.1h2.1v2.7h-2.1zM410 178.1h2.1v2.7h-2.1zM436 178.1h2.1v2.7h-2.1zM468 178.1h2.1v2.7h-2.1zM494 178.1h2.1v2.7h-2.1zM514 178.1h2.1v2.7h-2.1zM554 178.1h2.1v2.7h-2.1zM574 178.1h2.1v2.7h-2.1zM586 178.1h2.1v2.7h-2.1zM602 178.1h2.1v2.7h-2.1zM380 180.6h2.1v2.8h-2.1zM384 180.6h2.1v2.8h-2.1zM394 180.6h2.1v2.8h-2.1zM410 180.6h2.1v2.8h-2.1zM436 180.6h2.1v2.8h-2.1zM468 180.6h2.1v2.8h-2.1zM494 180.6h2.1v2.8h-2.1zM514 180.6h2.1v2.8h-2.1zM554 180.6h2.1v2.8h-2.1zM574 180.6h2.1v2.8h-2.1zM586 180.6h2.1v2.8h-2.1zM602 180.6h2.1v2.8h-2.1zM380 183.2h2.1v2.7h-2.1zM384 183.2h2.1v2.7h-2.1zM394 183.2h2.1v2.7h-2.1zM410 183.2h2.1v2.7h-2.1zM436 183.2h2.1v2.7h-2.1zM468 183.2h2.1v2.7h-2.1zM494 183.2h2.1v2.7h-2.1zM514 183.2h2.1v2.7h-2.1zM554 183.2h2.1v2.7h-2.1zM574 183.2h2.1v2.7h-2.1zM586 183.2h2.1v2.7h-2.1zM602 183.2h2.1v2.7h-2.1zM380 185.7h2.1v2.8h-2.1zM384 185.7h2.1v2.8h-2.1zM394 185.7h2.1v2.8h-2.1zM410 185.7h2.1v2.8h-2.1zM436 185.7h2.1v2.8h-2.1zM468 185.7h2.1v2.8h-2.1zM494 185.7h2.1v2.8h-2.1zM514 185.7h2.1v2.8h-2.1zM554 185.7h2.1v2.8h-2.1zM574 185.7h2.1v2.8h-2.1zM586 185.7h2.1v2.8h-2.1zM602 185.7h2.1v2.8h-2.1zM370 188.3h2.1v2.7h-2.1zM380 188.3h2.1v2.7h-2.1zM384 188.3h2.1v2.7h-2.1zM394 188.3h2.1v2.7h-2.1zM410 188.3h2.1v2.7h-2.1zM436 188.3h2.1v2.7h-2.1zM468 188.3h2.1v2.7h-2.1zM494 188.3h2.1v2.7h-2.1zM514 188.3h2.1v2.7h-2.1zM524 188.3h2.1v2.7h-2.1zM554 188.3h2.1v2.7h-2.1zM574 188.3h2.1v2.7h-2.1zM370 190.8h2.1v2.8h-2.1zM380 190.8h2.1v2.8h-2.1zM384 190.8h2.1v2.8h-2.1zM394 190.8h2.1v2.8h-2.1zM410 190.8h2.1v2.8h-2.1zM436 190.8h2.1v2.8h-2.1zM468 190.8h2.1v2.8h-2.1zM494 190.8h2.1v2.8h-2.1zM514 190.8h2.1v2.8h-2.1zM524 190.8h2.1v2.8h-2.1zM554 190.8h2.1v2.8h-2.1zM574 190.8h2.1v2.8h-2.1zM370 193.4h2.1v2.7h-2.1zM380 193.4h2.1v2.7h-2.1zM384 193.4h2.1v2.7h-2.1zM394 193.4h2.1v2.7h-2.1zM410 193.4h2.1v2.7h-2.1zM436 193.4h2.1v2.7h-2.1zM468 193.4h2.1v2.7h-2.1zM494 193.4h2.1v2.7h-2.1zM514 193.4h2.1v2.7h-2.1zM524 193.4h2.1v2.7h-2.1zM554 193.4h2.1v2.7h-2.1zM574 193.4h2.1v2.7h-2.1zM370 195.9h2.1v2.8h-2.1zM380 195.9h2.1v2.8h-2.1zM384 195.9h2.1v2.8h-2.1zM394 195.9h2.1v2.8h-2.1zM410 195.9h2.1v2.8h-2.1zM436 195.9h2.1v2.8h-2.1zM468 195.9h2.1v2.8h-2.1zM494 195.9h2.1v2.8h-2.1zM514 195.9h2.1v2.8h-2.1zM524 195.9h2.1v2.8h-2.1zM554 195.9h2.1v2.8h-2.1zM574 195.9h2.1v2.8h-2.1zM370 198.5h2.1v2.7h-2.1zM380 198.5h2.1v2.7h-2.1zM384 198.5h2.1v2.7h-2.1zM394 198.5h2.1v2.7h-2.1zM410 198.5h2.1v2.7h-2.1zM436 198.5h2.1v2.7h-2.1zM468 198.5h2.1v2.7h-2.1zM494 198.5h2.1v2.7h-2.1zM514 198.5h2.1v2.7h-2.1zM524 198.5h2.1v2.7h-2.1zM554 198.5h2.1v2.7h-2.1zM574 198.5h2.1v2.7h-2.1zM246 201h2.1v19.2h-2.1zM256 201h2.1v19.2h-2.1zM262 201h2.1v19.2h-2.1zM464 201h2.1v19.2h-2.1zM478 201h2.1v19.2h-2.1zM482 201h2.1v19.2h-2.1zM524 201h2.1v19.2h-2.1zM528 201h2.1v19.2h-2.1zM542 201h2.1v19.2h-2.1zM556 201h2.1v19.2h-2.1zM574 201h2.1v19.2h-2.1zM578 201h2.1v19.2h-2.1zM416 220h2.1v17.4h-2.1zM460 220h2.1v17.4h-2.1zM540 220h2.1v17.4h-2.1zM544 220h2.1v17.4h-2.1zM562 220h2.1v17.4h-2.1zM578 220h2.1v17.4h-2.1z"/>
<path fill="rgb(126,126,126)" d="M412 84.2h2.1v28.0h-2.1zM524 84.2h2.1v28.0h-2.1zM554 84.2h2.1v28.0h-2.1zM290 112h4.1v4.7h-4.1zM298 112h2.1v4.7h-2.1zM306 112h2.1v4.7h-2.1zM350 112h2.1v4.7h-2.1zM380 112h2.1v4.7h-2.1zM394 112h2.1v4.7h-2.1zM412 112h2.1v4.7h-2.1zM474 112h2.1v4.7h-2.1zM490 112h2.1v4.7h-2.1zM534 112h2.1v4.7h-2.1zM554 112h2.1v4.7h-2.1zM574 112h2.1v4.7h-2.1zM584 112h2.1v4.7h-2.1zM398 116.5h2.1v14.7h-2.1zM412 116.5h2.1v14.7h-2.1zM424 116.5h2.1v14.7h-2.1zM496 116.5h2.1v14.7h-2.1zM508 116.5h2.1v14.7h-2.1zM582 116.5h2.1v14.7h-2.1zM264 131h2.1v14.2h-2.1zM276 131h2.1v14.2h-2.1zM302 131h2.1v14.2h-2.1zM308 131h2.1v14.2h-2.1zM412 131h2.1v14.2h-2.1zM450 131h2.1v14.2h-2.1zM466 131h2.1v14.2h-2.1zM506 131h2.1v14.2h-2.1zM550 131h2.1v14.2h-2.1zM404 145h2.1v2.7h-2.1zM440 145h2.1v2.7h-2.1zM460 145h2.1v2.7h-2.1zM540 145h2.1v2.7h-2.1zM404 147.5h2.1v2.8h-2.1zM440 147.5h2.1v2.8h-2.1zM460 147.5h2.1v2.8h-2.1zM540 147.5h2.1v2.8h-2.1zM376 150.1h2.1v2.7h-2.1zM404 150.1h2.1v2.7h-2.1zM440 150.1h2.1v2.7h-2.1zM460 150.1h2.1v2.7h-2.1zM540 150.1h2.1v2.7h-2.1zM376 152.6h2.1v2.8h-2.1zM404 152.6h2.1v2.8h-2.1zM440 152.6h2.1v2.8h-2.1zM460 152.6h2.1v2.8h-2.1zM540 152.6h2.1v2.8h-2.1zM376 155.2h2.1v2.7h-2.1zM404 155.2h2.1v2.7h-2.1zM440 155.2h2.1v2.7h-2.1zM460 155.2h2.1v2.7h-2.1zM540 155.2h2.1v2.7h-2.1zM376 157.7h2.1v2.8h-2.1zM404 157.7h2.1v2.8h-2.1zM440 157.7h2.1v2.8h-2.1zM460 157.7h2.1v2.8h-2.1zM540 157.7h2.1v2.8h-2.1zM376 160.3h2.1v2.7h-2.1zM404 160.3h2.1v2.7h-2.1zM440 160.3h2.1v2.7h-2.1zM460 160.3h2.1v2.7h-2.1zM540 160.3h2.1v2.7h-2.1zM376 162.8h2.1v2.8h-2.1zM404 162.8h2.1v2.8h-2.1zM440 162.8h2.1v2.8h-2.1zM460 162.8h2.1v2.8h-2.1zM540 162.8h2.1v2.8h-2.1zM376 165.4h2.1v2.7h-2.1zM404 165.4h2.1v2.7h-2.1zM440 165.4h2.1v2.7h-2.1zM460 165.4h2.1v2.7h-2.1zM540 165.4h2.1v2.7h-2.1zM376 167.9h2.1v2.8h-2.1zM404 167.9h2.1v2.8h-2.1zM440 167.9h2.1v2.8h-2.1zM460 167.9h2.1v2.8h-2.1zM540 167.9h2.1v2.8h-2.1zM376 170.5h2.1v2.7h-2.1zM404 170.5h2.1v2.7h-2.1zM440 170.5h2.1v2.7h-2.1zM460 170.5h2.1v2.7h-2.1zM540 170.5h2.1v2.7h-2.1zM376 173h2.1v2.7h-2.1zM404 173h2.1v2.7h-2.1zM440 173h2.1v2.7h-2.1zM460 173h2.1v2.7h-2.1zM540 173h2.1v2.7h-2.1zM376 175.5h2.1v2.8h-2.1zM404 175.5h2.1v2.8h-2.1zM440 175.5h2.1v2.8h-2.1zM460 175.5h2.1v2.8h-2.1zM540 175.5h2.1v2.8h-2.1zM376 178.1h2.1v2.7h-2.1zM404 178.1h2.1v2.7h-2.1zM440 178.1h2.1v2.7h-2.1zM460 178.1h2.1v2.7h-2.1zM540 178.1h2.1v2.7h-2.1zM376 180.6h2.1v2.8h-2.1zM404 180.6h2.1v2.8h-2.1zM440 180.6h2.1v2.8h-2.1zM460 180.6h2.1v2.8h-2.1zM540 180.6h2.1v2.8h-2.1zM376 183.2h2.1v2.7h-2.1zM404 183.2h2.1v2.7h-2.1zM440 183.2h2.1v2.7h-2.1zM460 183.2h2.1v2.7h-2.1zM540 183.2h2.1v2.7h-2.1zM376 185.7h2.1v2.8h-2.1zM404 185.7h2.1v2.8h-2.1zM440 185.7h2.1v2.8h-2.1zM460 185.7h2.1v2.8h-2.1zM540 185.7h2.1v2.8h-2.1zM376 188.3h2.1v2.7h-2.1zM404 188.3h2.1v2.7h-2.1zM440 188.3h2.1v2.7h-2.1zM460 188.3h2.1v2.7h-2.1zM540 188.3h2.1v2.7h-2.1zM376 190.8h2.1v2.8h-2.1zM404 190.8h2.1v2.8h-2.1zM440 190.8h2.1v2.8h-2.1zM460 190.8h2.1v2.8h-2.1zM540 190.8h2.1v2.8h-2.1zM376 193.4h2.1v2.7h-2.1zM404 193.4h2.1v2.7h-2.1zM440 193.4h2.1v2.7h-2.1zM460 193.4h2.1v2.7h-2.1zM540 193.4h2.1v2.7h-2.1zM376 195.9h2.1v2.8h-2.1zM404 195.9h2.1v2.8h-2.1zM440 195.9h2.1v2.8h-2.1zM460 195.9h2.1v2.8h-2.1zM540 195.9h2.1v2.8h-2.1zM376 198.5h2.1v2.7h-2.1zM404 198.5h2.1v2.7h-2.1zM440 198.5h2.1v2.7h-2.1zM460 198.5h2.1v2.7h-2.1zM540 198.5h2.1v2.7h-2.1zM254 201h2.1v19.2h-2.1zM258 201h2.1v19.2h-2.1zM314 201h2.1v19.2h-2.1zM372 201h2.1v19.2h-2.1zM410 201h2.1v19.2h-2.1zM416 201h2.1v19.2h-2.1zM422 201h2.1v19.2h-2.1zM442 201h2.1v19.2h-2.1zM502 201h2.1v19.2h-2.1zM512 201h2.1v19.2h-2.1zM532 201h2.1v19.2h-2.1zM540 201h2.1v19.2h-2.1zM548 201h2.1v19.2h-2.1zM394 220h2.1v17.4h-2.1zM398 220h2.1v17.4h-2.1zM414 220h2.1v17.4h-2.1zM438 220h4.1v17.4h-4.1zM454 220h2.1v17.4h-2.1zM464 220h2.1v17.4h-2.1zM468 220h2.1v17.4h-2.1zM474 220h2.1v17.4h-2.1zM490 220h2.1v17.4h-2.1zM502 220h2.1v17.4h-2.1zM568 220h2.1v17.4h-2.1z"/>
<path fill="rgb(132,132,132)" d="M320 84.2h2.1v28.0h-2.1zM442 84.2h2.1v28.0h-2.1zM508 84.2h2.1v28.0h-2.1zM596 84.2h2.1v28.0h-2.1zM228 112h2.1v4.7h-2.1zM252 112h2.1v4.7h-2.1zM272 112h2.1v4.7h-2.1zM312 112h4.1v4.7h-4.1zM334 112h2.1v4.7h-2.1zM384 112h2.1v4.7h-2.1zM414 112h2.1v4.7h-2.1zM464 112h2.1v4.7h-2.1zM504 112h2.1v4.7h-2.1zM508 112h2.1v4.7h-2.1zM538 112h2.1v4.7h-2.1zM404 116.5h2.1v14.7h-2.1zM426 116.5h2.1v14.7h-2.1zM442 116.5h2.1v14.7h-2.1zM454 116.5h2.1v14.7h-2.1zM342 131h2.1v14.2h-2.1zM354 131h2.1v14.2h-2.1zM414 131h2.1v14.2h-2.1zM436 131h2.1v14.2h-2.1zM454 131h2.1v14.2h-2.1zM572 131h2.1v14.2h-2.1zM262 145h2.1v2.7h-2.1zM402 145h2.1v2.7h-2.1zM516 145h2.1v2.7h-2.1zM538 145h2.1v2.7h-2.1zM262 147.5h2.1v2.8h-2.1zM402 147.5h2.1v2.8h-2.1zM516 147.5h2.1v2.8h-2.1zM538 147.5h2.1v2.8h-2.1zM262 150.1h2.1v2.7h-2.1zM402 150.1h2.1v2.7h-2.1zM516 150.1h2.1v2.7h-2.1zM538 150.1h2.1v2.7h-2.1zM262 152.6h2.1v2.8h-2.1zM402 152.6h2.1v2.8h-2.1zM516 152.6h2.1v2.8h-2.1zM538 152.6h2.1v2.8h-2.1zM262 155.2h2.1v2.7h-2.1zM402 155.2h2.1v2.7h-2.1zM516 155.2h2.1v2.7h-2.1zM538 155.2h2.1v2.7h-2.1zM262 157.7h2.1v2.8h-2.1zM402 157.7h2.1v2.8h-2.1zM516 157.7h2.1v2.8h-2.1zM538 157.7h2.1v2.8h-2.1zM262 160.3h2.1v2.7h-2.1zM402 160.3h2.1v2.7h-2.1zM516 160.3h2.1v2.7h-2.1zM538 160.3h2.1v2.7h-2.1zM262 162.8h2.1v2.8h-2.1zM402 162.8h2.1v2.8h-2.1zM516 162.8h2.1v2.8h-2.1zM538 162.8h2.1v2.8h-2.1zM598 162.8h2.1v2.8h-2.1zM262 165.4h2.1v2.7h-2.1zM402 165.4h2.1v2.7h-2.1zM516 165.4h2.1v2.7h-2.1zM538 165.4h2.1v2.7h-2.1zM598 165.4h2.1v2.7h-2.1zM262 167.9h2.1v2.8h-2.1zM402 167.9h2.1v2.8h-2.1zM516 167.9h2.1v2.8h-2.1zM538 167.9h2.1v2.8h-2.1zM598 167.9h2.1v2.8h-2.1zM262 170.5h2.1v2.7h-2.1zM402 170.5h2.1v2.7h-2.1zM516 170.5h2.1v2.7h-2.1zM538 170.5h2.1v2.7h-2.1zM598 170.5h2.1v2.7h-2.1zM262 173h2.1v2.7h-2.1zM402 173h2.1v2.7h-2.1zM516 173h2.1v2.7h-2.1zM538 173h2.1v2.7h-2.1zM598 173h2.1v2.7h-2.1zM262 175.5h2.1v2.8h-2.1zM402 175.5h2.1v2.8h-2.1zM516 175.5h2.1v2.8h-2.1zM538 175.5h2.1v2.8h-2.1zM598 175.5h2.1v2.8h-2.1zM262 178.1h2.1v2.7h-2.1zM402 178.1h2.1v2.7h-2.1zM516 178.1h2.1v2.7h-2.1zM538 178.1h2.1v2.7h-2.1zM598 178.1h2.1v2.7h-2.1zM262 180.6h2.1v2.8h-2.1zM402 180.6h2.1v2.8h-2.1zM516 180.6h2.1v2.8h-2.1zM538 180.6h2.1v2.8h-2.1zM598 180.6h2.1v2.8h-2.1zM262 183.2h2.1v2.7h-2.1zM402 183.2h2.1v2.7h-2.1zM516 183.2h2.1v2.7h-2.1zM538 183.2h2.1v2.7h-2.1zM598 183.2h2.1v2.7h-2.1zM262 185.7h2.1v2.8h-2.1zM402 185.7h2.1v2.8h-2.1zM516 185.7h2.1v2.8h-2.1zM538 185.7h2.1v2.8h-2.1zM598 185.7h2.1v2.8h-2.1zM262 188.3h2.1v2.7h-2.1zM402 188.3h2.1v2.7h-2.1zM516 188.3h2.1v2.7h-2.1zM538 188.3h2.1v2.7h-2.1zM262 190.8h2.1v2.8h-2.1zM402 190.8h2.1v2.8h-2.1zM516 190.8h2.1v2.8h-2.1zM538 190.8h2.1v2.8h-2.1zM262 193.4h2.1v2.7h-2.1zM402 193.4h2.1v2.7h-2.1zM516 193.4h2.1v2.7h-2.1zM538 193.4h2.1v2.7h-2.1zM262 195.9h2.1v2.8h-2.1zM402 195.9h2.1v2.8h-2.1zM516 195.9h2.1v2.8h-2.1zM538 195.9h2.1v2.8h-2.1zM262 198.5h2.1v2.7h-2.1zM402 198.5h2.1v2.7h-2.1zM516 198.5h2.1v2.7h-2.1zM538 198.5h2.1v2.7h-2.1zM388 201h2.1v19.2h-2.1zM394 201h2.1v19.2h-2.1zM404 201h2.1v19.2h-2.1zM456 201h4.1v19.2h-4.1zM486 201h2.1v19.2h-2.1zM496 201h2.1v19.2h-2.1zM564 201h2.1v19.2h-2.1zM284 220h2.1v17.4h-2.1zM308 220h2.1v17.4h-2.1zM400 220h2.1v17.4h-2.1zM410 220h4.1v17.4h-4.1zM434 220h2.1v17.4h-2.1zM450 220h2.1v17.4h-2.1zM494 220h2.1v17.4h-2.1zM542 220h2.1v17.4h-2.1z"/>
<path fill="rgb(138,138,138)" d="M376 84.2h2.1v28.0h-2.1zM246 112h2.1v4.7h-2.1zM268 112h4.1v4.7h-4.1zM288 112h2.1v4.7h-2.1zM310 112h2.1v4.7h-2.1zM322 112h2.1v4.7h-2.1zM372 112h2.1v4.7h-2.1zM588 112h2.1v4.7h-2.1zM376 116.5h2.1v14.7h-2.1zM406 116.5h2.1v14.7h-2.1zM414 116.5h2.1v14.7h-2.1zM528 116.5h2.1v14.7h-2.1zM270 131h2.1v14.2h-2.1zM300 131h2.1v14.2h-2.1zM462 131h2.1v14.2h-2.1zM468 131h2.1v14.2h-2.1zM528 131h2.1v14.2h-2.1zM554 131h2.1v14.2h-2.1zM432 145h2.1v2.7h-2.1zM438 145h2.1v2.7h-2.1zM512 145h2.1v2.7h-2.1zM432 147.5h2.1v2.8h-2.1zM438 147.5h2.1v2.8h-2.1zM512 147.5h2.1v2.8h-2.1zM432 150.1h2.1v2.7h-2.1zM438 150.1h2.1v2.7h-2.1zM512 150.1h2.1v2.7h-2.1zM432 152.6h2.1v2.8h-2.1zM438 152.6h2.1v2.8h-2.1zM512 152.6h2.1v2.8h-2.1zM432 155.2h2.1v2.7h-2.1zM438 155.2h2.1v2.7h-2.1zM512 155.2h2.1v2.7h-2.1zM432 157.7h2.1v2.8h-2.1zM438 157.7h2.1v2.8h-2.1zM512 157.7h2.1v2.8h-2.1zM432 160.3h2.1v2.7h-2.1zM438 160.3h2.1v2.7h-2.1zM512 160.3h2.1v2.7h-2.1zM432 162.8h2.1v2.8h-2.1zM438 162.8h2.1v2.8h-2.1zM512 162.8h2.1v2.8h-2.1zM432 165.4h2.1v2.7h-2.1zM438 165.4h2.1v2.7h-2.1zM512 165.4h2.1v2.7h-2.1zM432 167.9h2.1v2.8h-2.1zM438 167.9h2.1v2.8h-2.1zM512 167.9h2.1v2.8h-2.1zM432 170.5h2.1v2.7h-2.1zM438 170.5h2.1v2.7h-2.1zM512 170.5h2.1v2.7h-2.1zM432 173h2.1v2.7h-2.1zM438 173h2.1v2.7h-2.1zM512 173h2.1v2.7h-2.1zM432 175.5h2.1v2.8h-2.1zM438 175.5h2.1v2.8h-2.1zM512 175.5h2.1v2.8h-2.1zM432 178.1h2.1v2.7h-2.1zM438 178.1h2.1v2.7h-2.1zM512 178.1h2.1v2.7h-2.1zM432 180.6h2.1v2.8h-2.1zM438 180.6h2.1v2.8h-2.1zM512 180.6h2.1v2.8h-2.1zM432 183.2h2.1v2.7h-2.1zM438 183.2h2.1v2.7h-2.1zM512 183.2h2.1v2.7h-2.1zM432 185.7h2.1v2.8h-2.1zM438 185.7h2.1v2.8h-2.1zM512 185.7h2.1v2.8h-2.1zM432 188.3h2.1v2.7h-2.1zM438 188.3h2.1v2.7h-2.1zM512 188.3h2.1v2.7h-2.1zM432 190.8h2.1v2.8h-2.1zM438 190.8h2.1v2.8h-2.1zM512 190.8h2.1v2.8h-2.1zM432 193.4h2.1v2.7h-2.1zM438 193.4h2.1v2.7h-2.1zM512 193.4h2.1v2.7h-2.1zM432 195.9h2.1v2.8h-2.1zM438 195.9h2.1v2.8h-2.1zM512 195.9h2.1v2.8h-2.1zM432 198.5h2.1v2.7h-2.1zM438 198.5h2.1v2.7h-2.1zM512 198.5h2.1v2.7h-2.1zM238 201h2.1v19.2h-2.1zM308 201h2.1v19.2h-2.1zM384 201h2.1v19.2h-2.1zM400 201h2.1v19.2h-2.1zM414 201h2.1v19.2h-2.1zM450 201h2.1v19.2h-2.1zM534 201h2.1v19.2h-2.1zM552 201h2.1v19.2h-2.1zM426 220h2.1v17.4h-2.1zM456 220h2.1v17.4h-2.1zM506 220h2.1v17.4h-2.1zM512 220h2.1v17.4h-2.1zM532 220h2.1v17.4h-2.1zM580 220h2.1v17.4h-2.1z"/>
<path fill="rgb(144,144,144)" d="M322 84.2h4.1v28.0h-4.1zM340 84.2h2.1v28.0h-2.1zM242 112h2.1v4.7h-2.1zM248 112h2.1v4.7h-2.1zM254 112h4.1v4.7h-4.1zM264 112h2.1v4.7h-2.1zM274 112h2.1v4.7h-2.1zM296 112h2.1v4.7h-2.1zM308 112h2.1v4.7h-2.1zM326 112h2.1v4.7h-2.1zM344 112h4.1v4.7h-4.1zM434 112h2.1v4.7h-2.1zM442 112h2.1v4.7h-2.1zM548 112h2.1v4.7h-2.1zM578 112h2.1v4.7h-2.1zM602 112h2.1v4.7h-2.1zM554 116.5h2.1v14.7h-2.1zM266 131h2.1v14.2h-2.1zM272 131h2.1v14.2h-2.1zM352 131h2.1v14.2h-2.1zM508 131h2.1v14.2h-2.1zM576 131h2.1v14.2h-2.1zM260 145h2.1v2.7h-2.1zM406 145h2.1v2.7h-2.1zM442 145h2.1v2.7h-2.1zM504 145h2.1v2.7h-2.1zM508 145h2.1v2.7h-2.1zM260 147.5h2.1v2.8h-2.1zM406 147.5h2.1v2.8h-2.1zM442 147.5h2.1v2.8h-2.1zM504 147.5h2.1v2.8h-2.1zM508 147.5h2.1v2.8h-2.1zM260 150.1h2.1v2.7h-2.1zM406 150.1h2.1v2.7h-2.1zM442 150.1h2.1v2.7h-2.1zM504 150.1h2.1v2.7h-2.1zM508 150.1h2.1v2.7h-2.1zM260 152.6h2.1v2.8h-2.1zM406 152.6h2.1v2.8h-2.1zM442 152.6h2.1v2.8h-2.1zM504 152.6h2.1v2.8h-2.1zM508 152.6h2.1v2.8h-2.1zM260 155.2h2.1v2.7h-2.1zM406 155.2h2.1v2.7h-2.1zM442 155.2h2.1v2.7h-2.1zM504 155.2h2.1v2.7h-2.1zM508 155.2h2.1v2.7h-2.1zM260 157.7h2.1v2.8h-2.1zM406 157.7h2.1v2.8h-2.1zM442 157.7h2.1v2.8h-2.1zM504 157.7h2.1v2.8h-2.1zM508 157.7h2.1v2.8h-2.1zM260 160.3h2.1v2.7h-2.1zM406 160.3h2.1v2.7h-2.1zM442 160.3h2.1v2.7h-2.1zM504 160.3h2.1v2.7h-2.1zM508 160.3h2.1v2.7h-2.1zM260 162.8h2.1v2.8h-2.1zM406 162.8h2.1v2.8h-2.1zM442 162.8h2.1v2.8h-2.1zM504 162.8h2.1v2.8h-2.1zM508 162.8h2.1v2.8h-2.1zM260 165.4h2.1v2.7h-2.1zM406 165.4h2.1v2.7h-2.1zM442 165.4h2.1v2.7h-2.1zM504 165.4h2.1v2.7h-2.1zM508 165.4h2.1v2.7h-2.1zM260 167.9h2.1v2.8h-2.1zM406 167.9h2.1v2.8h-2.1zM442 167.9h2.1v2.8h-2.1zM504 167.9h2.1v2.8h-2.1zM508 167.9h2.1v2.8h-2.1zM260 170.5h2.1v2.7h-2.1zM406 170.5h2.1v2.7h-2.1zM442 170.5h2.1v2.7h-2.1zM504 170.5h2.1v2.7h-2.1zM508 170.5h2.1v2.7h-2.1zM260 173h2.1v2.7h-2.1zM406 173h2.1v2.7h-2.1zM442 173h2.1v2.7h-2.1zM504 173h2.1v2.7h-2.1zM508 173h2.1v2.7h-2.1zM260 175.5h2.1v2.8h-2.1zM406 175.5h2.1v2.8h-2.1zM442 175.5h2.1v2.8h-2.1zM504 175.5h2.1v2.8h-2.1zM508 175.5h2.1v2.8h-2.1zM260 178.1h2.1v2.7h-2.1zM406 178.1h2.1v2.7h-2.1zM442 178.1h2.1v2.7h-2.1zM504 178.1h2.1v2.7h-2.1zM508 178.1h2.1v2.7h-2.1zM260 180.6h2.1v2.8h-2.1zM406 180.6h2.1v2.8h-2.1zM442 180.6h2.1v2.8h-2.1zM504 180.6h2.1v2.8h-2.1zM508 180.6h2.1v2.8h-2.1zM260 183.2h2.1v2.7h-2.1zM406 183.2h2.1v2.7h-2.1zM442 183.2h2.1v2.7h-2.1zM504 183.2h2.1v2.7h-2.1zM508 183.2h2.1v2.7h-2.1zM260 185.7h2.1v2.8h-2.1zM406 185.7h2.1v2.8h-2.1zM442 185.7h2.1v2.8h-2.1zM504 185.7h2.1v2.8h-2.1zM508 185.7h2.1v2.8h-2.1zM260 188.3h2.1v2.7h-2.1zM406 188.3h2.1v2.7h-2.1zM442 188.3h2.1v2.7h-2.1zM504 188.3h2.1v2.7h-2.1zM508 188.3h2.1v2.7h-2.1zM260 190.8h2.1v2.8h-2.1zM406 190.8h2.1v2.8h-2.1zM442 190.8h2.1v2.8h-2.1zM504 190.8h2.1v2.8h-2.1zM508 190.8h2.1v2.8h-2.1zM260 193.4h2.1v2.7h-2.1zM406 193.4h2.1v2.7h-2.1zM442 193.4h2.1v2.7h-2.1zM504 193.4h2.1v2.7h-2.1zM508 193.4h2.1v2.7h-2.1zM260 195.9h2.1v2.8h-2.1zM406 195.9h2.1v2.8h-2.1zM442 195.9h2.1v2.8h-2.1zM504 195.9h2.1v2.8h-2.1zM508 195.9h2.1v2.8h-2.1zM260 198.5h2.1v2.7h-2.1zM406 198.5h2.1v2.7h-2.1zM442 198.5h2.1v2.7h-2.1zM504 198.5h2.1v2.7h-2.1zM508 198.5h2.1v2.7h-2.1zM376 201h2.1v19.2h-2.1zM440 201h2.1v19.2h-2.1zM468 201h2.1v19.2h-2.1zM576 201h2.1v19.2h-2.1zM234 220h2.1v17.4h-2.1zM278 220h2.1v17.4h-2.1zM388 220h4.1v17.4h-4.1zM442 220h2.1v17.4h-2.1zM510 220h2.1v17.4h-2.1zM554 220h2.1v17.4h-2.1zM584 220h2.1v17.4h-2.1z"/>
<path fill="rgb(150,150,150)" d="M316 84.2h2.1v28.0h-2.1zM236 112h2.1v4.7h-2.1zM258 112h2.1v4.7h-2.1zM276 112h2.1v4.7h-2.1zM284 112h2.1v4.7h-2.1zM328 112h2.1v4.7h-2.1zM364 112h2.1v4.7h-2.1zM370 112h2.1v4.7h-2.1zM422 112h2.1v4.7h-2.1zM480 112h2.1v4.7h-2.1zM602 116.5h2.1v14.7h-2.1zM344 131h2.1v14.2h-2.1zM456 131h2.1v14.2h-2.1zM324 145h2.1v2.7h-2.1zM324 147.5h2.1v2.8h-2.1zM324 150.1h2.1v2.7h-2.1zM324 152.6h2.1v2.8h-2.1zM324 155.2h2.1v2.7h-2.1zM324 157.7h2.1v2.8h-2.1zM324 160.3h2.1v2.7h-2.1zM324 162.8h2.1v2.8h-2.1zM324 165.4h2.1v2.7h-2.1zM252 201h2.1v19.2h-2.1zM454 201h2.1v19.2h-2.1zM560 201h2.1v19.2h-2.1zM582 201h2.1v19.2h-2.1zM238 220h2.1v17.4h-2.1zM404 220h4.1v17.4h-4.1zM548 220h4.1v17.4h-4.1z"/>
<path fill="rgb(156,156,156)" d="M334 84.2h2.1v28.0h-2.1zM338 84.2h2.1v28.0h-2.1zM244 112h2.1v4.7h-2.1zM318 112h2.1v4.7h-2.1zM402 112h2.1v4.7h-2.1zM450 112h2.1v4.7h-2.1zM470 112h2.1v4.7h-2.1zM262 131h2.1v14.2h-2.1zM298 131h2.1v14.2h-2.1zM594 131h2.1v14.2h-2.1zM494 201h2.1v19.2h-2.1zM230 220h2.1v17.4h-2.1zM288 220h2.1v17.4h-2.1z"/>
<path fill="rgb(162,162,162)" d="M250 112h2.1v4.7h-2.1zM262 112h2.1v4.7h-2.1zM304 112h2.1v4.7h-2.1zM320 112h2.1v4.7h-2.1zM348 112h2.1v4.7h-2.1zM290 116.5h2.1v14.7h-2.1zM254 131h4.1v14.2h-4.1zM334 131h2.1v14.2h-2.1zM312 201h2.1v19.2h-2.1zM240 220h2.1v17.4h-2.1zM290 220h2.1v17.4h-2.1z"/>
<path fill="rgb(168,168,168)" d="M336 84.2h2.1v28.0h-2.1zM342 84.2h2.1v28.0h-2.1zM278 112h2.1v4.7h-2.1zM352 112h2.1v4.7h-2.1zM260 116.5h2.1v14.7h-2.1zM288 116.5h2.1v14.7h-2.1zM590 131h2.1v14.2h-2.1zM264 145h2.1v2.7h-2.1zM268 145h2.1v2.7h-2.1zM272 145h2.1v2.7h-2.1zM312 145h2.1v2.7h-2.1zM326 145h2.1v2.7h-2.1zM362 145h2.1v2.7h-2.1zM366 145h2.1v2.7h-2.1zM506 145h2.1v2.7h-2.1zM590 145h2.1v2.7h-2.1zM264 147.5h2.1v2.8h-2.1zM268 147.5h2.1v2.8h-2.1zM272 147.5h2.1v2.8h-2.1zM312 147.5h2.1v2.8h-2.1zM326 147.5h2.1v2.8h-2.1zM362 147.5h2.1v2.8h-2.1zM366 147.5h2.1v2.8h-2.1zM506 147.5h2.1v2.8h-2.1zM590 147.5h2.1v2.8h-2.1zM264 150.1h2.1v2.7h-2.1zM268 150.1h2.1v2.7h-2.1zM272 150.1h2.1v2.7h-2.1zM312 150.1h2.1v2.7h-2.1zM326 150.1h2.1v2.7h-2.1zM362 150.1h2.1v2.7h-2.1zM366 150.1h2.1v2.7h-2.1zM506 150.1h2.1v2.7h-2.1zM590 150.1h2.1v2.7h-2.1zM264 152.6h2.1v2.8h-2.1zM268 152.6h2.1v2.8h-2.1zM272 152.6h2.1v2.8h-2.1zM312 152.6h2.1v2.8h-2.1zM326 152.6h2.1v2.8h-2.1zM362 152.6h2.1v2.8h-2.1zM366 152.6h2.1v2.8h-2.1zM506 152.6h2.1v2.8h-2.1zM590 152.6h2.1v2.8h-2.1zM264 155.2h2.1v2.7h-2.1zM268 155.2h2.1v2.7h-2.1zM272 155.2h2.1v2.7h-2.1zM312 155.2h2.1v2.7h-2.1zM326 155.2h2.1v2.7h-2.1zM362 155.2h2.1v2.7h-2.1zM366 155.2h2.1v2.7h-2.1zM506 155.2h2.1v2.7h-2.1zM590 155.2h2.1v2.7h-2.1zM264 157.7h2.1v2.8h-2.1zM268 157.7h2.1v2.8h-2.1zM272 157.7h2.1v2.8h-2.1zM312 157.7h2.1v2.8h-2.1zM326 157.7h2.1v2.8h-2.1zM362 157.7h2.1v2.8h-2.1zM366 157.7h2.1v2.8h-2.1zM506 157.7h2.1v2.8h-2.1zM590 157.7h2.1v2.8h-2.1zM264 160.3h2.1v2.7h-2.1zM268 160.3h2.1v2.7h-2.1zM272 160.3h2.1v2.7h-2.1zM312 160.3h2.1v2.7h-2.1zM362 160.3h2.1v2.7h-2.1zM366 160.3h2.1v2.7h-2.1zM506 160.3h2.1v2.7h-2.1zM590 160.3h2.1v2.7h-2.1zM264 162.8h2.1v2.8h-2.1zM268 162.8h2.1v2.8h-2.1zM272 162.8h2.1v2.8h-2.1zM312 162.8h2.1v2.8h-2.1zM362 162.8h2.1v2.8h-2.1zM366 162.8h2.1v2.8h-2.1zM506 162.8h2.1v2.8h-2.1zM264 165.4h2.1v2.7h-2.1zM268 165.4h2.1v2.7h-2.1zM272 165.4h2.1v2.7h-2.1zM312 165.4h2.1v2.7h-2.1zM362 165.4h2.1v2.7h-2.1zM506 165.4h2.1v2.7h-2.1zM264 167.9h2.1v2.8h-2.1zM268 167.9h2.1v2.8h-2.1zM272 167.9h2.1v2.8h-2.1zM312 167.9h2.1v2.8h-2.1zM362 167.9h2.1v2.8h-2.1zM506 167.9h2.1v2.8h-2.1zM264 170.5h2.1v2.7h-2.1zM268 170.5h2.1v2.7h-2.1zM272 170.5h2.1v2.7h-2.1zM312 170.5h2.1v2.7h-2.1zM362 170.5h2.1v2.7h-2.1zM506 170.5h2.1v2.7h-2.1zM264 173h2.1v2.7h-2.1zM268 173h2.1v2.7h-2.1zM272 173h2.1v2.7h-2.1zM312 173h2.1v2.7h-2.1zM362 173h2.1v2.7h-2.1zM506 173h2.1v2.7h-2.1zM264 175.5h2.1v2.8h-2.1zM268 175.5h2.1v2.8h-2.1zM272 175.5h2.1v2.8h-2.1zM312 175.5h2.1v2.8h-2.1zM362 175.5h2.1v2.8h-2.1zM506 175.5h2.1v2.8h-2.1zM264 178.1h2.1v2.7h-2.1zM268 178.1h2.1v2.7h-2.1zM272 178.1h2.1v2.7h-2.1zM312 178.1h2.1v2.7h-2.1zM362 178.1h2.1v2.7h-2.1zM506 178.1h2.1v2.7h-2.1zM264 180.6h2.1v2.8h-2.1zM268 180.6h2.1v2.8h-2.1zM272 180.6h2.1v2.8h-2.1zM312 180.6h2.1v2.8h-2.1zM362 180.6h2.1v2.8h-2.1zM506 180.6h2.1v2.8h-2.1zM264 183.2h2.1v2.7h-2.1zM268 183.2h2.1v2.7h-2.1zM272 183.2h2.1v2.7h-2.1zM312 183.2h2.1v2.7h-2.1zM362 183.2h2.1v2.7h-2.1zM506 183.2h2.1v2.7h-2.1zM264 185.7h2.1v2.8h-2.1zM268 185.7h2.1v2.8h-2.1zM272 185.7h2.1v2.8h-2.1zM312 185.7h2.1v2.8h-2.1zM362 185.7h2.1v2.8h-2.1zM506 185.7h2.1v2.8h-2.1zM264 188.3h2.1v2.7h-2.1zM268 188.3h2.1v2.7h-2.1zM272 188.3h2.1v2.7h-2.1zM312 188.3h2.1v2.7h-2.1zM362 188.3h2.1v2.7h-2.1zM506 188.3h2.1v2.7h-2.1zM264 190.8h2.1v2.8h-2.1zM268 190.8h2.1v2.8h-2.1zM272 190.8h2.1v2.8h-2.1zM312 190.8h2.1v2.8h-2.1zM362 190.8h2.1v2.8h-2.1zM506 190.8h2.1v2.8h-2.1zM264 193.4h2.1v2.7h-2.1zM268 193.4h2.1v2.7h-2.1zM272 193.4h2.1v2.7h-2.1zM312 193.4h2.1v2.7h-2.1zM506 193.4h2.1v2.7h-2.1zM264 195.9h2.1v2.8h-2.1zM268 195.9h2.1v2.8h-2.1zM272 195.9h2.1v2.8h-2.1zM312 195.9h2.1v2.8h-2.1zM506 195.9h2.1v2.8h-2.1zM264 198.5h2.1v2.7h-2.1zM268 198.5h2.1v2.7h-2.1zM272 198.5h2.1v2.7h-2.1zM312 198.5h2.1v2.7h-2.1zM506 198.5h2.1v2.7h-2.1zM412 201h2.1v19.2h-2.1zM236 220h2.1v17.4h-2.1zM242 220h2.1v17.4h-2.1z"/>
<path fill="rgb(174,174,174)" d="M232 112h2.1v4.7h-2.1zM266 112h2.1v4.7h-2.1zM528 112h2.1v4.7h-2.1zM268 116.5h4.1v14.7h-4.1zM252 131h2.1v14.2h-2.1zM282 131h2.1v14.2h-2.1zM326 131h2.1v14.2h-2.1zM266 145h2.1v2.7h-2.1zM316 145h2.1v2.7h-2.1zM354 145h2.1v2.7h-2.1zM368 145h2.1v2.7h-2.1zM594 145h2.1v2.7h-2.1zM266 147.5h2.1v2.8h-2.1zM316 147.5h2.1v2.8h-2.1zM354 147.5h2.1v2.8h-2.1zM368 147.5h2.1v2.8h-2.1zM594 147.5h2.1v2.8h-2.1zM266 150.1h2.1v2.7h-2.1zM316 150.1h2.1v2.7h-2.1zM354 150.1h2.1v2.7h-2.1zM368 150.1h2.1v2.7h-2.1zM594 150.1h2.1v2.7h-2.1zM266 152.6h2.1v2.8h-2.1zM316 152.6h2.1v2.8h-2.1zM354 152.6h2.1v2.8h-2.1zM594 152.6h2.1v2.8h-2.1zM266 155.2h2.1v2.7h-2.1zM316 155.2h2.1v2.7h-2.1zM354 155.2h2.1v2.7h-2.1zM594 155.2h2.1v2.7h-2.1zM266 157.7h2.1v2.8h-2.1zM316 157.7h2.1v2.8h-2.1zM354 157.7h2.1v2.8h-2.1zM594 157.7h2.1v2.8h-2.1zM266 160.3h2.1v2.7h-2.1zM316 160.3h2.1v2.7h-2.1zM354 160.3h2.1v2.7h-2.1zM594 160.3h2.1v2.7h-2.1zM266 162.8h2.1v2.8h-2.1zM316 162.8h2.1v2.8h-2.1zM354 162.8h2.1v2.8h-2.1zM266 165.4h2.1v2.7h-2.1zM316 165.4h2.1v2.7h-2.1zM354 165.4h2.1v2.7h-2.1zM266 167.9h2.1v2.8h-2.1zM316 167.9h2.1v2.8h-2.1zM354 167.9h2.1v2.8h-2.1zM266 170.5h2.1v2.7h-2.1zM316 170.5h2.1v2.7h-2.1zM354 170.5h2.1v2.7h-2.1zM266 173h2.1v2.7h-2.1zM316 173h2.1v2.7h-2.1zM354 173h2.1v2.7h-2.1zM266 175.5h2.1v2.8h-2.1zM316 175.5h2.1v2.8h-2.1zM354 175.5h2.1v2.8h-2.1zM266 178.1h2.1v2.7h-2.1zM316 178.1h2.1v2.7h-2.1zM354 178.1h2.1v2.7h-2.1zM266 180.6h2.1v2.8h-2.1zM316 180.6h2.1v2.8h-2.1zM354 180.6h2.1v2.8h-2.1zM266 183.2h2.1v2.7h-2.1zM316 183.2h2.1v2.7h-2.1zM354 183.2h2.1v2.7h-2.1zM266 185.7h2.1v2.8h-2.1zM316 185.7h2.1v2.8h-2.1zM354 185.7h2.1v2.8h-2.1zM266 188.3h2.1v2.7h-2.1zM316 188.3h2.1v2.7h-2.1zM354 188.3h2.1v2.7h-2.1zM266 190.8h2.1v2.8h-2.1zM316 190.8h2.1v2.8h-2.1zM354 190.8h2.1v2.8h-2.1zM266 193.4h2.1v2.7h-2.1zM316 193.4h2.1v2.7h-2.1zM354 193.4h2.1v2.7h-2.1zM266 195.9h2.1v2.8h-2.1zM316 195.9h2.1v2.8h-2.1zM354 195.9h2.1v2.8h-2.1zM266 198.5h2.1v2.7h-2.1zM316 198.5h2.1v2.7h-2.1zM354 198.5h2.1v2.7h-2.1zM248 201h2.1v19.2h-2.1zM508 201h2.1v19.2h-2.1zM354 220h2.1v17.4h-2.1zM384 220h2.1v17.4h-2.1zM402 220h2.1v17.4h-2.1zM508 220h2.1v17.4h-2.1z"/>
<path fill="rgb(180,180,180)" d="M282 84.2h2.1v28.0h-2.1zM288 84.2h2.1v28.0h-2.1zM496 84.2h2.1v28.0h-2.1zM244 131h2.1v14.2h-2.1zM258 131h2.1v14.2h-2.1zM336 131h2.1v14.2h-2.1zM306 145h2.1v2.7h-2.1zM310 145h2.1v2.7h-2.1zM360 145h2.1v2.7h-2.1zM306 147.5h2.1v2.8h-2.1zM310 147.5h2.1v2.8h-2.1zM360 147.5h2.1v2.8h-2.1zM306 150.1h2.1v2.7h-2.1zM310 150.1h2.1v2.7h-2.1zM360 150.1h2.1v2.7h-2.1zM306 152.6h2.1v2.8h-2.1zM310 152.6h2.1v2.8h-2.1zM360 152.6h2.1v2.8h-2.1zM306 155.2h2.1v2.7h-2.1zM310 155.2h2.1v2.7h-2.1zM360 155.2h2.1v2.7h-2.1zM306 157.7h2.1v2.8h-2.1zM310 157.7h2.1v2.8h-2.1zM360 157.7h2.1v2.8h-2.1zM306 160.3h2.1v2.7h-2.1zM310 160.3h2.1v2.7h-2.1zM360 160.3h2.1v2.7h-2.1zM306 162.8h2.1v2.8h-2.1zM310 162.8h2.1v2.8h-2.1zM360 162.8h2.1v2.8h-2.1zM306 165.4h2.1v2.7h-2.1zM310 165.4h2.1v2.7h-2.1zM360 165.4h2.1v2.7h-2.1zM306 167.9h2.1v2.8h-2.1zM310 167.9h2.1v2.8h-2.1zM360 167.9h2.1v2.8h-2.1zM306 170.5h2.1v2.7h-2.1zM310 170.5h2.1v2.7h-2.1zM360 170.5h2.1v2.7h-2.1zM306 173h2.1v2.7h-2.1zM310 173h2.1v2.7h-2.1zM360 173h2.1v2.7h-2.1zM306 175.5h2.1v2.8h-2.1zM310 175.5h2.1v2.8h-2.1zM360 175.5h2.1v2.8h-2.1zM306 178.1h2.1v2.7h-2.1zM310 178.1h2.1v2.7h-2.1zM360 178.1h2.1v2.7h-2.1zM306 180.6h2.1v2.8h-2.1zM310 180.6h2.1v2.8h-2.1zM360 180.6h2.1v2.8h-2.1zM306 183.2h2.1v2.7h-2.1zM310 183.2h2.1v2.7h-2.1zM360 183.2h2.1v2.7h-2.1zM306 185.7h2.1v2.8h-2.1zM310 185.7h2.1v2.8h-2.1zM360 185.7h2.1v2.8h-2.1zM306 188.3h2.1v2.7h-2.1zM310 188.3h2.1v2.7h-2.1zM360 188.3h2.1v2.7h-2.1zM306 190.8h2.1v2.8h-2.1zM310 190.8h2.1v2.8h-2.1zM360 190.8h2.1v2.8h-2.1zM306 193.4h2.1v2.7h-2.1zM310 193.4h2.1v2.7h-2.1zM360 193.4h2.1v2.7h-2.1zM306 195.9h2.1v2.8h-2.1zM310 195.9h2.1v2.8h-2.1zM360 195.9h2.1v2.8h-2.1zM306 198.5h2.1v2.7h-2.1zM310 198.5h2.1v2.7h-2.1zM360 198.5h2.1v2.7h-2.1zM286 201h2.1v19.2h-2.1zM304 201h2.1v19.2h-2.1zM350 201h2.1v19.2h-2.1zM300 220h2.1v17.4h-2.1z"/>
<path fill="rgb(186,186,186)" d="M292 84.2h2.1v28.0h-2.1zM594 116.5h2.1v14.7h-2.1zM592 131h2.1v14.2h-2.1zM274 145h4.1v2.7h-4.1zM314 145h2.1v2.7h-2.1zM350 145h2.1v2.7h-2.1zM356 145h2.1v2.7h-2.1zM274 147.5h4.1v2.8h-4.1zM314 147.5h2.1v2.8h-2.1zM350 147.5h2.1v2.8h-2.1zM356 147.5h2.1v2.8h-2.1zM274 150.1h4.1v2.7h-4.1zM314 150.1h2.1v2.7h-2.1zM350 150.1h2.1v2.7h-2.1zM356 150.1h2.1v2.7h-2.1zM274 152.6h4.1v2.8h-4.1zM314 152.6h2.1v2.8h-2.1zM350 152.6h2.1v2.8h-2.1zM356 152.6h2.1v2.8h-2.1zM274 155.2h4.1v2.7h-4.1zM314 155.2h2.1v2.7h-2.1zM350 155.2h2.1v2.7h-2.1zM356 155.2h2.1v2.7h-2.1zM274 157.7h4.1v2.8h-4.1zM314 157.7h2.1v2.8h-2.1zM350 157.7h2.1v2.8h-2.1zM356 157.7h2.1v2.8h-2.1zM274 160.3h4.1v2.7h-4.1zM314 160.3h2.1v2.7h-2.1zM350 160.3h2.1v2.7h-2.1zM356 160.3h2.1v2.7h-2.1zM274 162.8h4.1v2.8h-4.1zM314 162.8h2.1v2.8h-2.1zM342 162.8h2.1v2.8h-2.1zM350 162.8h2.1v2.8h-2.1zM356 162.8h2.1v2.8h-2.1zM274 165.4h4.1v2.7h-4.1zM314 165.4h2.1v2.7h-2.1zM342 165.4h2.1v2.7h-2.1zM350 165.4h2.1v2.7h-2.1zM356 165.4h2.1v2.7h-2.1zM274 167.9h4.1v2.8h-4.1zM314 167.9h2.1v2.8h-2.1zM342 167.9h2.1v2.8h-2.1zM350 167.9h2.1v2.8h-2.1zM356 167.9h2.1v2.8h-2.1zM274 170.5h4.1v2.7h-4.1zM314 170.5h2.1v2.7h-2.1zM342 170.5h2.1v2.7h-2.1zM350 170.5h2.1v2.7h-2.1zM356 170.5h2.1v2.7h-2.1zM274 173h4.1v2.7h-4.1zM314 173h2.1v2.7h-2.1zM342 173h2.1v2.7h-2.1zM350 173h2.1v2.7h-2.1zM356 173h2.1v2.7h-2.1zM274 175.5h4.1v2.8h-4.1zM314 175.5h2.1v2.8h-2.1zM342 175.5h2.1v2.8h-2.1zM350 175.5h2.1v2.8h-2.1zM356 175.5h2.1v2.8h-2.1zM274 178.1h4.1v2.7h-4.1zM314 178.1h2.1v2.7h-2.1zM342 178.1h2.1v2.7h-2.1zM350 178.1h2.1v2.7h-2.1zM356 178.1h2.1v2.7h-2.1zM274 180.6h4.1v2.8h-4.1zM314 180.6h2.1v2.8h-2.1zM342 180.6h2.1v2.8h-2.1zM350 180.6h2.1v2.8h-2.1zM356 180.6h2.1v2.8h-2.1zM274 183.2h4.1v2.7h-4.1zM314 183.2h2.1v2.7h-2.1zM342 183.2h2.1v2.7h-2.1zM350 183.2h2.1v2.7h-2.1zM356 183.2h2.1v2.7h-2.1zM274 185.7h4.1v2.8h-4.1zM314 185.7h2.1v2.8h-2.1zM342 185.7h2.1v2.8h-2.1zM350 185.7h2.1v2.8h-2.1zM356 185.7h2.1v2.8h-2.1zM274 188.3h4.1v2.7h-4.1zM314 188.3h2.1v2.7h-2.1zM342 188.3h2.1v2.7h-2.1zM350 188.3h2.1v2.7h-2.1zM356 188.3h2.1v2.7h-2.1zM274 190.8h4.1v2.8h-4.1zM314 190.8h2.1v2.8h-2.1zM342 190.8h2.1v2.8h-2.1zM350 190.8h2.1v2.8h-2.1zM356 190.8h2.1v2.8h-2.1zM274 193.4h4.1v2.7h-4.1zM314 193.4h2.1v2.7h-2.1zM342 193.4h2.1v2.7h-2.1zM350 193.4h2.1v2.7h-2.1zM356 193.4h2.1v2.7h-2.1zM274 195.9h4.1v2.8h-4.1zM314 195.9h2.1v2.8h-2.1zM342 195.9h2.1v2.8h-2.1zM350 195.9h2.1v2.8h-2.1zM356 195.9h2.1v2.8h-2.1zM274 198.5h4.1v2.7h-4.1zM314 198.5h2.1v2.7h-2.1zM342 198.5h2.1v2.7h-2.1zM350 198.5h2.1v2.7h-2.1zM356 198.5h2.1v2.7h-2.1zM296 201h4.1v19.2h-4.1zM354 201h2.1v19.2h-2.1zM228 220h2.1v17.4h-2.1zM294 220h2.1v17.4h-2.1z"/>
<path fill="rgb(192,192,192)" d="M338 112h2.1v4.7h-2.1zM318 116.5h2.1v14.7h-2.1zM590 116.5h2.1v14.7h-2.1zM248 131h2.1v14.2h-2.1zM322 131h2.1v14.2h-2.1zM338 131h2.1v14.2h-2.1zM270 145h2.1v2.7h-2.1zM304 145h2.1v2.7h-2.1zM318 145h2.1v2.7h-2.1zM358 145h2.1v2.7h-2.1zM592 145h2.1v2.7h-2.1zM596 145h2.1v2.7h-2.1zM270 147.5h2.1v2.8h-2.1zM304 147.5h2.1v2.8h-2.1zM318 147.5h2.1v2.8h-2.1zM358 147.5h2.1v2.8h-2.1zM592 147.5h2.1v2.8h-2.1zM596 147.5h2.1v2.8h-2.1zM270 150.1h2.1v2.7h-2.1zM304 150.1h2.1v2.7h-2.1zM318 150.1h2.1v2.7h-2.1zM358 150.1h2.1v2.7h-2.1zM592 150.1h2.1v2.7h-2.1zM596 150.1h2.1v2.7h-2.1zM270 152.6h2.1v2.8h-2.1zM304 152.6h2.1v2.8h-2.1zM318 152.6h2.1v2.8h-2.1zM358 152.6h2.1v2.8h-2.1zM592 152.6h2.1v2.8h-2.1zM596 152.6h2.1v2.8h-2.1zM270 155.2h2.1v2.7h-2.1zM304 155.2h2.1v2.7h-2.1zM318 155.2h2.1v2.7h-2.1zM358 155.2h2.1v2.7h-2.1zM592 155.2h2.1v2.7h-2.1zM596 155.2h2.1v2.7h-2.1zM270 157.7h2.1v2.8h-2.1zM304 157.7h2.1v2.8h-2.1zM318 157.7h2.1v2.8h-2.1zM358 157.7h2.1v2.8h-2.1zM592 157.7h2.1v2.8h-2.1zM596 157.7h2.1v2.8h-2.1zM270 160.3h2.1v2.7h-2.1zM304 160.3h2.1v2.7h-2.1zM318 160.3h2.1v2.7h-2.1zM358 160.3h2.1v2.7h-2.1zM592 160.3h2.1v2.7h-2.1zM596 160.3h2.1v2.7h-2.1zM270 162.8h2.1v2.8h-2.1zM304 162.8h2.1v2.8h-2.1zM318 162.8h2.1v2.8h-2.1zM358 162.8h2.1v2.8h-2.1zM270 165.4h2.1v2.7h-2.1zM304 165.4h2.1v2.7h-2.1zM318 165.4h2.1v2.7h-2.1zM358 165.4h2.1v2.7h-2.1zM270 167.9h2.1v2.8h-2.1zM304 167.9h2.1v2.8h-2.1zM318 167.9h2.1v2.8h-2.1zM358 167.9h2.1v2.8h-2.1zM270 170.5h2.1v2.7h-2.1zM304 170.5h2.1v2.7h-2.1zM318 170.5h2.1v2.7h-2.1zM358 170.5h2.1v2.7h-2.1zM270 173h2.1v2.7h-2.1zM304 173h2.1v2.7h-2.1zM318 173h2.1v2.7h-2.1zM358 173h2.1v2.7h-2.1zM270 175.5h2.1v2.8h-2.1zM304 175.5h2.1v2.8h-2.1zM318 175.5h2.1v2.8h-2.1zM358 175.5h2.1v2.8h-2.1zM270 178.1h2.1v2.7h-2.1zM304 178.1h2.1v2.7h-2.1zM318 178.1h2.1v2.7h-2.1zM358 178.1h2.1v2.7h-2.1zM270 180.6h2.1v2.8h-2.1zM304 180.6h2.1v2.8h-2.1zM318 180.6h2.1v2.8h-2.1zM358 180.6h2.1v2.8h-2.1zM270 183.2h2.1v2.7h-2.1zM304 183.2h2.1v2.7h-2.1zM318 183.2h2.1v2.7h-2.1zM358 183.2h2.1v2.7h-2.1zM270 185.7h2.1v2.8h-2.1zM304 185.7h2.1v2.8h-2.1zM318 185.7h2.1v2.8h-2.1zM358 185.7h2.1v2.8h-2.1zM270 188.3h2.1v2.7h-2.1zM304 188.3h2.1v2.7h-2.1zM318 188.3h2.1v2.7h-2.1zM358 188.3h2.1v2.7h-2.1zM270 190.8h2.1v2.8h-2.1zM304 190.8h2.1v2.8h-2.1zM318 190.8h2.1v2.8h-2.1zM358 190.8h2.1v2.8h-2.1zM270 193.4h2.1v2.7h-2.1zM304 193.4h2.1v2.7h-2.1zM318 193.4h2.1v2.7h-2.1zM358 193.4h2.1v2.7h-2.1zM270 195.9h2.1v2.8h-2.1zM304 195.9h2.1v2.8h-2.1zM318 195.9h2.1v2.8h-2.1zM358 195.9h2.1v2.8h-2.1zM270 198.5h2.1v2.7h-2.1zM304 198.5h2.1v2.7h-2.1zM358 198.5h2.1v2.7h-2.1zM250 201h2.1v19.2h-2.1zM288 201h2.1v19.2h-2.1zM300 201h4.1v19.2h-4.1zM298 220h2.1v17.4h-2.1z"/>
<path fill="rgb(198,198,198)" d="M498 84.2h2.1v28.0h-2.1zM502 84.2h2.1v28.0h-2.1zM592 116.5h2.1v14.7h-2.1zM246 131h2.1v14.2h-2.1zM320 131h2.1v14.2h-2.1zM340 131h2.1v14.2h-2.1zM586 145h4.1v2.7h-4.1zM600 145h2.1v2.7h-2.1zM586 147.5h4.1v2.8h-4.1zM600 147.5h2.1v2.8h-2.1zM586 150.1h4.1v2.7h-4.1zM600 150.1h2.1v2.7h-2.1zM586 152.6h4.1v2.8h-4.1zM600 152.6h2.1v2.8h-2.1zM586 155.2h4.1v2.7h-4.1zM600 155.2h2.1v2.7h-2.1zM586 157.7h4.1v2.8h-4.1zM600 157.7h2.1v2.8h-2.1zM586 160.3h4.1v2.7h-4.1zM600 160.3h2.1v2.7h-2.1zM336 190.8h2.1v2.8h-2.1zM336 193.4h2.1v2.7h-2.1zM336 195.9h2.1v2.8h-2.1zM336 198.5h2.1v2.7h-2.1zM284 201h2.1v19.2h-2.1zM346 201h2.1v19.2h-2.1zM292 220h2.1v17.4h-2.1zM346 220h2.1v17.4h-2.1z"/>
<path fill="rgb(204,204,204)" d="M506 84.2h2.1v28.0h-2.1zM320 116.5h2.1v14.7h-2.1zM336 116.5h2.1v14.7h-2.1zM588 116.5h2.1v14.7h-2.1zM602 131h2.1v14.2h-2.1zM246 145h2.1v2.7h-2.1zM300 145h2.1v2.7h-2.1zM320 145h4.1v2.7h-4.1zM328 145h2.1v2.7h-2.1zM346 145h4.1v2.7h-4.1zM602 145h2.1v2.7h-2.1zM246 147.5h2.1v2.8h-2.1zM300 147.5h2.1v2.8h-2.1zM320 147.5h4.1v2.8h-4.1zM328 147.5h2.1v2.8h-2.1zM346 147.5h4.1v2.8h-4.1zM602 147.5h2.1v2.8h-2.1zM246 150.1h2.1v2.7h-2.1zM300 150.1h2.1v2.7h-2.1zM320 150.1h4.1v2.7h-4.1zM346 150.1h4.1v2.7h-4.1zM602 150.1h2.1v2.7h-2.1zM246 152.6h2.1v2.8h-2.1zM300 152.6h2.1v2.8h-2.1zM320 152.6h4.1v2.8h-4.1zM344 152.6h6.1v2.8h-6.1zM602 152.6h2.1v2.8h-2.1zM246 155.2h2.1v2.7h-2.1zM300 155.2h2.1v2.7h-2.1zM320 155.2h4.1v2.7h-4.1zM344 155.2h6.1v2.7h-6.1zM602 155.2h2.1v2.7h-2.1zM246 157.7h2.1v2.8h-2.1zM300 157.7h2.1v2.8h-2.1zM320 157.7h4.1v2.8h-4.1zM344 157.7h6.1v2.8h-6.1zM602 157.7h2.1v2.8h-2.1zM246 160.3h2.1v2.7h-2.1zM300 160.3h2.1v2.7h-2.1zM320 160.3h4.1v2.7h-4.1zM344 160.3h6.1v2.7h-6.1zM602 160.3h2.1v2.7h-2.1zM246 162.8h2.1v2.8h-2.1zM300 162.8h2.1v2.8h-2.1zM320 162.8h4.1v2.8h-4.1zM344 162.8h6.1v2.8h-6.1zM246 165.4h2.1v2.7h-2.1zM300 165.4h2.1v2.7h-2.1zM320 165.4h4.1v2.7h-4.1zM344 165.4h6.1v2.7h-6.1zM246 167.9h2.1v2.8h-2.1zM300 167.9h2.1v2.8h-2.1zM320 167.9h4.1v2.8h-4.1zM344 167.9h6.1v2.8h-6.1zM246 170.5h2.1v2.7h-2.1zM300 170.5h2.1v2.7h-2.1zM320 170.5h4.1v2.7h-4.1zM344 170.5h6.1v2.7h-6.1zM246 173h2.1v2.7h-2.1zM300 173h2.1v2.7h-2.1zM320 173h4.1v2.7h-4.1zM344 173h6.1v2.7h-6.1zM246 175.5h2.1v2.8h-2.1zM300 175.5h2.1v2.8h-2.1zM320 175.5h4.1v2.8h-4.1zM344 175.5h6.1v2.8h-6.1zM246 178.1h2.1v2.7h-2.1zM300 178.1h2.1v2.7h-2.1zM320 178.1h2.1v2.7h-2.1zM344 178.1h6.1v2.7h-6.1zM246 180.6h2.1v2.8h-2.1zM300 180.6h2.1v2.8h-2.1zM320 180.6h2.1v2.8h-2.1zM344 180.6h6.1v2.8h-6.1zM246 183.2h2.1v2.7h-2.1zM300 183.2h2.1v2.7h-2.1zM320 183.2h2.1v2.7h-2.1zM344 183.2h6.1v2.7h-6.1zM246 185.7h2.1v2.8h-2.1zM300 185.7h2.1v2.8h-2.1zM320 185.7h2.1v2.8h-2.1zM344 185.7h6.1v2.8h-6.1zM246 188.3h2.1v2.7h-2.1zM300 188.3h2.1v2.7h-2.1zM344 188.3h6.1v2.7h-6.1zM246 190.8h2.1v2.8h-2.1zM300 190.8h2.1v2.8h-2.1zM344 190.8h6.1v2.8h-6.1zM246 193.4h2.1v2.7h-2.1zM300 193.4h2.1v2.7h-2.1zM344 193.4h6.1v2.7h-6.1zM246 195.9h2.1v2.8h-2.1zM300 195.9h2.1v2.8h-2.1zM344 195.9h6.1v2.8h-6.1zM246 198.5h2.1v2.7h-2.1zM300 198.5h2.1v2.7h-2.1zM344 198.5h6.1v2.7h-6.1zM348 220h4.1v17.4h-4.1zM356 220h2.1v17.4h-2.1z"/>
<path fill="rgb(210,210,210)" d="M286 84.2h2.1v28.0h-2.1zM504 84.2h2.1v28.0h-2.1zM250 131h2.1v14.2h-2.1zM284 131h2.1v14.2h-2.1zM588 131h2.1v14.2h-2.1zM244 145h2.1v2.7h-2.1zM254 145h2.1v2.7h-2.1zM308 145h2.1v2.7h-2.1zM352 145h2.1v2.7h-2.1zM364 145h2.1v2.7h-2.1zM598 145h2.1v2.7h-2.1zM244 147.5h2.1v2.8h-2.1zM254 147.5h2.1v2.8h-2.1zM308 147.5h2.1v2.8h-2.1zM352 147.5h2.1v2.8h-2.1zM364 147.5h2.1v2.8h-2.1zM598 147.5h2.1v2.8h-2.1zM244 150.1h2.1v2.7h-2.1zM254 150.1h2.1v2.7h-2.1zM308 150.1h2.1v2.7h-2.1zM352 150.1h2.1v2.7h-2.1zM364 150.1h2.1v2.7h-2.1zM598 150.1h2.1v2.7h-2.1zM244 152.6h2.1v2.8h-2.1zM254 152.6h2.1v2.8h-2.1zM308 152.6h2.1v2.8h-2.1zM352 152.6h2.1v2.8h-2.1zM364 152.6h2.1v2.8h-2.1zM598 152.6h2.1v2.8h-2.1zM244 155.2h2.1v2.7h-2.1zM254 155.2h2.1v2.7h-2.1zM308 155.2h2.1v2.7h-2.1zM352 155.2h2.1v2.7h-2.1zM364 155.2h2.1v2.7h-2.1zM598 155.2h2.1v2.7h-2.1zM244 157.7h2.1v2.8h-2.1zM254 157.7h2.1v2.8h-2.1zM308 157.7h2.1v2.8h-2.1zM352 157.7h2.1v2.8h-2.1zM364 157.7h2.1v2.8h-2.1zM598 157.7h2.1v2.8h-2.1zM244 160.3h2.1v2.7h-2.1zM254 160.3h2.1v2.7h-2.1zM308 160.3h2.1v2.7h-2.1zM352 160.3h2.1v2.7h-2.1zM364 160.3h2.1v2.7h-2.1zM598 160.3h2.1v2.7h-2.1zM244 162.8h2.1v2.8h-2.1zM254 162.8h2.1v2.8h-2.1zM308 162.8h2.1v2.8h-2.1zM352 162.8h2.1v2.8h-2.1zM364 162.8h2.1v2.8h-2.1zM244 165.4h2.1v2.7h-2.1zM254 165.4h2.1v2.7h-2.1zM308 165.4h2.1v2.7h-2.1zM352 165.4h2.1v2.7h-2.1zM364 165.4h2.1v2.7h-2.1zM244 167.9h2.1v2.8h-2.1zM254 167.9h2.1v2.8h-2.1zM308 167.9h2.1v2.8h-2.1zM352 167.9h2.1v2.8h-2.1zM364 167.9h2.1v2.8h-2.1zM244 170.5h2.1v2.7h-2.1zM254 170.5h2.1v2.7h-2.1zM308 170.5h2.1v2.7h-2.1zM340 170.5h2.1v2.7h-2.1zM352 170.5h2.1v2.7h-2.1zM364 170.5h2.1v2.7h-2.1zM244 173h2.1v2.7h-2.1zM254 173h2.1v2.7h-2.1zM308 173h2.1v2.7h-2.1zM340 173h2.1v2.7h-2.1zM352 173h2.1v2.7h-2.1zM364 173h2.1v2.7h-2.1zM244 175.5h2.1v2.8h-2.1zM254 175.5h2.1v2.8h-2.1zM308 175.5h2.1v2.8h-2.1zM340 175.5h2.1v2.8h-2.1zM352 175.5h2.1v2.8h-2.1zM364 175.5h2.1v2.8h-2.1zM244 178.1h2.1v2.7h-2.1zM254 178.1h2.1v2.7h-2.1zM308 178.1h2.1v2.7h-2.1zM340 178.1h2.1v2.7h-2.1zM352 178.1h2.1v2.7h-2.1zM364 178.1h2.1v2.7h-2.1zM244 180.6h2.1v2.8h-2.1zM254 180.6h2.1v2.8h-2.1zM308 180.6h2.1v2.8h-2.1zM340 180.6h2.1v2.8h-2.1zM352 180.6h2.1v2.8h-2.1zM244 183.2h2.1v2.7h-2.1zM254 183.2h2.1v2.7h-2.1zM308 183.2h2.1v2.7h-2.1zM340 183.2h2.1v2.7h-2.1zM352 183.2h2.1v2.7h-2.1zM244 185.7h2.1v2.8h-2.1zM254 185.7h2.1v2.8h-2.1zM308 185.7h2.1v2.8h-2.1zM340 185.7h2.1v2.8h-2.1zM352 185.7h2.1v2.8h-2.1zM244 188.3h2.1v2.7h-2.1zM254 188.3h2.1v2.7h-2.1zM308 188.3h2.1v2.7h-2.1zM340 188.3h2.1v2.7h-2.1zM352 188.3h2.1v2.7h-2.1zM244 190.8h2.1v2.8h-2.1zM254 190.8h2.1v2.8h-2.1zM308 190.8h2.1v2.8h-2.1zM340 190.8h2.1v2.8h-2.1zM352 190.8h2.1v2.8h-2.1zM244 193.4h2.1v2.7h-2.1zM254 193.4h2.1v2.7h-2.1zM308 193.4h2.1v2.7h-2.1zM340 193.4h2.1v2.7h-2.1zM352 193.4h2.1v2.7h-2.1zM244 195.9h2.1v2.8h-2.1zM254 195.9h2.1v2.8h-2.1zM308 195.9h2.1v2.8h-2.1zM340 195.9h2.1v2.8h-2.1zM352 195.9h2.1v2.8h-2.1zM244 198.5h2.1v2.7h-2.1zM254 198.5h2.1v2.7h-2.1zM308 198.5h2.1v2.7h-2.1zM340 198.5h2.1v2.7h-2.1zM352 198.5h2.1v2.7h-2.1zM358 201h2.1v19.2h-2.1zM286 220h2.1v17.4h-2.1z"/>
<path fill="rgb(216,216,216)" d="M374 84.2h2.1v28.0h-2.1zM494 84.2h2.1v28.0h-2.1zM500 84.2h2.1v28.0h-2.1zM244 116.5h2.1v14.7h-2.1zM318 131h2.1v14.2h-2.1zM324 131h2.1v14.2h-2.1zM586 131h2.1v14.2h-2.1zM598 131h2.1v14.2h-2.1zM248 145h2.1v2.7h-2.1zM302 145h2.1v2.7h-2.1zM248 147.5h2.1v2.8h-2.1zM302 147.5h2.1v2.8h-2.1zM248 150.1h2.1v2.7h-2.1zM302 150.1h2.1v2.7h-2.1zM248 152.6h2.1v2.8h-2.1zM302 152.6h2.1v2.8h-2.1zM248 155.2h2.1v2.7h-2.1zM302 155.2h2.1v2.7h-2.1zM248 157.7h2.1v2.8h-2.1zM302 157.7h2.1v2.8h-2.1zM248 160.3h2.1v2.7h-2.1zM302 160.3h2.1v2.7h-2.1zM248 162.8h2.1v2.8h-2.1zM302 162.8h2.1v2.8h-2.1zM248 165.4h2.1v2.7h-2.1zM302 165.4h2.1v2.7h-2.1zM248 167.9h2.1v2.8h-2.1zM302 167.9h2.1v2.8h-2.1zM248 170.5h2.1v2.7h-2.1zM302 170.5h2.1v2.7h-2.1zM248 173h2.1v2.7h-2.1zM302 173h2.1v2.7h-2.1zM248 175.5h2.1v2.8h-2.1zM302 175.5h2.1v2.8h-2.1zM248 178.1h2.1v2.7h-2.1zM302 178.1h2.1v2.7h-2.1zM248 180.6h2.1v2.8h-2.1zM302 180.6h2.1v2.8h-2.1zM248 183.2h2.1v2.7h-2.1zM302 183.2h2.1v2.7h-2.1zM248 185.7h2.1v2.8h-2.1zM302 185.7h2.1v2.8h-2.1zM248 188.3h2.1v2.7h-2.1zM302 188.3h2.1v2.7h-2.1zM248 190.8h2.1v2.8h-2.1zM302 190.8h2.1v2.8h-2.1zM248 193.4h2.1v2.7h-2.1zM302 193.4h2.1v2.7h-2.1zM248 195.9h2.1v2.8h-2.1zM302 195.9h2.1v2.8h-2.1zM248 198.5h2.1v2.7h-2.1zM302 198.5h2.1v2.7h-2.1zM348 201h2.1v19.2h-2.1zM232 220h2.1v17.4h-2.1z"/>
<path fill="rgb(222,222,222)" d="M280 84.2h2.1v28.0h-2.1zM284 84.2h2.1v28.0h-2.1zM290 84.2h2.1v28.0h-2.1zM370 84.2h4.1v28.0h-4.1zM334 116.5h2.1v14.7h-2.1zM340 116.5h2.1v14.7h-2.1zM368 131h2.1v14.2h-2.1zM596 131h2.1v14.2h-2.1zM600 131h2.1v14.2h-2.1zM258 145h2.1v2.7h-2.1zM298 145h2.1v2.7h-2.1zM258 147.5h2.1v2.8h-2.1zM298 147.5h2.1v2.8h-2.1zM258 150.1h2.1v2.7h-2.1zM298 150.1h2.1v2.7h-2.1zM258 152.6h2.1v2.8h-2.1zM298 152.6h2.1v2.8h-2.1zM258 155.2h2.1v2.7h-2.1zM298 155.2h2.1v2.7h-2.1zM258 157.7h2.1v2.8h-2.1zM298 157.7h2.1v2.8h-2.1zM258 160.3h2.1v2.7h-2.1zM298 160.3h2.1v2.7h-2.1zM258 162.8h2.1v2.8h-2.1zM298 162.8h2.1v2.8h-2.1zM258 165.4h2.1v2.7h-2.1zM298 165.4h2.1v2.7h-2.1zM258 167.9h2.1v2.8h-2.1zM298 167.9h2.1v2.8h-2.1zM258 170.5h2.1v2.7h-2.1zM298 170.5h2.1v2.7h-2.1zM258 173h2.1v2.7h-2.1zM298 173h2.1v2.7h-2.1zM258 175.5h2.1v2.8h-2.1zM298 175.5h2.1v2.8h-2.1zM258 178.1h2.1v2.7h-2.1zM298 178.1h2.1v2.7h-2.1zM258 180.6h2.1v2.8h-2.1zM298 180.6h2.1v2.8h-2.1zM258 183.2h2.1v2.7h-2.1zM298 183.2h2.1v2.7h-2.1zM258 185.7h2.1v2.8h-2.1zM298 185.7h2.1v2.8h-2.1zM258 188.3h2.1v2.7h-2.1zM298 188.3h2.1v2.7h-2.1zM258 190.8h2.1v2.8h-2.1zM298 190.8h2.1v2.8h-2.1zM258 193.4h2.1v2.7h-2.1zM298 193.4h2.1v2.7h-2.1zM258 195.9h2.1v2.8h-2.1zM298 195.9h2.1v2.8h-2.1zM258 198.5h2.1v2.7h-2.1zM298 198.5h2.1v2.7h-2.1zM352 201h2.1v19.2h-2.1z"/>
<path fill="rgb(228,228,228)" d="M278 84.2h2.1v28.0h-2.1zM368 84.2h2.1v28.0h-2.1zM280 116.5h2.1v14.7h-2.1zM338 116.5h2.1v14.7h-2.1zM372 116.5h2.1v14.7h-2.1zM366 131h2.1v14.2h-2.1zM370 131h2.1v14.2h-2.1zM250 145h2.1v2.7h-2.1zM250 147.5h2.1v2.8h-2.1zM250 150.1h2.1v2.7h-2.1zM250 152.6h2.1v2.8h-2.1zM250 155.2h2.1v2.7h-2.1zM250 157.7h2.1v2.8h-2.1zM250 160.3h2.1v2.7h-2.1zM250 162.8h2.1v2.8h-2.1zM250 165.4h2.1v2.7h-2.1zM250 167.9h2.1v2.8h-2.1zM250 170.5h2.1v2.7h-2.1zM250 173h2.1v2.7h-2.1zM250 175.5h2.1v2.8h-2.1zM250 178.1h2.1v2.7h-2.1zM250 180.6h2.1v2.8h-2.1zM250 183.2h2.1v2.7h-2.1zM250 185.7h2.1v2.8h-2.1zM250 188.3h2.1v2.7h-2.1zM250 190.8h2.1v2.8h-2.1zM250 193.4h2.1v2.7h-2.1zM250 195.9h2.1v2.8h-2.1zM250 198.5h2.1v2.7h-2.1zM344 201h2.1v19.2h-2.1z"/>
<path fill="rgb(234,234,234)" d="M278 116.5h2.1v14.7h-2.1zM370 116.5h2.1v14.7h-2.1zM252 145h2.1v2.7h-2.1zM252 147.5h2.1v2.8h-2.1zM252 150.1h2.1v2.7h-2.1zM252 152.6h2.1v2.8h-2.1zM252 155.2h2.1v2.7h-2.1zM252 157.7h2.1v2.8h-2.1zM252 160.3h2.1v2.7h-2.1zM252 162.8h2.1v2.8h-2.1zM252 165.4h2.1v2.7h-2.1zM252 167.9h2.1v2.8h-2.1zM252 170.5h2.1v2.7h-2.1zM252 173h2.1v2.7h-2.1zM252 175.5h2.1v2.8h-2.1zM252 178.1h2.1v2.7h-2.1zM252 180.6h2.1v2.8h-2.1zM252 183.2h2.1v2.7h-2.1zM252 185.7h2.1v2.8h-2.1zM252 188.3h2.1v2.7h-2.1zM252 190.8h2.1v2.8h-2.1zM252 193.4h2.1v2.7h-2.1zM252 195.9h2.1v2.8h-2.1zM252 198.5h2.1v2.7h-2.1zM290 201h2.1v19.2h-2.1zM352 220h2.1v17.4h-2.1z"/>
<path fill="rgb(240,240,240)" d="M256 145h2.1v2.7h-2.1zM256 147.5h2.1v2.8h-2.1zM256 150.1h2.1v2.7h-2.1zM256 152.6h2.1v2.8h-2.1zM256 155.2h2.1v2.7h-2.1zM256 157.7h2.1v2.8h-2.1zM256 160.3h2.1v2.7h-2.1zM256 162.8h2.1v2.8h-2.1zM256 165.4h2.1v2.7h-2.1zM256 167.9h2.1v2.8h-2.1zM256 170.5h2.1v2.7h-2.1zM256 173h2.1v2.7h-2.1zM256 175.5h2.1v2.8h-2.1zM256 178.1h2.1v2.7h-2.1zM256 180.6h2.1v2.8h-2.1zM338 180.6h2.1v2.8h-2.1zM256 183.2h2.1v2.7h-2.1zM338 183.2h2.1v2.7h-2.1zM256 185.7h2.1v2.8h-2.1zM338 185.7h2.1v2.8h-2.1zM256 188.3h2.1v2.7h-2.1zM338 188.3h2.1v2.7h-2.1zM256 190.8h2.1v2.8h-2.1zM338 190.8h2.1v2.8h-2.1zM256 193.4h2.1v2.7h-2.1zM338 193.4h2.1v2.7h-2.1zM256 195.9h2.1v2.8h-2.1zM338 195.9h2.1v2.8h-2.1zM256 198.5h2.1v2.7h-2.1zM338 198.5h2.1v2.7h-2.1zM296 220h2.1v17.4h-2.1z"/>
<path fill="rgb(246,246,246)" d="M364 131h2.1v14.2h-2.1zM372 131h2.1v14.2h-2.1zM356 201h2.1v19.2h-2.1z"/>
</g>
<g filter="url(#ht1)" shape-rendering="crispEdges">
<path fill="rgb(0,0,0)" d="M271.2 61.5h1.7v22.9h-1.7zM306.4 61.5h1.7v22.9h-1.7zM357.6 61.5h1.7v22.9h-1.7z"/>
<path fill="rgb(6,6,6)" d="M309.6 61.5h3.3v22.9h-3.3zM351.2 61.5h1.7v22.9h-1.7zM362.4 61.5h1.7v22.9h-1.7z"/>
<path fill="rgb(12,12,12)" d="M356 61.5h1.7v22.9h-1.7zM359.2 61.5h3.3v22.9h-3.3z"/>
<path fill="rgb(18,18,18)" d="M272.8 61.5h1.7v22.9h-1.7zM304.8 61.5h1.7v22.9h-1.7zM348 61.5h1.7v22.9h-1.7zM354.4 61.5h1.7v22.9h-1.7zM368.8 61.5h3.3v22.9h-3.3z"/>
<path fill="rgb(24,24,24)" d="M365.6 61.5h1.7v22.9h-1.7zM564 61.5h1.7v22.9h-1.7z"/>
<path fill="rgb(30,30,30)" d="M333.6 61.5h1.7v22.9h-1.7zM364 61.5h1.7v22.9h-1.7zM591.2 61.5h1.7v22.9h-1.7z"/>
<path fill="rgb(36,36,36)" d="M300 61.5h1.7v22.9h-1.7zM325.6 61.5h1.7v22.9h-1.7zM328.8 61.5h1.7v22.9h-1.7zM346.4 61.5h1.7v22.9h-1.7zM589.6 61.5h1.7v22.9h-1.7z"/>
<path fill="rgb(42,42,42)" d="M250.4 61.5h1.7v22.9h-1.7zM298.4 61.5h1.7v22.9h-1.7zM349.6 61.5h1.7v22.9h-1.7zM562.4 61.5h1.7v22.9h-1.7zM600.8 61.5h1.7v22.9h-1.7z"/>
<path fill="rgb(48,48,48)" d="M247.2 61.5h3.3v22.9h-3.3zM314.4 61.5h1.7v22.9h-1.7zM317.6 61.5h1.7v22.9h-1.7zM322.4 61.5h1.7v22.9h-1.7zM367.2 61.5h1.7v22.9h-1.7zM543.2 61.5h1.7v22.9h-1.7zM570.4 61.5h1.7v22.9h-1.7zM594.4 61.5h1.7v22.9h-1.7zM597.6 61.5h1.7v22.9h-1.7z"/>
<path fill="rgb(54,54,54)" d="M244 61.5h1.7v22.9h-1.7zM253.6 61.5h1.7v22.9h-1.7zM312.8 61.5h1.7v22.9h-1.7zM592.8 61.5h1.7v22.9h-1.7z"/>
<path fill="rgb(60,60,60)" d="M252 61.5h1.7v22.9h-1.7zM263.2 61.5h1.7v22.9h-1.7zM274.4 61.5h3.3v22.9h-3.3zM330.4 61.5h1.7v22.9h-1.7zM517.6 61.5h1.7v22.9h-1.7zM602.4 61.5h1.7v22.9h-1.7z"/>
<path fill="rgb(66,66,66)" d="M295.2 61.5h1.7v22.9h-1.7zM303.2 61.5h1.7v22.9h-1.7zM352.8 61.5h1.7v22.9h-1.7zM492 61.5h1.7v22.9h-1.7zM572 61.5h1.7v22.9h-1.7z"/>
<path fill="rgb(72,72,72)" d="M301.6 61.5h1.7v22.9h-1.7zM308 61.5h1.7v22.9h-1.7zM319.2 61.5h1.7v22.9h-1.7zM482.4 61.5h1.7v22.9h-1.7z"/>
<path fill="rgb(78,78,78)" d="M269.6 61.5h1.7v22.9h-1.7zM472.8 61.5h1.7v22.9h-1.7zM535.2 61.5h1.7v22.9h-1.7zM596 61.5h1.7v22.9h-1.7z"/>
<path fill="rgb(84,84,84)" d="M266.4 61.5h1.7v22.9h-1.7zM548 61.5h1.7v22.9h-1.7zM583.2 61.5h1.7v22.9h-1.7zM586.4 61.5h1.7v22.9h-1.7zM599.2 61.5h1.7v22.9h-1.7z"/>
<path fill="rgb(90,90,90)" d="M428 61.5h1.7v22.9h-1.7zM432.8 61.5h1.7v22.9h-1.7zM480.8 61.5h1.7v22.9h-1.7zM536.8 61.5h3.3v22.9h-3.3zM567.2 61.5h1.7v22.9h-1.7zM588 61.5h1.7v22.9h-1.7z"/>
<path fill="rgb(96,96,96)" d="M296.8 61.5h1.7v22.9h-1.7zM442.4 61.5h1.7v22.9h-1.7zM445.6 61.5h1.7v22.9h-1.7zM512.8 61.5h3.3v22.9h-3.3zM568.8 61.5h1.7v22.9h-1.7zM576.8 61.5h1.7v22.9h-1.7z"/>
<path fill="rgb(102,102,102)" d="M264.8 61.5h1.7v22.9h-1.7zM332 61.5h1.7v22.9h-1.7zM389.6 61.5h1.7v22.9h-1.7zM418.4 61.5h1.7v22.9h-1.7zM455.2 61.5h1.7v22.9h-1.7zM519.2 61.5h1.7v22.9h-1.7zM541.6 61.5h1.7v22.9h-1.7zM557.6 61.5h1.7v22.9h-1.7z"/>
<path fill="rgb(108,108,108)" d="M490.4 61.5h1.7v22.9h-1.7zM532 61.5h1.7v22.9h-1.7zM565.6 61.5h1.7v22.9h-1.7z"/>
<path fill="rgb(114,114,114)" d="M396 61.5h1.7v22.9h-1.7zM423.2 61.5h1.7v22.9h-1.7zM447.2 61.5h1.7v22.9h-1.7zM456.8 61.5h3.3v22.9h-3.3zM471.2 61.5h1.7v22.9h-1.7zM477.6 61.5h1.7v22.9h-1.7zM485.6 61.5h1.7v22.9h-1.7zM511.2 61.5h1.7v22.9h-1.7zM516 61.5h1.7v22.9h-1.7zM581.6 61.5h1.7v22.9h-1.7z"/>
<path fill="rgb(120,120,120)" d="M320.8 61.5h1.7v22.9h-1.7zM402.4 61.5h1.7v22.9h-1.7zM426.4 61.5h1.7v22.9h-1.7zM434.4 61.5h1.7v22.9h-1.7zM450.4 61.5h1.7v22.9h-1.7zM469.6 61.5h1.7v22.9h-1.7zM474.4 61.5h3.3v22.9h-3.3zM484 61.5h1.7v22.9h-1.7zM493.6 61.5h1.7v22.9h-1.7zM544.8 61.5h3.3v22.9h-3.3zM549.6 61.5h3.3v22.9h-3.3zM559.2 61.5h1.7v22.9h-1.7zM584.8 61.5h1.7v22.9h-1.7z"/>
<path fill="rgb(126,126,126)" d="M372 61.5h1.7v22.9h-1.7zM380 61.5h1.7v22.9h-1.7zM407.2 61.5h1.7v22.9h-1.7zM412 61.5h1.7v22.9h-1.7zM415.2 61.5h1.7v22.9h-1.7zM506.4 61.5h1.7v22.9h-1.7zM554.4 61.5h1.7v22.9h-1.7zM575.2 61.5h1.7v22.9h-1.7z"/>
<path fill="rgb(132,132,132)" d="M324 61.5h1.7v22.9h-1.7zM416.8 61.5h1.7v22.9h-1.7zM429.6 61.5h3.3v22.9h-3.3zM444 61.5h1.7v22.9h-1.7zM448.8 61.5h1.7v22.9h-1.7zM453.6 61.5h1.7v22.9h-1.7zM479.2 61.5h1.7v22.9h-1.7zM508 61.5h3.3v22.9h-3.3zM520.8 61.5h1.7v22.9h-1.7zM533.6 61.5h1.7v22.9h-1.7zM552.8 61.5h1.7v22.9h-1.7zM556 61.5h1.7v22.9h-1.7zM560.8 61.5h1.7v22.9h-1.7z"/>
<path fill="rgb(138,138,138)" d="M229.6 61.5h1.7v22.9h-1.7zM240.8 61.5h1.7v22.9h-1.7zM245.6 61.5h1.7v22.9h-1.7zM268 61.5h1.7v22.9h-1.7zM327.2 61.5h1.7v22.9h-1.7zM404 61.5h1.7v22.9h-1.7zM410.4 61.5h1.7v22.9h-1.7zM413.6 61.5h1.7v22.9h-1.7zM437.6 61.5h3.3v22.9h-3.3zM468 61.5h1.7v22.9h-1.7zM488.8 61.5h1.7v22.9h-1.7zM578.4 61.5h1.7v22.9h-1.7z"/>
<path fill="rgb(144,144,144)" d="M260 61.5h1.7v22.9h-1.7zM573.6 61.5h1.7v22.9h-1.7z"/>
<path fill="rgb(150,150,150)" d="M256.8 61.5h1.7v22.9h-1.7zM316 61.5h1.7v22.9h-1.7zM338.4 61.5h1.7v22.9h-1.7zM421.6 61.5h1.7v22.9h-1.7z"/>
<path fill="rgb(156,156,156)" d="M388 61.5h1.7v22.9h-1.7zM420 61.5h1.7v22.9h-1.7zM436 61.5h1.7v22.9h-1.7zM540 61.5h1.7v22.9h-1.7zM580 61.5h1.7v22.9h-1.7z"/>
<path fill="rgb(162,162,162)" d="M228 61.5h1.7v22.9h-1.7zM255.2 61.5h1.7v22.9h-1.7zM261.6 61.5h1.7v22.9h-1.7zM383.2 61.5h1.7v22.9h-1.7zM392.8 61.5h1.7v22.9h-1.7zM463.2 61.5h1.7v22.9h-1.7zM501.6 61.5h1.7v22.9h-1.7zM530.4 61.5h1.7v22.9h-1.7z"/>
<path fill="rgb(168,168,168)" d="M258.4 61.5h1.7v22.9h-1.7zM287.2 61.5h1.7v22.9h-1.7zM293.6 61.5h1.7v22.9h-1.7zM384.8 61.5h3.3v22.9h-3.3zM397.6 61.5h1.7v22.9h-1.7zM405.6 61.5h1.7v22.9h-1.7zM461.6 61.5h1.7v22.9h-1.7zM487.2 61.5h1.7v22.9h-1.7zM495.2 61.5h1.7v22.9h-1.7zM498.4 61.5h1.7v22.9h-1.7zM528.8 61.5h1.7v22.9h-1.7z"/>
<path fill="rgb(174,174,174)" d="M234.4 61.5h1.7v22.9h-1.7zM285.6 61.5h1.7v22.9h-1.7zM391.2 61.5h1.7v22.9h-1.7zM440.8 61.5h1.7v22.9h-1.7z"/>
<path fill="rgb(180,180,180)" d="M373.6 61.5h1.7v22.9h-1.7zM394.4 61.5h1.7v22.9h-1.7zM424.8 61.5h1.7v22.9h-1.7zM452 61.5h1.7v22.9h-1.7zM460 61.5h1.7v22.9h-1.7z"/>
<path fill="rgb(186,186,186)" d="M290.4 61.5h1.7v22.9h-1.7zM335.2 61.5h1.7v22.9h-1.7zM344.8 61.5h1.7v22.9h-1.7zM381.6 61.5h1.7v22.9h-1.7zM400.8 61.5h1.7v22.9h-1.7zM503.2 61.5h3.3v22.9h-3.3z"/>
<path fill="rgb(192,192,192)" d="M399.2 61.5h1.7v22.9h-1.7zM464.8 61.5h1.7v22.9h-1.7z"/>
<path fill="rgb(198,198,198)" d="M466.4 61.5h1.7v22.9h-1.7z"/>
<path fill="rgb(204,204,204)" d="M236 61.5h1.7v22.9h-1.7zM277.6 61.5h1.7v22.9h-1.7zM343.2 61.5h1.7v22.9h-1.7zM378.4 61.5h1.7v22.9h-1.7zM500 61.5h1.7v22.9h-1.7zM522.4 61.5h4.9v22.9h-4.9z"/>
<path fill="rgb(210,210,210)" d="M408.8 61.5h1.7v22.9h-1.7z"/>
<path fill="rgb(216,216,216)" d="M232.8 61.5h1.7v22.9h-1.7zM280.8 61.5h1.7v22.9h-1.7zM340 61.5h1.7v22.9h-1.7zM376.8 61.5h1.7v22.9h-1.7z"/>
<path fill="rgb(222,222,222)" d="M496.8 61.5h1.7v22.9h-1.7z"/>
<path fill="rgb(228,228,228)" d="M231.2 61.5h1.7v22.9h-1.7zM288.8 61.5h1.7v22.9h-1.7zM527.2 61.5h1.7v22.9h-1.7z"/>
<path fill="rgb(234,234,234)" d="M239.2 61.5h1.7v22.9h-1.7z"/>
<path fill="rgb(240,240,240)" d="M237.6 61.5h1.7v22.9h-1.7z"/>
<path fill="rgb(246,246,246)" d="M279.2 61.5h1.7v22.9h-1.7zM284 61.5h1.7v22.9h-1.7zM336.8 61.5h1.7v22.9h-1.7z"/>
<path fill="rgb(252,252,252)" d="M242.4 61.5h1.7v22.9h-1.7zM282.4 61.5h1.7v22.9h-1.7zM292 61.5h1.7v22.9h-1.7zM341.6 61.5h1.7v22.9h-1.7zM375.2 61.5h1.7v22.9h-1.7z"/>
</g>
<rect x="228" y="84.2" width="376" height="153.0" filter="url(#hh1)" style="mix-blend-mode:overlay" opacity="0.36"/>
<path d="M376 88.6H604M228 86H376" stroke="#fff" stroke-width="1" opacity="0.3" stroke-dasharray="6 3 2 4"/>
</g></g>
<defs><linearGradient id="lg1" x1="0" y1="0" x2="0" y2="1"><stop offset="0" stop-color="#f2f2f2"/><stop offset="1" stop-color="#050505"/></linearGradient></defs>
<rect x="620.1" y="172.7" width="7" height="64.5" fill="url(#lg1)"/>
<text transform="translate(615.9,201.29999999999998) rotate(-90)" font-size="9.8" fill="#58595b" text-anchor="middle">ΔF (Z.)</text>
<text transform="translate(636,185.0) rotate(-90)" font-size="10.5" fill="#333" text-anchor="middle">+1</text>
<text transform="translate(636,220.89999999999998) rotate(-90)" font-size="10.5" fill="#333" text-anchor="middle">−1</text>
<text x="231.8" y="259.4" font-size="12.6" fill="#333">2 min</text>
<rect x="235.8" y="262.4" width="23.3" height="1.3" fill="#4d4d4f"/>
<polygon points="656.00,25.00 662.20,35.90 657.60,35.90 657.60,41.90 654.40,41.90 654.40,35.90 649.80,35.90" fill="#36a9e1"/>
<polygon points="679.19,30.91 675.94,42.93 672.69,39.68 668.09,44.27 665.83,42.01 670.42,37.41 667.17,34.16" fill="#19a59b"/>
<polygon points="685.10,54.10 674.20,60.30 674.20,55.70 668.20,55.70 668.20,52.50 674.20,52.50 674.20,47.90" fill="#4bb06c"/>
<polygon points="678.98,77.08 667.17,74.04 670.42,70.79 665.83,66.19 668.09,63.93 672.69,68.52 675.94,65.27" fill="#aaa23a"/>
<polygon points="632.81,77.29 636.06,65.27 639.31,68.52 643.91,63.93 646.17,66.19 641.58,70.79 644.83,74.04" fill="#e26a8c"/>
<polygon points="626.90,54.10 637.80,47.90 637.80,52.50 643.80,52.50 643.80,55.70 637.80,55.70 637.80,60.30" fill="#b07cb4"/>
<polygon points="632.81,30.91 644.83,34.16 641.58,37.41 646.17,42.01 643.91,44.27 639.31,39.68 636.06,42.93" fill="#8b86c0"/>
<path d="M656,48.2 C659.6,48.2 659.9,51.5 659.6,54 C659.3,57 658,60 657.4,66.5 L654.6,66.5 C654,60 652.7,57 652.4,54 C652.1,51.5 652.4,48.2 656,48.2 Z" fill="#231f20"/>
<polygon points="656.00,83.30 649.80,72.40 654.40,72.40 654.40,66.70 657.60,66.70 657.60,72.40 662.20,72.40" fill="#ef8a3c"/>
<path d="M655.2,82.5 L656.9,82.5 L657.8,99.4 Z" fill="#231f20"/>
<text transform="translate(0.2,310.5) scale(0.88,1)" font-size="18" fill="#231f20">b</text>
<text x="41.5" y="336.2" font-size="14.6" fill="#7a2a7e">Visually tuned neurons</text>
<g><defs><clipPath id="cp2"><rect x="41" y="340.4" width="161" height="174.6"/></clipPath><filter color-interpolation-filters="sRGB" id="bl2" x="-50%" y="-50%" width="200%" height="200%"><feGaussianBlur stdDeviation="1.9"/></filter><filter color-interpolation-filters="sRGB" id="bs2" x="-50%" y="-50%" width="200%" height="200%"><feGaussianBlur stdDeviation="0.9"/></filter><filter color-interpolation-filters="sRGB" id="nz2" x="0" y="0" width="100%" height="100%"><feTurbulence type="fractalNoise" baseFrequency="1.1 0.9" numOctaves="1" seed="2"/><feColorMatrix type="matrix" values="1.6 0 0 0 -0.3  1.6 0 0 0 -0.3  1.6 0 0 0 -0.3  0 0 0 0 1"/></filter></defs>
<g clip-path="url(#cp2)">
<rect x="41" y="340.4" width="161" height="174.6" fill="#c4c6c9"/>
<g filter="url(#bl2)">
<ellipse cx="45" cy="358.4" rx="3.5" ry="3.2" fill="#2a2c30" fill-opacity="0.55"/>
<ellipse cx="53.6" cy="362.09999999999997" rx="2.3" ry="2.3" fill="#2a2c30" fill-opacity="0.35"/>
<ellipse cx="92.7" cy="353.4" rx="3" ry="2.4" fill="#2a2c30" fill-opacity="0.6"/>
<ellipse cx="58.6" cy="349.09999999999997" rx="4" ry="3" fill="#2a2c30" fill-opacity="0.12"/>
<ellipse cx="46" cy="353.9" rx="5" ry="7" fill="#2a2c30" fill-opacity="0.12"/>
<ellipse cx="98" cy="385.9" rx="12" ry="9" fill="#2a2c30" fill-opacity="0.3"/>
<ellipse cx="99" cy="385.9" rx="3" ry="2.5" fill="#2a2c30" fill-opacity="0.35"/>
<ellipse cx="105" cy="377.9" rx="8" ry="5" fill="#2a2c30" fill-opacity="0.12"/>
<ellipse cx="65" cy="412.9" rx="8" ry="10" fill="#2a2c30" fill-opacity="0.3"/>
<ellipse cx="64.8" cy="419.2" rx="3" ry="2.6" fill="#2a2c30" fill-opacity="0.45"/>
<ellipse cx="58" cy="397.9" rx="8" ry="12" fill="#2a2c30" fill-opacity="0.1"/>
<ellipse cx="115.7" cy="401.2" rx="2.6" ry="2.6" fill="#2a2c30" fill-opacity="0.2"/>
<ellipse cx="110" cy="417.9" rx="8" ry="6" fill="#2a2c30" fill-opacity="0.1"/>
<ellipse cx="162" cy="396.9" rx="3.5" ry="3.5" fill="#2a2c30" fill-opacity="0.5"/>
<ellipse cx="77.7" cy="392.9" rx="3" ry="3" fill="#2a2c30" fill-opacity="0.45"/>
<ellipse cx="85" cy="397.9" rx="3" ry="3" fill="#2a2c30" fill-opacity="0.3"/>
<ellipse cx="158" cy="395.9" rx="14" ry="11" fill="#2a2c30" fill-opacity="0.25"/>
<ellipse cx="168" cy="389.9" rx="5" ry="3" fill="#2a2c30" fill-opacity="0.25"/>
<ellipse cx="135" cy="372.9" rx="6" ry="3.5" fill="#2a2c30" fill-opacity="0.28"/>
<ellipse cx="125" cy="377.9" rx="8" ry="4" fill="#2a2c30" fill-opacity="0.1"/>
<ellipse cx="182" cy="363.9" rx="5" ry="2.5" fill="#2a2c30" fill-opacity="0.25"/>
<ellipse cx="133.5" cy="355.9" rx="3.5" ry="2.5" fill="#2a2c30" fill-opacity="0.12"/>
<ellipse cx="176" cy="361.9" rx="2.5" ry="2.5" fill="#2a2c30" fill-opacity="0.18"/>
<ellipse cx="155.7" cy="457.9" rx="3.5" ry="7" fill="#2a2c30" fill-opacity="0.5"/>
<ellipse cx="148.4" cy="474.7" rx="3.5" ry="2.6" fill="#2a2c30" fill-opacity="0.36"/>
<ellipse cx="160.5" cy="434.9" rx="3.5" ry="4" fill="#2a2c30" fill-opacity="0.2"/>
<ellipse cx="150" cy="445.9" rx="5" ry="8" fill="#2a2c30" fill-opacity="0.13"/>
<ellipse cx="83" cy="458.9" rx="3.5" ry="2.6" fill="#2a2c30" fill-opacity="0.42"/>
<ellipse cx="90" cy="464.9" rx="5" ry="2.6" fill="#2a2c30" fill-opacity="0.36"/>
<ellipse cx="100" cy="472.9" rx="4.5" ry="2.6" fill="#2a2c30" fill-opacity="0.36"/>
<ellipse cx="95" cy="467.9" rx="8" ry="5" fill="#2a2c30" fill-opacity="0.12"/>
<ellipse cx="52" cy="463.9" rx="3.5" ry="2.2" fill="#2a2c30" fill-opacity="0.38"/>
<ellipse cx="61.7" cy="461.5" rx="2.6" ry="2.2" fill="#2a2c30" fill-opacity="0.3"/>
<ellipse cx="73.7" cy="437.4" rx="4" ry="4" fill="#2a2c30" fill-opacity="0.18"/>
<ellipse cx="64" cy="482.9" rx="5" ry="4" fill="#2a2c30" fill-opacity="0.13"/>
<ellipse cx="78.5" cy="506.9" rx="5" ry="3" fill="#2a2c30" fill-opacity="0.1"/>
<ellipse cx="100" cy="499.9" rx="6" ry="4" fill="#2a2c30" fill-opacity="0.1"/>
<ellipse cx="80" cy="399.9" rx="24" ry="22" fill="#2a2c30" fill-opacity="0.16"/>
<ellipse cx="152" cy="405.9" rx="22" ry="24" fill="#2a2c30" fill-opacity="0.14"/>
<ellipse cx="140" cy="487.9" rx="8" ry="6" fill="#2a2c30" fill-opacity="0.07"/>
</g>
<g filter="url(#bs2)">
<ellipse cx="161.3" cy="395.59999999999997" rx="1.8" ry="1.8" fill="#111" fill-opacity="0.85"/>
<ellipse cx="158.7" cy="400.7" rx="2" ry="2" fill="#111" fill-opacity="0.9"/>
<ellipse cx="64.8" cy="419.2" rx="1.8" ry="1.6" fill="#111" fill-opacity="0.4"/>
<ellipse cx="92.7" cy="353.4" rx="2" ry="1.6" fill="#111" fill-opacity="0.35"/>
<ellipse cx="45" cy="358.4" rx="2" ry="1.8" fill="#111" fill-opacity="0.3"/>
<ellipse cx="155.7" cy="457.9" rx="1.6" ry="3" fill="#111" fill-opacity="0.3"/>
</g>
<rect x="41" y="340.4" width="161" height="174.6" filter="url(#nz2)" style="mix-blend-mode:overlay" opacity="0.28"/>
<rect x="172" y="340.4" width="0.8" height="174.6" fill="#9a9ca0" opacity="0.25"/>
</g>
<path d="M111.0 356.1h0M72.5 363.1h0M94.4 372.1h0M100.8 368.6h0M99.6 371.5h0M100.2 375.0h0M96.1 377.4h0M103.7 375.0h0M106.1 372.7h0M108.4 375.0h0M109.6 377.4h0M108.4 380.3h0M110.7 380.9h0M111.3 371.8h0M78.0 377.4h0M83.3 375.6h0M86.2 377.4h0M85.0 380.3h0M88.5 380.9h0M91.5 380.3h0M83.9 383.2h0M81.5 384.4h0M76.3 381.5h0M75.1 382.6h0M78.6 385.5h0M80.4 387.3h0M66.4 384.4h0M68.7 384.1h0M70.4 386.7h0M68.1 393.5h0M85.0 391.4h0M84.5 393.7h0M96.7 381.5h0M96.7 385.5h0M97.9 387.9h0M101.4 387.9h0M104.3 387.3h0M96.1 392.6h0M96.7 399.3h0M87.4 401.0h0M100.8 396.6h0M102.6 397.8h0M62.6 398.2h0M66.4 400.7h0M68.7 401.9h0M71.0 403.1h0M74.5 403.6h0M65.2 404.8h0M71.6 406.0h0M56.4 406.8h0M107.8 399.6h0M110.7 400.1h0M113.1 399.6h0M116.6 397.2h0M116.6 400.7h0M114.8 403.6h0M118.9 403.1h0M121.8 401.9h0M121.2 397.0h0M117.7 389.6h0M121.2 387.9h0M124.2 389.1h0M120.1 392.6h0M122.4 391.4h0M96.5 410.1h0M100.5 410.7h0M106.1 411.2h0M107.2 414.7h0M109.6 414.2h0M113.1 413.0h0M120.1 409.5h0M118.9 411.8h0M97.9 415.9h0M127.7 414.7h0M127.7 416.5h0M97.9 421.2h0M101.4 420.6h0M104.3 420.6h0M102.0 424.1h0M93.8 423.5h0M94.4 429.9h0M96.1 432.3h0M97.9 433.4h0M92.6 429.7h0M84.5 434.0h0M80.4 436.9h0M83.3 437.5h0M74.5 436.9h0M72.8 438.1h0M85.0 378.5h0M87.4 379.1h0M82.7 378.5h0M79.2 383.2h0M99.1 384.4h0M100.2 386.1h0M103.1 377.4h0M105.5 378.0h0M196.2 349.9h0M133.2 367.1h0M133.8 372.7h0M136.1 374.8h0M139.6 378.5h0M143.1 378.3h0M132.2 383.0h0M138.4 382.3h0M141.4 383.2h0M144.3 382.6h0M146.6 382.0h0M139.6 387.3h0M143.5 388.5h0M152.4 382.0h0M155.4 382.0h0M158.9 382.0h0M151.3 384.4h0M153.6 386.1h0M157.7 385.5h0M160.0 386.7h0M163.5 384.4h0M166.5 386.7h0M168.2 389.1h0M171.7 387.9h0M172.9 385.3h0M176.4 386.7h0M179.3 385.0h0M182.2 389.1h0M183.4 390.5h0M174.1 391.4h0M171.1 391.4h0M153.0 391.2h0M157.1 391.4h0M161.2 390.8h0M165.9 394.9h0M188.1 386.5h0M192.7 386.1h0M195.1 387.9h0M197.4 387.9h0M195.1 390.2h0M174.6 396.1h0M171.7 398.4h0M172.9 400.7h0M179.3 400.5h0M175.2 403.6h0M177.0 406.3h0M170.5 406.3h0M154.8 410.1h0M156.8 414.4h0M167.0 413.6h0M174.1 410.1h0M176.4 411.2h0M174.1 414.7h0M177.6 415.9h0M175.2 417.7h0M171.1 422.3h0M171.7 423.2h0M131.4 397.2h0M130.3 400.7h0M133.8 400.1h0M136.1 400.5h0M127.3 414.2h0M127.3 416.5h0M133.8 429.0h0M135.5 429.3h0M158.9 438.7h0M125.6 389.1h0M154.2 383.8h0M156.5 383.8h0M160.0 384.4h0M164.7 386.1h0M169.4 390.2h0M175.2 389.1h0M174.1 399.0h0M176.4 405.4h0M176.4 413.6h0M196.2 389.1h0M73.9 438.2h0M80.9 437.5h0M84.4 434.2h0M93.7 431.2h0M97.2 432.8h0M159.1 438.6h0M161.5 443.3h0M165.0 441.7h0M163.8 445.9h0M166.1 444.5h0M170.8 445.9h0M78.5 464.6h0M79.7 465.5h0M84.4 467.4h0M86.7 472.7h0M89.1 473.2h0M93.7 473.7h0M97.7 477.4h0M152.1 484.2h0M154.0 483.3h0" stroke="#7b2a80" stroke-width="3.70" stroke-linecap="round" fill="none"/>
</g>
<path d="M18.8,484V532H76" stroke="#4d4d4f" stroke-width="1.3" fill="none"/>
<text transform="translate(16.3,484) rotate(-90)" font-size="12.4" fill="#333" text-anchor="middle">rost.</text>
<text x="26.0" y="545.5" font-size="12.5" fill="#333">50 µm</text>
<text x="71.38" y="544.5" font-size="12.5" fill="#333">rt.</text>
<path d="M229,308.7 L603.8,308.7" stroke="#808285" stroke-width="1.3" fill="none"/>
<path d="M244.0,301.3V318.0M245.2,302.1V318.1M246.3,305.1V316.1M259.5,305.1V315.6M260.8,306.1V314.1M264.5,308.1V316.1M265.6,307.1V316.1M266.6,309.1V314.1M268.5,301.3V308.7M274.5,302.1V317.1M275.6,301.6V317.1M277.8,303.1V316.1M281.2,304.1V316.1M282.2,305.1V315.1M285.8,302.1V315.1M286.8,303.1V313.1M288.0,305.1V316.1M289.2,307.1V315.1M292.2,304.1V316.6M293.4,306.1V315.1M295.6,304.1V316.1M299.2,305.1V316.1M300.3,307.1V314.1M302.8,306.1V316.1M308.2,307.1V320.1M309.3,308.1V317.1M314.3,307.1V317.1M315.6,306.1V316.1M316.5,307.1V316.1M324.0,305.6V316.6M330.6,303.6V316.6M331.8,305.1V316.1M335.1,302.7V314.6M338.8,302.1V315.6M339.6,303.1V315.1M341.6,305.6V316.6M345.0,301.3V315.6M346.2,302.1V315.1M347.4,303.1V314.1M353.4,303.6V316.6M354.3,305.1V315.1M358.3,306.1V315.6M364.5,304.6V316.6M365.4,305.1V315.1M367.8,304.1V316.1M368.8,305.1V315.1M370.3,302.1V316.1M372.8,304.1V315.1M376.2,304.6V316.1M381.2,303.6V316.6M389.5,303.6V314.6M392.5,306.1V319.1M393.2,307.1V318.1M402.9,302.1V316.6M403.6,303.1V315.1M416.1,304.6V316.6M428.9,302.1V315.6M455.2,306.1V316.6M464.9,301.3V314.5M482.4,302.7V317.1M496.8,301.8V313.6M497.7,302.1V314.1M499.5,302.1V313.1M505.9,306.6V316.9M509.5,301.8V316.9M511.3,303.1V316.1M520.4,302.1V318.6M521.6,302.1V318.1M522.5,303.1V317.1M526.9,301.5V316.1M533.3,301.5V316.9M549.8,302.1V316.9M551.3,303.1V316.1M559.6,306.5V317.8M571.9,305.1V316.9M577.8,306.9V316.9M586.6,302.7V317.8M587.3,303.1V317.1M597.7,305.1V316.9M602.4,306.0V317.8M603.2,306.1V317.1" stroke="#7c7e81" stroke-width="1.45" fill="none"/>
<rect x="415.80" y="322.8" width="2.06" height="14.7" fill="#3aaee3"/>
<rect x="418.56" y="322.8" width="2.06" height="14.7" fill="#19a59b"/>
<rect x="421.31" y="322.8" width="2.06" height="14.7" fill="#4bb06c"/>
<rect x="424.07" y="322.8" width="2.06" height="14.7" fill="#b3a53a"/>
<rect x="426.83" y="322.8" width="2.06" height="14.7" fill="#f08a3c"/>
<rect x="429.59" y="322.8" width="2.06" height="14.7" fill="#e5678e"/>
<rect x="432.34" y="322.8" width="2.06" height="14.7" fill="#b67cb6"/>
<rect x="435.10" y="322.8" width="2.06" height="14.7" fill="#8e8cc6"/>
<rect x="437.86" y="322.8" width="2.06" height="14.7" fill="#3aaee3"/>
<rect x="440.62" y="322.8" width="2.06" height="14.7" fill="#3aaee3"/>
<rect x="443.37" y="322.8" width="2.06" height="14.7" fill="#8e8cc6"/>
<rect x="446.13" y="322.8" width="2.06" height="14.7" fill="#b67cb6"/>
<rect x="448.89" y="322.8" width="2.06" height="14.7" fill="#e5678e"/>
<rect x="451.65" y="322.8" width="2.06" height="14.7" fill="#f08a3c"/>
<rect x="454.40" y="322.8" width="2.06" height="14.7" fill="#b3a53a"/>
<rect x="457.16" y="322.8" width="2.06" height="14.7" fill="#4bb06c"/>
<rect x="459.92" y="322.8" width="2.06" height="14.7" fill="#19a59b"/>
<rect x="462.68" y="322.8" width="2.06" height="14.7" fill="#3aaee3"/>
<rect x="465.43" y="322.8" width="2.06" height="14.7" fill="#19a59b"/>
<rect x="468.19" y="322.8" width="2.06" height="14.7" fill="#4bb06c"/>
<rect x="470.95" y="322.8" width="2.06" height="14.7" fill="#b3a53a"/>
<rect x="473.70" y="322.8" width="2.06" height="14.7" fill="#f08a3c"/>
<rect x="476.46" y="322.8" width="2.06" height="14.7" fill="#e5678e"/>
<rect x="479.22" y="322.8" width="2.06" height="14.7" fill="#b67cb6"/>
<rect x="481.98" y="322.8" width="2.06" height="14.7" fill="#8e8cc6"/>
<rect x="484.73" y="322.8" width="2.06" height="14.7" fill="#3aaee3"/>
<rect x="487.49" y="322.8" width="2.06" height="14.7" fill="#3aaee3"/>
<rect x="490.25" y="322.8" width="2.06" height="14.7" fill="#8e8cc6"/>
<rect x="493.01" y="322.8" width="2.06" height="14.7" fill="#b67cb6"/>
<rect x="495.76" y="322.8" width="2.06" height="14.7" fill="#e5678e"/>
<rect x="498.52" y="322.8" width="2.06" height="14.7" fill="#f08a3c"/>
<rect x="501.28" y="322.8" width="2.06" height="14.7" fill="#b3a53a"/>
<rect x="504.04" y="322.8" width="2.06" height="14.7" fill="#4bb06c"/>
<rect x="506.79" y="322.8" width="2.06" height="14.7" fill="#19a59b"/>
<rect x="509.55" y="322.8" width="2.06" height="14.7" fill="#3aaee3"/>
<rect x="512.31" y="322.8" width="2.06" height="14.7" fill="#19a59b"/>
<rect x="515.06" y="322.8" width="2.06" height="14.7" fill="#4bb06c"/>
<rect x="517.82" y="322.8" width="2.06" height="14.7" fill="#b3a53a"/>
<rect x="520.58" y="322.8" width="2.06" height="14.7" fill="#f08a3c"/>
<rect x="523.34" y="322.8" width="2.06" height="14.7" fill="#e5678e"/>
<rect x="526.09" y="322.8" width="2.06" height="14.7" fill="#b67cb6"/>
<rect x="528.85" y="322.8" width="2.06" height="14.7" fill="#8e8cc6"/>
<rect x="531.61" y="322.8" width="2.06" height="14.7" fill="#3aaee3"/>
<rect x="534.37" y="322.8" width="2.06" height="14.7" fill="#3aaee3"/>
<rect x="537.12" y="322.8" width="2.06" height="14.7" fill="#8e8cc6"/>
<rect x="539.88" y="322.8" width="2.06" height="14.7" fill="#b67cb6"/>
<rect x="542.64" y="322.8" width="2.06" height="14.7" fill="#e5678e"/>
<rect x="545.40" y="322.8" width="2.06" height="14.7" fill="#f08a3c"/>
<rect x="548.15" y="322.8" width="2.06" height="14.7" fill="#b3a53a"/>
<rect x="550.91" y="322.8" width="2.06" height="14.7" fill="#4bb06c"/>
<rect x="553.67" y="322.8" width="2.06" height="14.7" fill="#19a59b"/>
<rect x="556.42" y="322.8" width="2.06" height="14.7" fill="#3aaee3"/>
<rect x="559.18" y="322.8" width="2.06" height="14.7" fill="#19a59b"/>
<rect x="561.94" y="322.8" width="2.06" height="14.7" fill="#4bb06c"/>
<rect x="564.70" y="322.8" width="2.06" height="14.7" fill="#b3a53a"/>
<rect x="567.45" y="322.8" width="2.06" height="14.7" fill="#f08a3c"/>
<rect x="570.21" y="322.8" width="2.06" height="14.7" fill="#e5678e"/>
<rect x="572.97" y="322.8" width="2.06" height="14.7" fill="#b67cb6"/>
<rect x="575.73" y="322.8" width="2.06" height="14.7" fill="#8e8cc6"/>
<rect x="578.48" y="322.8" width="2.06" height="14.7" fill="#3aaee3"/>
<rect x="581.24" y="322.8" width="2.06" height="14.7" fill="#3aaee3"/>
<rect x="584.00" y="322.8" width="2.06" height="14.7" fill="#8e8cc6"/>
<rect x="586.76" y="322.8" width="2.06" height="14.7" fill="#b67cb6"/>
<rect x="589.51" y="322.8" width="2.06" height="14.7" fill="#e5678e"/>
<rect x="592.27" y="322.8" width="2.06" height="14.7" fill="#f08a3c"/>
<rect x="595.03" y="322.8" width="2.06" height="14.7" fill="#b3a53a"/>
<rect x="597.79" y="322.8" width="2.06" height="14.7" fill="#4bb06c"/>
<rect x="600.54" y="322.8" width="2.06" height="14.7" fill="#19a59b"/>
<g><defs><clipPath id="hc2"><rect x="228" y="340.2" width="376" height="175.40000000000003"/></clipPath><filter color-interpolation-filters="sRGB" id="hb2" x="-5%" y="-5%" width="110%" height="110%"><feGaussianBlur stdDeviation="1.3 0.6"/></filter><filter color-interpolation-filters="sRGB" id="hv2" x="0" y="0" width="100%" height="100%"><feTurbulence type="fractalNoise" baseFrequency="0.22 0.008" numOctaves="3" seed="5"/><feColorMatrix type="matrix" values="1.5 0 0 0 -0.25  1.5 0 0 0 -0.25  1.5 0 0 0 -0.25  0 0 0 0 1"/></filter><filter color-interpolation-filters="sRGB" id="hh2" x="0" y="0" width="100%" height="100%"><feTurbulence type="fractalNoise" baseFrequency="0.05 0.9" numOctaves="3" seed="7"/><feColorMatrix type="matrix" values="2.0 0 0 0 -0.5  2.0 0 0 0 -0.5  2.0 0 0 0 -0.5  0 0 0 0 1"/></filter></defs><g clip-path="url(#hc2)">
<g filter="url(#hb2)">
<rect x="228" y="340.2" width="12.00" height="119.80" fill="rgb(92,92,92)"/>
<rect x="240" y="340.2" width="60.00" height="119.80" fill="rgb(104,104,104)"/>
<rect x="300" y="340.2" width="115.00" height="119.80" fill="rgb(100,100,100)"/>
<rect x="415" y="340.2" width="189.00" height="119.80" fill="rgb(124,124,124)"/>
<rect x="228" y="460" width="48.00" height="55.60" fill="rgb(102,102,102)"/>
<rect x="276" y="460" width="21.00" height="55.60" fill="rgb(66,66,66)"/>
<rect x="297" y="460" width="19.50" height="55.60" fill="rgb(110,110,110)"/>
<rect x="316.5" y="460" width="29.20" height="55.60" fill="rgb(62,62,62)"/>
<rect x="345.7" y="460" width="18.00" height="55.60" fill="rgb(112,112,112)"/>
<rect x="363.7" y="460" width="13.90" height="55.60" fill="rgb(75,75,75)"/>
<rect x="377.6" y="460" width="37.40" height="55.60" fill="rgb(102,102,102)"/>
<rect x="415" y="460" width="189.00" height="55.60" fill="rgb(120,120,120)"/>
<rect x="416" y="360" width="188.00" height="3.50" fill="rgb(80,80,80)"/>
<rect x="416" y="390" width="188.00" height="6.00" fill="rgb(82,82,82)"/>
<rect x="416" y="366" width="188.00" height="20.00" fill="rgb(122,122,122)"/>
<rect x="416" y="399" width="188.00" height="26.00" fill="rgb(116,116,116)"/>
<ellipse cx="435" cy="376" rx="15" ry="9" fill="rgb(150,150,150)"/>
<ellipse cx="482" cy="376" rx="15" ry="9" fill="rgb(150,150,150)"/>
<ellipse cx="529" cy="376" rx="15" ry="9" fill="rgb(150,150,150)"/>
<ellipse cx="576" cy="376" rx="15" ry="9" fill="rgb(150,150,150)"/>
<ellipse cx="460" cy="374" rx="5" ry="4" fill="rgb(50,50,50)"/>
<ellipse cx="507" cy="374" rx="5" ry="4" fill="rgb(50,50,50)"/>
<ellipse cx="554" cy="374" rx="5" ry="4" fill="rgb(50,50,50)"/>
<ellipse cx="601" cy="374" rx="5" ry="4" fill="rgb(50,50,50)"/>
<ellipse cx="460" cy="402" rx="5" ry="4" fill="rgb(55,55,55)"/>
<ellipse cx="507" cy="402" rx="5" ry="4" fill="rgb(55,55,55)"/>
<ellipse cx="554" cy="402" rx="5" ry="4" fill="rgb(55,55,55)"/>
<ellipse cx="601" cy="402" rx="5" ry="4" fill="rgb(55,55,55)"/>
<ellipse cx="437" cy="411" rx="14" ry="7" fill="rgb(140,140,140)"/>
<ellipse cx="484" cy="411" rx="14" ry="7" fill="rgb(140,140,140)"/>
<ellipse cx="531" cy="411" rx="14" ry="7" fill="rgb(140,140,140)"/>
<ellipse cx="578" cy="411" rx="14" ry="7" fill="rgb(140,140,140)"/>
</g>
<rect x="228" y="340.2" width="376" height="175.40000000000003" filter="url(#hv2)" style="mix-blend-mode:overlay" opacity="0.35"/>
<rect x="228" y="340.2" width="376" height="175.40000000000003" filter="url(#hh2)" style="mix-blend-mode:overlay" opacity="0.8"/>
<path d="M244.4 340.2V515.6M260.0 340.2V515.6M275.4 340.2V515.6M288.8 340.2V515.6M301.0 340.2V515.6M317.0 340.2V515.6M344.0 340.2V515.6M402.5 340.2V515.6" stroke="#fff" stroke-width="1.3" opacity="0.22" fill="none"/>
<path d="M417.5 340.2V515.6M441.0 340.2V515.6M464.9 340.2V515.6M488.5 340.2V515.6M512.8 340.2V515.6M536.5 340.2V515.6M560.6 340.2V515.6M584.0 340.2V515.6" stroke="#fff" stroke-width="1.8" opacity="0.25" fill="none"/>
</g></g>
<defs><linearGradient id="lg2" x1="0" y1="0" x2="0" y2="1"><stop offset="0" stop-color="#f2f2f2"/><stop offset="1" stop-color="#050505"/></linearGradient></defs>
<rect x="620.7" y="450.7" width="7" height="63.69999999999999" fill="url(#lg2)"/>
<text transform="translate(615.9,479.3) rotate(-90)" font-size="9.8" fill="#58595b" text-anchor="middle">ΔF (Z.)</text>
<text transform="translate(636,463.0) rotate(-90)" font-size="10.5" fill="#333" text-anchor="middle">+1</text>
<text transform="translate(636,498.9) rotate(-90)" font-size="10.5" fill="#333" text-anchor="middle">−1</text>
<text x="231.8" y="532.8" font-size="12.6" fill="#333">2 min</text>
<rect x="235.8" y="535.9" width="23.3" height="1.3" fill="#4d4d4f"/>
<text transform="translate(0.2,584.5) scale(0.88,1)" font-size="18" fill="#231f20">c</text>
<path d="M80.7,600.9V801.5H298.9" stroke="#231f20" stroke-width="1.6" fill="none"/>
<path d="M70.7,601.3H80.7" stroke="#231f20" stroke-width="1.6"/>
<text x="65.4" y="605.8" font-size="12.7" fill="#333" text-anchor="end">−0.2</text>
<path d="M70.7,651.3H80.7" stroke="#231f20" stroke-width="1.6"/>
<text x="65.4" y="655.8" font-size="12.7" fill="#333" text-anchor="end">−0.4</text>
<path d="M70.7,701.6H80.7" stroke="#231f20" stroke-width="1.6"/>
<text x="65.4" y="706.1" font-size="12.7" fill="#333" text-anchor="end">−0.6</text>
<path d="M70.7,751.6H80.7" stroke="#231f20" stroke-width="1.6"/>
<text x="65.4" y="756.1" font-size="12.7" fill="#333" text-anchor="end">−0.8</text>
<path d="M70.7,801.5H80.7" stroke="#231f20" stroke-width="1.6"/>
<text x="65.4" y="806.0" font-size="12.7" fill="#333" text-anchor="end">−1.0</text>
<path d="M130.7,801.5V811.1" stroke="#231f20" stroke-width="1.6"/>
<text x="130.7" y="827.1" font-size="12.7" fill="#333" text-anchor="middle">0.0</text>
<path d="M214.2,801.5V811.1" stroke="#231f20" stroke-width="1.6"/>
<text x="214.2" y="827.1" font-size="12.7" fill="#333" text-anchor="middle">0.5</text>
<path d="M298.2,801.5V811.1" stroke="#231f20" stroke-width="1.6"/>
<text x="298.2" y="827.1" font-size="12.7" fill="#333" text-anchor="middle">1.0</text>
<text x="176.4" y="845" font-size="13" fill="#333" text-anchor="middle">Reliability of tuning to visual motion</text>
<text transform="translate(26.2,708.3) rotate(-90)" font-size="13" fill="#333" text-anchor="middle">Most negative correlation</text>
<path d="M119.4 632.4h0M120.8 642.2h0M113.8 652.6h0M101.7 686.0h0M109.8 683.6h0M115.2 690.5h0M125.7 690.9h0M132.6 690.4h0M136.9 683.6h0M140.3 694.2h0M121.6 698.7h0M148.9 705.4h0M104.1 713.0h0M110.9 717.6h0M117.0 722.1h0M114.1 725.3h0M115.7 724.5h0M123.7 724.2h0M134.6 721.2h0M106.9 730.5h0M113.3 735.3h0M118.9 736.6h0M116.5 738.2h0M124.5 735.0h0M126.9 737.9h0M130.1 733.8h0M108.5 739.3h0M112.5 743.0h0M114.1 742.2h0M114.9 743.8h0M113.3 744.6h0M123.7 741.7h0M128.5 743.0h0M129.3 741.7h0M136.9 740.1h0M139.5 744.3h0M118.9 747.8h0M127.3 748.9h0M131.0 748.1h0M121.8 752.0h0M125.7 753.4h0M132.1 753.9h0M133.7 753.9h0M156.6 755.0h0M171.9 757.8h0M179.4 760.0h0M183.9 757.8h0M193.6 759.4h0M195.2 758.7h0M108.5 759.9h0M110.9 760.7h0M115.7 760.7h0M120.5 759.1h0M122.9 760.7h0M126.9 760.3h0M128.2 760.3h0M115.7 764.7h0M112.5 765.5h0M110.9 768.4h0M114.9 767.1h0M125.3 766.3h0M127.3 767.9h0M121.3 769.5h0M119.7 771.1h0M126.1 771.1h0M130.1 770.3h0M136.6 769.7h0M112.5 773.5h0M116.5 773.8h0M118.9 772.7h0M151.3 772.2h0M232.3 699.6h0" stroke="#0c8a44" stroke-width="4.20" stroke-linecap="round" fill="none"/>
<path d="M181.8 614.0h0M187.1 622.3h0M181.8 631.6h0M184.8 633.9h0M188.4 632.0h0M193.0 634.3h0M181.8 639.2h0M203.6 630.9h0M217.3 626.9h0M227.1 625.0h0M229.6 618.3h0M210.0 640.0h0M214.6 643.6h0M221.8 637.9h0M234.5 634.5h0M237.9 637.9h0M234.3 648.5h0M198.8 650.4h0M208.1 655.0h0M199.0 659.5h0M192.4 667.3h0M270.0 627.8h0M267.0 660.9h0M255.2 669.6h0M260.1 671.9h0M260.1 675.1h0M252.6 675.1h0M272.7 670.0h0M274.0 675.9h0M276.7 674.7h0M267.2 677.9h0M260.9 680.4h0M280.6 681.5h0M235.3 670.7h0M207.6 685.9h0M222.4 683.3h0M219.7 691.2h0M263.0 686.1h0M262.4 690.3h0M268.1 692.6h0M261.7 695.8h0M245.5 689.1h0M222.4 699.0h0M217.4 702.0h0M236.8 708.5h0M249.1 706.0h0M258.6 708.9h0M259.0 710.2h0M252.0 717.8h0M260.9 722.5h0M260.9 724.1h0M278.6 724.1h0" stroke="#6e146e" stroke-width="4.20" stroke-linecap="round" fill="none"/>
<text transform="translate(321.8,585.6) scale(0.88,1)" font-size="18" fill="#231f20">e</text>
<text x="647.5" y="578.7" font-size="13.3" fill="#7a2a7e" text-anchor="end">Visually tuned neurons</text>
<text x="647.5" y="592" font-size="13.3" fill="#1a9a6c" text-anchor="end">Head direction neurons</text>
<path d="M402.8,600.9V801.2H620.3" stroke="#231f20" stroke-width="1.6" fill="none"/>
<path d="M392.8,601.3H402.8" stroke="#231f20" stroke-width="1.6"/>
<text x="387.5" y="605.8" font-size="12.7" fill="#333" text-anchor="end">−0.2</text>
<path d="M392.8,651.3H402.8" stroke="#231f20" stroke-width="1.6"/>
<text x="387.5" y="655.8" font-size="12.7" fill="#333" text-anchor="end">−0.4</text>
<path d="M392.8,701.6H402.8" stroke="#231f20" stroke-width="1.6"/>
<text x="387.5" y="706.1" font-size="12.7" fill="#333" text-anchor="end">−0.6</text>
<path d="M392.8,751.6H402.8" stroke="#231f20" stroke-width="1.6"/>
<text x="387.5" y="756.1" font-size="12.7" fill="#333" text-anchor="end">−0.8</text>
<path d="M392.8,801.2H402.8" stroke="#231f20" stroke-width="1.6"/>
<text x="387.5" y="805.7" font-size="12.7" fill="#333" text-anchor="end">−1.0</text>
<path d="M402.8,801.2V810.8000000000001" stroke="#231f20" stroke-width="1.6"/>
<text x="402.8" y="826.8000000000001" font-size="12.7" fill="#333" text-anchor="middle">0.0</text>
<path d="M457.0,801.2V810.8000000000001" stroke="#231f20" stroke-width="1.6"/>
<text x="457.0" y="826.8000000000001" font-size="12.7" fill="#333" text-anchor="middle">0.2</text>
<path d="M510.9,801.2V810.8000000000001" stroke="#231f20" stroke-width="1.6"/>
<text x="510.9" y="826.8000000000001" font-size="12.7" fill="#333" text-anchor="middle">0.4</text>
<path d="M565.2,801.2V810.8000000000001" stroke="#231f20" stroke-width="1.6"/>
<text x="565.2" y="826.8000000000001" font-size="12.7" fill="#333" text-anchor="middle">0.6</text>
<path d="M619.5,801.2V810.8000000000001" stroke="#231f20" stroke-width="1.6"/>
<text x="619.5" y="826.8000000000001" font-size="12.7" fill="#333" text-anchor="middle">0.8</text>
<text x="511.1" y="845" font-size="13" fill="#333" text-anchor="middle">Max correlation with visual motion</text>
<text transform="translate(352.2,699.7) rotate(-90)" font-size="13" fill="#333" text-anchor="middle">Most negative correlation</text>
<path d="M421.9 632.4h0M421.9 642.3h0M425.9 652.6h0M425.9 683.6h0M434.5 683.6h0M434.2 686.1h0M417.6 690.5h0M437.1 694.2h0M441.9 690.8h0M447.8 690.5h0M417.7 690.6h0M441.8 691.0h0M447.5 690.6h0M437.1 694.1h0M433.4 698.8h0M461.4 705.3h0M484.7 699.6h0M432.2 713.1h0M439.1 717.4h0M418.7 722.1h0M427.9 721.1h0M426.1 724.3h0M431.6 725.8h0M442.6 725.2h0M434.0 730.5h0M422.4 733.9h0M424.4 735.4h0M432.2 734.6h0M436.7 735.0h0M439.7 736.6h0M421.3 738.0h0M437.7 740.1h0M440.8 738.0h0M449.6 738.6h0M460.2 740.1h0M459.8 742.1h0M414.6 744.2h0M419.7 744.2h0M423.0 742.1h0M440.8 744.2h0M444.2 743.5h0M447.9 748.2h0M450.4 747.6h0M454.0 748.7h0M448.9 751.3h0M446.9 753.8h0M435.2 753.4h0M465.7 755.0h0M472.0 757.4h0M476.1 757.9h0M479.0 759.9h0M484.3 759.9h0M486.3 758.7h0M434.2 760.5h0M439.7 760.5h0M443.8 760.5h0M447.3 759.5h0M449.6 760.9h0M431.2 766.0h0M436.7 766.6h0M440.8 767.7h0M438.7 768.7h0M446.9 765.2h0M448.9 768.7h0M452.6 767.7h0M447.9 770.7h0M451.0 771.7h0M460.2 769.7h0M460.2 772.2h0M433.6 773.8h0M439.7 773.8h0" stroke="#0c8a44" stroke-width="4.20" stroke-linecap="round" fill="none"/>
<path d="M463.1 614.0h0M468.2 622.3h0M496.8 618.4h0M491.7 625.1h0M484.6 627.7h0M476.1 626.7h0M472.9 630.9h0M457.1 631.8h0M460.2 634.3h0M463.4 632.1h0M467.3 634.3h0M455.4 639.1h0M467.3 639.9h0M467.6 650.5h0M460.5 654.9h0M464.4 659.4h0M463.7 667.4h0M501.4 637.7h0M503.7 637.7h0M501.8 643.4h0M504.7 648.5h0M488.2 670.8h0M499.0 669.5h0M498.0 675.2h0M491.4 685.7h0M497.3 686.0h0M479.2 689.1h0M492.6 691.2h0M494.8 698.5h0M519.2 634.5h0M547.8 660.9h0M542.9 670.0h0M512.9 671.7h0M514.8 675.0h0M508.2 675.0h0M513.1 680.7h0M513.9 690.3h0M533.8 675.9h0M532.8 678.2h0M545.2 681.6h0M549.0 683.5h0M545.0 695.8h0M551.4 692.6h0M494.5 699.0h0M499.0 709.8h0M501.5 708.4h0M497.6 717.6h0M505.1 722.7h0M506.4 723.9h0M538.9 701.9h0M553.8 706.0h0M565.5 708.9h0M572.2 724.1h0" stroke="#6e146e" stroke-width="4.20" stroke-linecap="round" fill="none"/>
<text transform="translate(0.2,878.8) scale(0.88,1)" font-size="18" fill="#231f20">d</text>
<path d="M81,905V1105.3H290.2" stroke="#231f20" stroke-width="1.6" fill="none"/>
<path d="M71,937.3H81" stroke="#231f20" stroke-width="1.6"/>
<text x="65.7" y="941.8" font-size="12.7" fill="#333" text-anchor="end">−0.2</text>
<path d="M71,983.8H81" stroke="#231f20" stroke-width="1.6"/>
<text x="65.7" y="988.3" font-size="12.7" fill="#333" text-anchor="end">−0.4</text>
<path d="M71,1030H81" stroke="#231f20" stroke-width="1.6"/>
<text x="65.7" y="1034.5" font-size="12.7" fill="#333" text-anchor="end">−0.6</text>
<path d="M71,1076.2H81" stroke="#231f20" stroke-width="1.6"/>
<text x="65.7" y="1080.7" font-size="12.7" fill="#333" text-anchor="end">−0.8</text>
<path d="M128.3,1105.3V1114.8999999999999" stroke="#231f20" stroke-width="1.6"/>
<text x="128.3" y="1130.8999999999999" font-size="12.7" fill="#333" text-anchor="middle">0.0</text>
<path d="M208.9,1105.3V1114.8999999999999" stroke="#231f20" stroke-width="1.6"/>
<text x="208.9" y="1130.8999999999999" font-size="12.7" fill="#333" text-anchor="middle">0.5</text>
<path d="M289.5,1105.3V1114.8999999999999" stroke="#231f20" stroke-width="1.6"/>
<text x="289.5" y="1130.8999999999999" font-size="12.7" fill="#333" text-anchor="middle">1.0</text>
<text x="184.4" y="1149.8" font-size="13" fill="#333" text-anchor="middle">Reliability of tuning to visual motion</text>
<text transform="translate(29.9,1004.5) rotate(-90)" font-size="13" fill="#333" text-anchor="middle">Most negative correlation</text>
<path d="M116.8 1070.3h0M115.1 1069.9h0M161.5 1076.0h0M158.4 1056.0h0M136.4 1066.9h0M138.4 1070.3h0M146.3 1073.6h0M106.6 1078.4h0M129.5 1061.5h0M128.9 1073.2h0M281.8 1080.4h0M139.7 1078.0h0M179.9 1078.6h0M158.4 1062.5h0M235.5 1028.0h0M167.0 1064.7h0M259.7 1034.4h0M149.1 1062.8h0M117.9 1094.5h0M158.2 1076.3h0M182.5 1077.9h0M123.7 1066.8h0M144.7 1065.5h0M163.1 1078.3h0M119.8 1035.4h0M112.0 1083.7h0M144.0 1089.0h0M143.5 1074.9h0M131.8 1067.1h0M129.3 1079.3h0M213.0 1066.5h0M111.9 974.8h0M233.7 1044.7h0M142.5 1046.1h0M189.3 1064.3h0M136.9 1073.3h0M161.8 1069.2h0M144.2 1090.5h0M142.3 1077.3h0M160.4 1074.2h0M164.2 1059.4h0M158.9 1067.5h0M143.1 1082.3h0M155.4 1080.0h0M160.1 1078.3h0M163.7 1016.5h0M135.6 1068.1h0M150.4 1070.5h0M110.6 1072.9h0M154.7 1071.0h0M142.1 1048.5h0M134.8 1053.1h0M204.8 1073.9h0M237.0 1055.9h0M164.8 1060.6h0M124.5 1080.4h0M173.5 1078.2h0M277.6 1073.7h0M143.3 1057.2h0M150.9 1067.3h0M175.3 1073.6h0M150.2 1087.1h0M108.8 1055.4h0M164.6 1071.6h0M149.9 1077.1h0M223.9 1057.6h0M121.3 1017.3h0M109.9 1079.0h0M237.6 1053.8h0M141.2 1076.2h0M168.2 1053.6h0M162.8 1068.4h0M129.2 1073.6h0M119.6 1078.6h0M129.2 1089.4h0M261.7 1034.5h0M150.5 1068.8h0M128.9 1067.1h0M157.8 1071.7h0M186.9 1074.1h0M150.3 1073.5h0M116.7 1075.9h0M165.6 1046.2h0M153.8 1082.3h0M170.8 1071.8h0M153.6 1078.6h0M137.3 1059.0h0M146.9 1060.5h0M153.8 1068.5h0M227.8 1036.7h0M112.0 1054.7h0M169.1 1067.0h0M155.8 1087.1h0M141.7 1021.6h0M264.9 1077.4h0M182.6 1059.9h0M166.6 1076.6h0M148.9 1058.9h0M148.9 1067.4h0M155.3 1079.4h0M153.9 1075.6h0M139.0 1051.2h0M170.2 1066.9h0M188.3 1042.8h0M137.1 1087.4h0M137.9 1080.5h0M162.9 1005.5h0M154.3 1083.4h0M141.9 1069.5h0M215.0 1054.8h0M136.6 1002.8h0M171.1 1076.3h0M134.7 1071.9h0M165.0 1050.3h0M140.1 1077.2h0M156.3 1068.5h0M160.3 1072.0h0M138.5 1062.5h0M138.4 1067.6h0M164.9 1079.7h0M154.7 1083.2h0M129.9 1078.6h0M154.0 1077.0h0M128.6 1061.1h0M139.8 1033.1h0M143.7 1051.9h0M202.6 1049.1h0M196.5 1094.9h0M108.7 981.9h0M145.4 1075.7h0M127.4 1027.6h0M118.6 1080.2h0M156.1 1086.2h0M243.0 1035.7h0M147.3 1058.6h0M149.1 1074.7h0M173.1 1074.1h0M134.8 1068.5h0M158.0 1090.3h0M279.3 1035.7h0M169.4 1067.5h0M134.5 1081.4h0M119.0 1077.1h0M133.2 1051.7h0M111.4 1075.9h0M150.5 1076.9h0M145.8 1033.4h0M121.4 1079.0h0M185.5 1068.9h0M176.8 1061.8h0M154.9 1061.2h0M157.2 1019.7h0M148.1 1060.3h0M164.2 1075.1h0M166.6 1071.7h0M134.6 1065.6h0M224.3 1050.6h0M121.4 1065.5h0M177.5 1071.0h0M119.0 1059.6h0M140.2 1073.0h0M138.9 1074.4h0M169.1 1063.6h0M173.9 1068.2h0M268.6 1078.6h0M115.6 1060.8h0M157.8 1068.4h0M158.5 1081.7h0M116.7 1068.6h0M138.8 1085.9h0M138.7 1087.3h0M162.4 1071.7h0M166.4 1085.7h0M175.2 1060.5h0M165.3 1064.8h0M162.2 1069.7h0M178.5 1064.5h0M186.2 1068.4h0M169.1 1080.7h0M148.1 1074.3h0M162.9 1079.0h0M129.5 1073.3h0M112.6 1079.8h0M146.8 1076.1h0M151.0 1013.9h0M141.5 1086.8h0M119.9 1062.9h0M152.1 1078.4h0M278.9 1082.7h0M162.2 1074.1h0M138.7 1067.6h0M154.4 1073.0h0M116.5 1066.4h0M131.0 1072.0h0M144.6 1051.0h0M175.2 1084.1h0M147.8 1063.8h0M144.0 1090.1h0M108.3 1045.0h0M111.3 1065.8h0M209.5 1052.7h0M152.3 1068.0h0M122.7 1066.3h0M134.5 1088.3h0M153.4 1086.1h0M134.3 1086.9h0M143.5 1076.7h0M142.8 1061.1h0M138.8 1057.8h0M241.3 1089.2h0M152.1 1062.5h0M116.1 992.0h0M131.6 1079.0h0M155.6 1083.7h0M162.5 1086.9h0M118.3 963.8h0M118.6 1067.3h0M223.4 1081.9h0M108.9 1065.6h0M177.3 1079.4h0M105.5 1014.6h0M145.2 1055.8h0M152.9 1088.6h0M148.0 1060.5h0M178.2 1067.9h0M111.8 1067.1h0M165.5 1065.5h0M143.3 1032.8h0M154.2 1035.8h0M222.7 1063.1h0M153.4 1060.6h0M168.0 1084.7h0M258.9 1040.1h0M129.7 1075.0h0M186.7 1048.7h0M123.2 1056.4h0M168.5 1075.4h0M151.0 1069.5h0M152.2 1077.7h0M140.0 1057.2h0M153.1 1078.8h0M146.9 1061.9h0M156.3 1060.1h0M183.1 1055.9h0M147.3 1074.3h0M232.7 1053.8h0M128.5 1070.2h0M269.3 1044.3h0M125.1 1072.7h0M139.1 1057.0h0M156.7 1078.7h0M164.1 1061.7h0M163.3 1070.6h0M168.1 1085.6h0M164.5 1052.7h0M105.4 984.4h0M166.6 1077.9h0M174.1 1067.1h0M119.7 1027.5h0M154.3 1068.7h0M113.5 1007.1h0M168.8 1087.6h0M142.7 1074.9h0M111.9 1074.4h0M142.0 1066.4h0M142.5 963.0h0M142.0 1063.5h0M142.9 1071.4h0M274.6 1042.4h0M140.6 1080.9h0M140.0 1080.1h0M137.5 1064.0h0M143.7 1061.7h0M217.9 1076.5h0M150.5 1066.9h0M173.5 1079.8h0M155.5 1080.6h0M138.5 969.5h0M152.2 1075.5h0M190.4 1081.4h0M114.3 1069.9h0M155.4 1061.6h0M142.7 1072.0h0M129.9 1058.8h0M136.2 1079.4h0M162.8 1077.3h0M155.9 1052.0h0M166.4 1086.0h0M217.0 1051.6h0M167.9 1083.9h0M264.1 1072.9h0M112.8 1040.4h0M148.9 1075.1h0M115.8 1063.5h0M164.8 1066.7h0M188.2 1090.9h0M168.7 1063.5h0M130.0 1068.0h0M244.5 1082.8h0M175.5 1084.6h0M159.0 1066.3h0M152.8 1065.1h0M151.0 1072.2h0M134.4 1085.6h0M124.3 1080.5h0M101.1 978.6h0M159.5 1079.1h0M158.3 1082.3h0M128.0 1067.1h0M177.9 1074.7h0M174.8 1067.4h0M119.9 1078.8h0M147.9 1053.5h0M188.0 1070.3h0M126.6 998.0h0M168.3 1063.8h0M179.3 1076.7h0M228.4 1068.0h0M136.0 1084.3h0M163.0 1079.1h0M140.3 1073.1h0M130.0 1069.7h0M133.2 1075.7h0M161.4 1062.8h0M114.4 1024.0h0M154.2 1068.3h0M165.5 1080.2h0M183.0 1044.3h0M142.4 1074.4h0M153.0 995.0h0M140.2 1069.4h0M161.2 1065.6h0M151.0 1079.5h0M238.6 1041.1h0M123.0 1001.2h0M136.3 1065.9h0M103.3 970.8h0M127.8 1091.8h0M146.4 973.2h0M168.1 1066.7h0M149.2 1079.9h0M150.6 1077.3h0M126.1 1055.0h0M122.0 1052.4h0M148.4 1079.8h0M224.4 1046.5h0M119.4 1068.7h0M131.4 1066.0h0M149.1 1066.8h0M146.6 1063.1h0M132.5 1069.0h0M146.1 1060.7h0M214.0 1040.1h0M133.3 1063.2h0M151.5 1058.6h0M164.8 1057.8h0M159.0 1069.1h0M161.3 1083.4h0M110.7 1077.6h0M150.1 1063.6h0M151.2 1084.6h0M174.9 1074.1h0M148.4 1072.6h0M124.2 1075.5h0M148.6 1067.1h0M218.3 1064.4h0M146.9 1076.9h0M164.4 1073.4h0M129.0 1069.7h0M180.6 1081.3h0M145.6 1077.2h0M164.8 1054.9h0M128.3 1076.3h0M152.3 1070.4h0M111.1 1075.8h0M148.7 1093.0h0M131.5 1076.5h0M151.2 1072.3h0M273.2 1074.0h0M145.4 1084.3h0M167.7 1073.6h0M164.8 1074.5h0M165.4 1060.4h0M130.1 994.6h0M124.8 1026.9h0M137.9 1076.5h0M153.6 1077.1h0M127.5 1072.8h0M179.1 1070.3h0M113.3 993.8h0M138.5 1061.7h0M159.9 1071.8h0M107.0 1085.8h0M143.6 1080.9h0M165.2 1067.2h0M138.0 1048.4h0M136.5 1080.3h0M160.4 1064.7h0M138.7 1070.6h0M146.5 1074.0h0M141.4 1069.5h0M121.5 1077.0h0M141.4 1063.1h0M139.8 1065.9h0M139.4 1087.3h0M112.6 1084.8h0M140.7 1080.3h0M150.7 1071.6h0M109.4 1063.3h0M256.0 1070.2h0M196.4 1074.2h0M188.6 1065.1h0M139.6 1067.6h0M140.0 1073.3h0M133.8 1081.9h0M158.1 1079.9h0M162.3 1084.5h0M162.8 1076.3h0M163.0 1082.3h0M113.7 1065.7h0M129.8 1077.3h0M139.9 1073.0h0M124.8 1064.9h0M145.9 1073.3h0M168.1 1062.5h0M139.0 1065.1h0M124.7 1060.5h0M130.7 1075.3h0M157.2 993.7h0M185.4 1037.1h0M138.5 1080.3h0M250.5 1041.5h0M139.2 1064.0h0M124.8 1068.1h0M114.1 1071.6h0M126.0 1061.5h0M163.0 989.7h0M160.4 1065.0h0M134.7 1055.9h0M234.1 1038.7h0M117.7 1071.8h0M137.9 1088.0h0M147.4 1078.9h0M157.6 1082.3h0M153.7 1072.5h0M143.0 1066.1h0M149.5 1059.1h0M175.6 1055.2h0M145.4 1083.5h0M118.8 1081.4h0M141.8 1061.9h0M148.5 1050.8h0M136.9 996.9h0M116.3 1057.2h0M108.1 993.3h0M147.7 1077.7h0M249.9 1071.3h0M131.0 1063.2h0M244.3 1031.3h0M150.8 1073.1h0M143.5 1073.1h0M124.8 1072.1h0M159.1 1051.9h0M122.3 1080.2h0M167.7 1069.8h0M108.2 1065.6h0M150.7 1075.5h0M198.6 1060.7h0M144.1 1072.9h0M165.1 1082.5h0" stroke="#0c8a44" stroke-width="4.20" stroke-linecap="round" fill="none"/>
<path d="M221.4 1018.5h0M247.9 1009.2h0M231.7 1019.1h0M180.9 982.6h0M204.5 976.8h0M176.8 979.8h0M179.6 961.6h0M212.3 979.1h0M236.3 988.7h0M206.8 969.9h0M247.9 1021.2h0M177.0 948.8h0M207.7 994.4h0M262.6 992.5h0M215.9 995.6h0M190.3 980.5h0M210.8 1037.4h0M175.6 1000.7h0M184.9 1024.8h0M167.5 955.6h0M205.3 1015.1h0M169.4 985.8h0M188.7 956.5h0M255.1 1060.5h0M265.3 1015.5h0M191.2 997.0h0M221.7 1013.5h0M226.4 1024.8h0M198.1 952.1h0M247.0 1024.5h0M214.7 949.8h0M231.9 1013.1h0M276.2 1068.7h0M260.1 1005.7h0M205.7 970.8h0M253.5 1002.9h0M274.2 1041.6h0M273.4 1060.2h0M228.8 1040.2h0M206.4 961.5h0M229.6 1012.6h0M178.3 998.2h0M193.2 977.1h0M202.8 1023.1h0M248.6 1035.3h0M223.0 983.2h0M185.1 1020.1h0M205.0 949.3h0M197.4 943.2h0M224.6 1025.2h0M183.0 986.7h0M237.6 1049.1h0M193.7 985.8h0M268.1 1047.2h0M191.0 998.8h0M245.8 1019.4h0M224.5 969.5h0M190.8 999.8h0M178.5 1015.8h0M266.7 1010.4h0M213.0 972.6h0M210.3 975.9h0M188.2 952.0h0M270.4 1045.5h0M207.1 1031.2h0M269.4 1047.5h0M166.0 960.9h0M247.3 998.5h0M218.2 997.0h0M243.1 1042.1h0M225.1 1014.9h0M220.5 1014.6h0M210.8 978.5h0M226.5 1028.0h0M246.9 980.4h0M212.9 1010.3h0M255.7 1048.4h0M229.8 962.1h0M257.1 1064.0h0M207.6 959.2h0M191.1 989.6h0M252.9 1046.3h0M187.0 1013.0h0M228.9 969.7h0M191.4 973.6h0M253.7 1014.3h0M184.3 1000.4h0M236.3 1005.2h0M209.5 961.1h0M203.6 992.9h0M202.6 970.6h0M199.5 964.8h0M243.9 975.5h0M226.4 1016.8h0M175.4 951.3h0M216.9 956.6h0M187.1 1015.3h0M241.4 1007.3h0M211.2 986.8h0M207.2 1028.0h0M227.7 1029.9h0M224.7 1019.3h0M238.8 1027.9h0M206.7 960.6h0M282.0 1058.9h0M214.8 961.9h0M194.9 978.3h0M209.7 990.9h0M181.0 947.6h0M268.8 1060.1h0M275.0 1036.3h0M230.9 1040.6h0M195.1 998.1h0M266.0 1048.5h0M242.2 981.9h0M165.6 991.5h0M207.2 976.0h0M227.2 1002.7h0M266.6 1057.9h0M230.6 999.8h0M260.9 997.1h0M190.0 977.2h0M261.4 1033.2h0M227.5 1038.2h0M246.3 1053.4h0M243.0 969.9h0M268.8 1071.4h0M190.5 976.4h0M233.0 1025.7h0M255.4 1046.0h0M223.3 978.5h0M203.0 1003.4h0M229.3 997.4h0M170.1 962.5h0M171.1 938.9h0M263.8 1022.1h0M281.0 1055.4h0M244.2 989.2h0M188.1 946.2h0M273.2 1063.8h0M226.3 1021.1h0M220.6 1038.1h0M267.0 1021.9h0M221.0 983.9h0M182.0 943.3h0M184.6 1013.0h0M247.1 995.2h0M216.4 974.6h0M202.9 1006.9h0M183.9 948.5h0M252.8 990.0h0M237.9 1024.4h0M196.9 1000.6h0M183.0 954.9h0M279.6 1054.9h0M245.4 980.4h0M178.5 943.0h0M180.3 959.3h0M188.5 982.4h0M276.3 1048.6h0M184.6 958.7h0M260.7 1061.1h0M166.1 965.2h0M172.8 953.9h0M236.2 1032.5h0M279.8 1060.8h0M196.6 1024.9h0M257.5 988.7h0M269.2 1061.2h0M211.3 1024.9h0M243.5 1024.2h0M182.3 983.5h0M247.6 1032.9h0M199.7 1030.1h0M201.8 974.8h0M201.5 1027.7h0M179.1 1012.8h0M219.9 968.7h0M201.1 966.7h0M176.3 979.9h0M263.1 1031.8h0M190.9 928.0h0M260.4 998.3h0M173.8 944.7h0M206.3 988.9h0M179.9 939.4h0M181.5 983.4h0M257.4 1026.4h0M214.9 978.4h0M234.3 1017.0h0M234.1 1000.3h0M212.8 1013.7h0M222.2 996.8h0M181.0 940.1h0M184.0 1002.3h0M190.5 1008.5h0M213.6 982.1h0M184.9 1022.6h0M224.1 1022.6h0M251.0 1002.9h0M218.6 1013.4h0M219.2 1018.5h0M241.6 1026.3h0M178.2 973.4h0M218.0 1041.7h0M231.6 1023.2h0M188.6 950.4h0M223.1 985.0h0M258.7 1051.4h0M256.9 1013.3h0M233.6 981.5h0M178.0 973.3h0M190.2 953.9h0M224.7 1011.6h0M282.4 1051.2h0M226.3 1016.8h0M237.0 988.7h0M235.7 1012.7h0M267.3 1011.4h0M209.0 1002.9h0M175.8 985.0h0M256.9 1022.1h0M177.4 959.0h0M211.6 959.6h0M254.8 1036.8h0M196.0 989.3h0M246.1 1016.6h0M202.8 978.7h0M273.2 1028.1h0M184.4 1022.2h0M267.8 1009.3h0M271.5 1045.8h0M187.3 1012.5h0M255.3 993.3h0M219.3 1039.3h0M208.9 1032.7h0M236.7 1043.3h0M263.8 1044.8h0M215.5 1028.6h0M214.0 1005.1h0M202.9 986.2h0M238.4 1011.3h0M227.3 986.6h0M184.4 1016.7h0M217.9 966.8h0M242.7 1039.2h0M273.5 1028.2h0M197.0 977.2h0M173.7 947.0h0M197.5 983.3h0M176.1 1008.6h0M243.9 1002.5h0M215.9 999.4h0M224.0 979.9h0M192.6 947.4h0M231.7 959.6h0M277.1 1053.7h0M264.4 1004.7h0M259.3 1067.5h0M226.4 1022.7h0M270.2 1043.2h0M273.7 1047.9h0M247.1 1036.6h0M233.1 994.2h0M204.7 993.8h0M201.8 1019.2h0M166.7 966.9h0M243.1 985.4h0M165.4 985.8h0M262.7 1013.3h0M273.5 1059.8h0M207.8 965.9h0M272.8 1046.2h0M235.7 1002.4h0M170.2 996.9h0M190.5 1010.2h0M182.4 964.0h0M257.7 1005.6h0M165.7 978.1h0M250.8 1005.9h0M243.2 1059.0h0M174.8 993.9h0M194.0 1008.9h0M220.1 1013.8h0M261.5 992.8h0M215.0 1001.8h0M211.0 992.3h0M266.4 1047.5h0M228.4 980.9h0M258.7 1012.4h0M265.1 1032.3h0M244.4 1002.6h0M204.9 959.1h0M196.9 967.2h0M194.3 1001.9h0M172.8 966.6h0M265.8 1041.0h0M170.9 983.7h0M202.1 1032.8h0M273.8 1033.2h0M172.0 973.0h0M169.6 960.7h0M207.9 976.7h0M255.3 994.9h0M245.5 1023.3h0M181.0 942.0h0M190.0 950.1h0M224.0 994.8h0M194.1 963.4h0M223.4 1039.2h0M194.3 948.4h0M202.5 966.3h0M237.7 991.9h0M196.4 974.9h0M180.2 989.2h0M250.0 1013.0h0M232.0 967.9h0M264.5 1031.2h0M206.0 1011.7h0M266.7 1067.2h0M234.1 978.9h0M184.2 974.1h0M180.7 961.8h0M241.0 971.7h0M254.2 983.5h0M195.0 994.1h0M242.8 1035.5h0M230.2 994.7h0M200.7 994.6h0M175.0 948.9h0M265.2 1069.2h0M255.9 1016.6h0M253.3 1063.5h0M190.8 973.5h0M256.8 1042.1h0M219.8 984.8h0M185.9 1027.6h0M206.6 1038.5h0M213.3 952.4h0M257.0 1022.3h0M190.2 983.1h0M256.0 1016.7h0M197.2 967.8h0M242.6 1026.5h0M226.5 1001.2h0M255.5 1029.3h0M195.7 986.8h0M198.8 1011.1h0M241.6 1033.3h0M181.7 955.2h0M253.9 986.2h0M266.5 1059.3h0M240.5 1022.2h0M197.7 972.1h0M171.2 965.1h0M232.4 1015.7h0M197.2 974.7h0M177.0 957.4h0M204.4 1013.8h0M275.0 1043.9h0M169.4 921.7h0M249.1 1029.3h0M180.2 1005.7h0M213.8 968.2h0M188.3 1022.2h0M187.7 1028.0h0M217.0 1026.3h0M188.7 1003.9h0M187.2 997.4h0M262.9 1044.2h0M245.0 1029.2h0M196.5 956.3h0M216.6 966.3h0M252.6 1052.9h0M261.1 1036.7h0M193.9 979.6h0M231.1 980.3h0M189.9 1016.7h0M192.7 979.5h0M200.9 965.4h0M175.1 966.2h0M207.5 1021.9h0M203.9 946.5h0M170.8 921.2h0M208.5 946.4h0M166.0 968.3h0M187.5 983.9h0M278.0 1068.1h0M255.7 1049.8h0M209.3 1031.9h0M252.8 1059.2h0M186.4 1006.4h0M279.6 1032.8h0M208.8 1002.6h0M229.4 1033.0h0M175.2 969.4h0M186.8 1002.6h0M278.2 1060.9h0M186.8 955.0h0M182.7 970.3h0M228.0 1035.0h0M240.1 982.9h0M243.0 1027.4h0M222.5 954.4h0M240.7 1042.9h0M175.0 1016.1h0M264.2 1002.3h0M167.1 1006.9h0M191.6 1010.0h0M180.7 1002.9h0M192.4 974.8h0M208.5 1035.5h0M258.4 1056.0h0M192.3 952.9h0M177.1 993.2h0M192.3 1014.5h0M255.4 1057.1h0M181.8 945.1h0M193.8 1010.4h0M223.8 972.7h0M270.2 1021.9h0M214.2 1044.4h0M225.0 1049.1h0M228.4 1039.0h0M226.6 993.7h0M202.9 1039.1h0M251.4 1062.9h0M267.1 1008.2h0M275.2 1038.5h0M202.3 957.7h0M184.1 948.0h0M250.1 1043.8h0M195.9 1022.1h0M236.7 1019.9h0M274.0 1023.8h0M268.1 1051.1h0M181.1 957.5h0M218.2 1000.2h0M175.6 972.8h0M184.3 1019.8h0M281.9 1055.8h0M201.2 1015.5h0M194.7 1019.5h0M207.3 974.4h0M191.3 1029.4h0M197.3 972.6h0M197.4 936.5h0M224.4 1043.5h0M174.0 960.6h0M248.3 1062.7h0M237.4 1014.5h0M269.1 1063.5h0M187.7 949.4h0M243.8 1028.9h0M191.1 979.9h0M195.3 988.3h0M208.9 1003.2h0M184.8 953.8h0M168.7 952.4h0M171.1 1007.4h0M210.8 1039.1h0M236.5 1028.0h0M171.7 959.6h0M234.1 998.8h0M217.9 949.5h0M257.6 1046.1h0M276.8 1056.7h0M259.2 1020.3h0M166.6 963.1h0M204.0 1038.3h0M209.3 954.9h0M211.9 1037.3h0M179.8 971.9h0M184.6 950.8h0M199.1 1022.2h0M171.1 968.8h0M189.1 999.4h0M179.1 952.3h0M250.0 1030.4h0M251.5 996.0h0M187.2 1010.5h0M204.5 954.0h0M265.4 1055.8h0M267.6 1059.5h0M237.9 1048.0h0M240.1 1058.0h0M237.2 1030.4h0M251.0 1006.8h0M267.0 1053.1h0M208.4 971.8h0M198.5 958.9h0M176.9 958.0h0M243.9 988.2h0M181.2 1005.5h0M242.5 1051.7h0M237.3 1024.7h0M193.9 995.5h0M189.0 1019.6h0M236.4 1030.1h0M247.2 1024.1h0M204.9 957.7h0M173.1 931.2h0M196.8 943.4h0M188.1 974.1h0M176.6 978.1h0M171.1 942.2h0M235.5 1013.4h0M227.9 1009.1h0M268.2 1011.3h0M185.9 958.0h0M259.6 1045.8h0M275.1 1058.1h0M176.4 997.4h0M169.7 987.7h0M195.2 941.0h0M180.9 976.2h0M259.7 1004.0h0M256.4 984.1h0M180.1 1023.5h0M218.1 973.3h0M201.3 1008.8h0M173.5 1014.1h0M181.2 1013.7h0M176.7 974.7h0M202.4 945.1h0M261.9 1033.8h0M279.7 1067.6h0M242.4 1021.1h0M264.0 1056.6h0M233.1 1011.8h0M208.5 1009.6h0M216.5 948.7h0M172.4 965.7h0M165.8 969.0h0M241.5 1037.1h0M277.0 1064.2h0M240.7 1003.4h0M212.1 1005.0h0M270.9 1053.0h0M206.0 965.2h0M193.1 1032.9h0M247.6 1046.5h0M191.8 1014.4h0M172.7 1000.3h0M176.7 980.2h0M242.4 972.4h0M257.6 1024.4h0M188.3 984.0h0M213.4 977.4h0M248.4 1051.4h0M268.9 1033.7h0M177.9 934.4h0M227.9 990.7h0M182.5 976.0h0M204.1 981.7h0M212.8 945.5h0M196.3 1030.4h0M227.2 974.2h0M171.0 960.4h0M243.8 1022.6h0M197.5 997.5h0M261.2 1039.6h0M228.4 1044.5h0M279.9 1047.1h0M183.3 984.4h0M175.9 945.7h0M175.8 950.5h0M267.5 1014.4h0M223.7 983.2h0M195.2 987.2h0M239.9 984.1h0M244.5 1032.0h0M229.6 973.7h0M216.1 1018.5h0M174.0 1006.3h0M266.8 1041.9h0M201.7 964.1h0M249.3 1062.9h0M281.7 1059.5h0M249.5 1042.0h0M273.8 1022.2h0M246.7 1003.4h0M252.1 1025.7h0M235.2 1044.1h0M217.6 1037.2h0M250.0 1061.2h0M189.8 995.5h0M183.5 990.4h0M209.3 965.1h0M210.0 1012.5h0M218.8 1044.8h0M252.1 1013.1h0M180.5 951.3h0M176.5 1011.7h0M199.7 1033.5h0M244.5 1002.6h0M168.3 977.7h0M176.2 981.9h0M242.3 978.2h0M212.4 964.6h0M240.4 1038.7h0M185.4 991.4h0M253.5 1045.1h0M212.3 1013.3h0M231.9 988.7h0M240.5 1026.6h0M209.2 1008.2h0M264.1 1068.8h0M196.5 990.8h0M255.8 1010.4h0M202.4 969.0h0M278.7 1041.3h0M257.3 1032.7h0M248.1 1001.2h0M194.5 978.5h0M203.2 1012.8h0M213.8 951.7h0M200.8 938.3h0M242.9 981.9h0M165.8 954.2h0M207.4 958.0h0M239.1 987.9h0M213.7 1030.6h0M245.8 1000.2h0M239.9 1039.3h0M269.6 1058.5h0M186.2 1024.0h0M260.8 1016.0h0M221.6 999.0h0M261.7 1053.3h0M214.9 1045.9h0M243.0 1002.7h0M251.0 1062.9h0M275.3 1049.9h0M166.8 944.1h0M229.1 993.5h0M214.9 976.7h0M211.3 1036.4h0M266.7 1003.0h0M261.1 1036.9h0M177.5 1005.9h0M174.6 1016.9h0M177.8 1006.3h0M176.4 1056.1h0M176.1 1080.0h0M168.1 1030.4h0M174.2 1026.0h0M168.4 1022.1h0M176.2 1070.6h0M175.4 1021.8h0M177.0 1043.4h0M168.0 1039.2h0M170.5 1010.9h0M172.3 1032.0h0M172.4 1074.8h0M170.3 914.4h0M181.0 916.0h0M185.0 917.8h0M262.0 960.0h0" stroke="#6e146e" stroke-width="4.20" stroke-linecap="round" fill="none"/>
<text transform="translate(321.8,878.8) scale(0.88,1)" font-size="18" fill="#231f20">f</text>
<path d="M402.6,905V1105.3H617" stroke="#231f20" stroke-width="1.6" fill="none"/>
<path d="M392.6,936.4H402.6" stroke="#231f20" stroke-width="1.6"/>
<text x="387.3" y="940.9" font-size="12.7" fill="#333" text-anchor="end">−0.2</text>
<path d="M392.6,982.8H402.6" stroke="#231f20" stroke-width="1.6"/>
<text x="387.3" y="987.3" font-size="12.7" fill="#333" text-anchor="end">−0.4</text>
<path d="M392.6,1029.1H402.6" stroke="#231f20" stroke-width="1.6"/>
<text x="387.3" y="1033.6" font-size="12.7" fill="#333" text-anchor="end">−0.6</text>
<path d="M392.6,1075.5H402.6" stroke="#231f20" stroke-width="1.6"/>
<text x="387.3" y="1080.0" font-size="12.7" fill="#333" text-anchor="end">−0.8</text>
<path d="M437.8,1105.3V1114.8999999999999" stroke="#231f20" stroke-width="1.6"/>
<text x="437.8" y="1130.8999999999999" font-size="12.7" fill="#333" text-anchor="middle">0.00</text>
<path d="M482.7,1105.3V1114.8999999999999" stroke="#231f20" stroke-width="1.6"/>
<text x="482.7" y="1130.8999999999999" font-size="12.7" fill="#333" text-anchor="middle">0.25</text>
<path d="M527.2,1105.3V1114.8999999999999" stroke="#231f20" stroke-width="1.6"/>
<text x="527.2" y="1130.8999999999999" font-size="12.7" fill="#333" text-anchor="middle">0.50</text>
<path d="M571.7,1105.3V1114.8999999999999" stroke="#231f20" stroke-width="1.6"/>
<text x="571.7" y="1130.8999999999999" font-size="12.7" fill="#333" text-anchor="middle">0.75</text>
<path d="M616.2,1105.3V1114.8999999999999" stroke="#231f20" stroke-width="1.6"/>
<text x="616.2" y="1130.8999999999999" font-size="12.7" fill="#333" text-anchor="middle">1.00</text>
<text x="511.2" y="1152.4" font-size="13" fill="#333" text-anchor="middle">Max correlation with visual motion</text>
<text transform="translate(351.8,1003.6) rotate(-90)" font-size="13" fill="#333" text-anchor="middle">Most negative correlation</text>
<path d="M476.4 1032.5h0M473.5 959.9h0M473.0 1039.1h0M463.3 1011.7h0M471.8 979.8h0M494.0 1053.1h0M532.6 1048.8h0M527.0 1016.2h0M493.8 989.2h0M493.8 982.4h0M520.5 1014.8h0M519.0 999.9h0M468.0 967.4h0M503.3 974.2h0M496.9 1021.7h0M490.4 957.7h0M500.1 971.8h0M474.0 966.3h0M487.4 949.9h0M489.7 1037.0h0M492.2 1057.2h0M513.0 1018.4h0M510.3 988.5h0M480.1 962.2h0M473.0 949.3h0M515.6 1015.1h0M494.8 986.3h0M480.8 976.3h0M497.9 989.5h0M484.1 1007.0h0M498.4 1030.4h0M501.1 1062.9h0M476.3 1032.3h0M510.0 988.0h0M474.9 978.8h0M470.8 987.4h0M499.0 1014.9h0M484.0 979.1h0M494.4 958.5h0M480.9 992.4h0M486.8 999.7h0M505.6 957.0h0M498.9 990.2h0M485.2 1048.2h0M471.8 1037.0h0M518.0 1066.3h0M508.5 1023.8h0M504.5 1049.7h0M504.4 980.4h0M513.5 1052.5h0M479.6 1042.9h0M461.2 981.6h0M499.4 975.3h0M497.0 1061.8h0M469.8 990.7h0M498.6 965.7h0M460.5 1019.5h0M500.7 1010.4h0M526.0 1027.6h0M499.6 1022.1h0M474.9 1011.6h0M472.5 946.9h0M521.5 997.7h0M533.3 1052.2h0M523.5 1030.1h0M510.3 974.7h0M515.5 1022.4h0M502.2 1044.6h0M508.3 995.9h0M518.6 1063.2h0M488.3 950.5h0M498.8 995.9h0M533.0 1045.9h0M495.7 995.4h0M507.5 1041.2h0M458.2 969.1h0M464.9 983.8h0M480.0 967.5h0M456.8 992.2h0M471.7 961.5h0M507.7 1059.3h0M522.3 1034.6h0M502.9 1010.3h0M522.0 997.6h0M493.0 973.0h0M478.7 1018.2h0M472.4 981.2h0M460.5 999.6h0M508.7 996.7h0M483.8 989.1h0M531.4 1050.5h0M493.0 958.8h0M474.9 960.4h0M487.0 1041.5h0M525.7 1016.1h0M514.3 1067.3h0M511.1 1043.9h0M500.2 1014.5h0M484.7 997.9h0M479.3 1015.0h0M490.9 1052.6h0M507.0 1045.7h0M494.9 1012.4h0M526.5 1037.5h0M525.9 1060.3h0M506.6 965.4h0M474.6 998.7h0M485.7 1039.9h0M491.1 1048.4h0M525.0 1016.1h0M493.1 945.3h0M521.3 1000.3h0M523.9 1022.6h0M502.3 1008.6h0M515.2 972.3h0M461.6 996.7h0M524.6 1007.4h0M531.0 1037.2h0M480.1 1033.9h0M500.4 1021.5h0M475.4 1003.1h0M468.3 1016.0h0M513.7 1037.1h0M540.6 1031.4h0M464.6 1024.9h0M464.3 972.5h0M503.4 1046.3h0M522.5 1017.2h0M502.3 962.9h0M513.1 973.2h0M481.5 1000.9h0M495.1 971.7h0M523.4 1002.6h0M472.2 977.2h0M504.9 1048.9h0M529.7 1018.3h0M493.1 972.5h0M495.0 1033.4h0M477.7 958.7h0M461.2 989.3h0M513.1 1029.7h0M508.1 1058.7h0M522.9 1003.0h0M484.7 1039.5h0M527.9 1055.8h0M509.5 1032.8h0M492.6 966.7h0M469.7 1018.0h0M489.2 946.3h0M498.2 1032.2h0M493.5 949.6h0M512.4 968.4h0M462.5 1023.3h0M466.9 984.4h0M531.3 1040.2h0M525.8 998.0h0M528.5 1030.9h0M502.5 967.8h0M534.7 1053.6h0M495.1 979.8h0M493.2 1027.7h0M471.1 985.1h0M467.2 952.3h0M516.9 993.8h0M469.4 1009.5h0M493.0 993.8h0M487.4 995.8h0M468.2 980.0h0M520.4 1004.7h0M534.7 1023.3h0M486.3 1018.3h0M492.3 1009.7h0M499.9 1010.2h0M471.0 1016.5h0M494.8 989.5h0M469.4 978.4h0M488.2 978.8h0M476.8 964.6h0M482.2 951.7h0M465.0 971.3h0M479.9 1019.2h0M508.5 1002.7h0M485.8 996.1h0M468.1 972.2h0M467.5 967.5h0M505.2 998.3h0M458.2 997.1h0M512.4 993.8h0M508.2 974.5h0M511.5 1003.2h0M537.6 1038.8h0M487.3 1044.2h0M535.4 1021.3h0M503.8 996.0h0M482.3 976.3h0M471.3 997.3h0M532.2 1055.6h0M479.9 997.7h0M498.9 1008.4h0M457.8 997.3h0M506.2 981.2h0M471.4 1014.7h0M480.1 980.2h0M524.8 1018.4h0M495.5 1033.3h0M460.1 992.5h0M499.5 1045.6h0M464.6 954.1h0M518.5 986.1h0M514.7 1024.0h0M486.3 968.2h0M507.3 984.1h0M513.1 1069.1h0M476.0 951.4h0M513.4 1033.9h0M515.8 1035.0h0M510.1 984.3h0M502.9 963.5h0M489.2 987.1h0M497.3 994.7h0M472.3 962.8h0M484.6 953.8h0M507.3 1019.3h0M502.1 1067.9h0M487.1 968.1h0M509.3 1040.5h0M501.4 992.7h0M512.9 1063.8h0M518.6 1056.0h0M493.7 975.2h0M534.8 1033.2h0M497.7 1036.4h0M474.7 999.8h0M517.7 979.7h0M492.1 1026.2h0M517.8 1029.6h0M516.1 1000.9h0M482.3 957.2h0M540.5 1044.7h0M468.0 1011.9h0M497.7 1027.6h0M488.1 1035.1h0M510.6 1060.4h0M459.7 1014.5h0M473.8 946.0h0M496.7 997.6h0M506.8 969.2h0M484.1 956.5h0M512.0 964.2h0M468.0 1018.0h0M501.2 1015.9h0M500.9 982.4h0M495.6 954.9h0M475.4 946.0h0M519.0 1067.6h0M472.1 1014.8h0M492.3 1013.6h0M459.5 974.2h0M487.8 1005.4h0M516.0 1008.0h0M518.7 1065.3h0M486.8 947.1h0M497.6 1018.1h0M477.8 1017.8h0M499.1 1005.1h0M478.6 1038.9h0M478.9 960.3h0M513.5 987.3h0M462.8 968.2h0M501.6 956.7h0M511.5 1013.6h0M458.5 1005.9h0M464.8 991.4h0M506.7 1004.7h0M504.6 1003.7h0M465.0 973.5h0M501.9 963.3h0M507.6 984.4h0M507.8 1060.4h0M467.8 959.3h0M477.2 1021.8h0M527.8 1051.0h0M488.3 1047.7h0M513.3 1059.4h0M497.5 986.5h0M463.1 1018.9h0M482.2 982.6h0M501.7 1038.4h0M519.5 1002.1h0M516.4 1024.8h0M512.1 977.0h0M458.4 968.1h0M490.4 1017.0h0M517.2 988.6h0M469.7 993.1h0M512.4 1028.3h0M515.4 1033.2h0M466.3 989.7h0M495.2 1021.0h0M504.0 958.7h0M470.8 984.3h0M471.5 974.4h0M511.0 1018.6h0M505.2 961.7h0M501.2 1040.9h0M481.3 1018.5h0M509.2 991.6h0M484.1 997.7h0M479.2 985.0h0M484.1 969.5h0M491.2 1008.2h0M526.1 1032.3h0M510.0 1007.7h0M517.3 976.0h0M524.8 1004.4h0M502.9 1026.8h0M517.1 1009.9h0M488.0 1039.0h0M506.9 968.1h0M508.8 1001.9h0M531.0 1034.8h0M502.2 1030.5h0M479.9 1014.7h0M493.4 998.2h0M515.8 1041.1h0M506.5 976.3h0M496.8 1015.9h0M533.0 1020.9h0M473.1 977.3h0M472.6 1019.8h0M492.6 989.4h0M499.5 968.1h0M518.0 988.4h0M474.6 984.2h0M478.6 1025.0h0M474.8 947.3h0M460.9 968.0h0M507.4 1047.1h0M491.0 1029.9h0M488.2 1031.1h0M490.0 1029.3h0M532.9 1035.3h0M490.8 958.0h0M490.4 1024.6h0M525.9 1031.5h0M498.1 999.3h0M516.7 1034.1h0M484.8 1038.7h0M490.3 995.5h0M460.2 1016.5h0M495.3 1014.0h0M515.3 1043.0h0M495.1 1013.9h0M467.1 1009.3h0M502.3 988.0h0M509.7 965.9h0M504.2 995.3h0M461.4 1019.2h0M500.1 960.6h0M539.4 1050.3h0M499.8 959.5h0M527.4 1005.1h0M528.3 1032.9h0M490.8 1018.6h0M492.6 986.5h0M486.2 979.7h0M493.2 948.0h0M480.1 1014.9h0M506.0 1047.4h0M486.0 1045.6h0M531.6 1028.9h0M492.9 1059.1h0M476.4 965.7h0M498.4 1011.6h0M457.1 988.3h0M493.7 1044.7h0M479.7 1021.8h0M487.0 963.1h0M486.6 990.2h0M471.5 987.2h0M492.3 956.4h0M476.2 975.2h0M466.4 1004.0h0M492.2 1047.1h0M483.1 969.1h0M466.3 960.6h0M458.6 1013.4h0M483.8 1040.6h0M488.7 1044.3h0M538.7 1049.0h0M500.0 997.5h0M492.1 1032.6h0M466.6 1008.7h0M485.0 999.5h0M479.0 981.1h0M502.7 960.2h0M466.3 1033.3h0M491.5 1016.6h0M520.1 1048.5h0M465.5 998.0h0M484.9 1030.0h0M512.4 982.5h0M503.4 1058.8h0M462.3 1009.1h0M509.8 977.2h0M498.7 1015.3h0M513.8 977.9h0M543.3 1043.5h0M500.8 1033.2h0M472.8 1001.6h0M511.1 1011.4h0M536.3 1026.1h0M518.4 993.4h0M494.7 1031.4h0M495.1 980.6h0M497.0 1050.2h0M472.4 1009.6h0M473.1 949.4h0M500.5 994.9h0M507.3 1021.2h0M465.8 986.9h0M525.5 1022.6h0M490.1 985.4h0M471.4 1030.8h0M515.2 1035.7h0M477.5 1001.9h0M485.4 945.7h0M498.8 1026.7h0M520.5 1050.6h0M510.5 979.8h0M484.3 960.5h0M514.6 988.3h0M534.7 1054.1h0M462.4 998.5h0M526.1 999.7h0M473.3 1022.5h0M489.8 1054.0h0M471.7 968.8h0M508.5 1059.8h0M475.8 1009.2h0M483.5 1042.9h0M477.7 992.0h0M463.1 965.6h0M526.1 1049.5h0M458.4 987.9h0M489.7 1015.2h0M507.1 1001.8h0M523.8 1019.2h0M516.4 1001.7h0M473.0 998.7h0M539.0 1033.9h0M495.3 1009.3h0M488.1 1041.1h0M524.4 1028.3h0M506.0 976.3h0M506.7 999.9h0M506.3 1050.1h0M528.4 1037.8h0M474.3 963.8h0M496.4 965.3h0M471.3 1016.1h0M473.7 947.5h0M470.9 958.1h0M497.5 980.7h0M499.5 969.4h0M502.3 1036.0h0M487.3 968.4h0M522.2 1035.7h0M486.0 1019.9h0M509.7 995.8h0M496.0 998.8h0M490.1 999.1h0M530.3 1024.9h0M482.0 973.0h0M488.1 1006.7h0M461.4 1026.5h0M484.0 990.4h0M533.3 1041.9h0M536.5 1050.5h0M476.3 1001.5h0M482.2 1028.1h0M467.1 1004.8h0M492.6 1036.7h0M497.5 1013.0h0M501.8 1016.3h0M507.6 1029.5h0M505.6 1061.7h0M493.0 992.2h0M472.5 1000.2h0M486.7 991.0h0M488.0 972.9h0M543.3 1037.6h0M471.0 973.0h0M512.2 976.8h0M464.2 1022.4h0M480.2 1046.8h0M482.6 977.1h0M524.9 1053.6h0M491.8 965.2h0M467.3 1033.2h0M513.3 1054.9h0M479.7 963.9h0M469.3 1035.5h0M529.7 1030.0h0M465.2 978.3h0M513.6 1032.9h0M491.4 996.2h0M488.7 968.2h0M460.5 987.1h0M521.0 993.2h0M500.6 1031.7h0M512.3 1067.5h0M498.4 1055.3h0M503.3 1043.3h0M498.3 1020.9h0M503.7 1057.9h0M513.2 1033.8h0M499.1 996.4h0M476.4 985.2h0M485.5 1016.6h0M502.1 983.8h0M462.1 1006.0h0M486.8 994.3h0M462.1 1000.5h0M480.3 973.9h0M495.1 957.7h0M466.4 1014.3h0M528.8 1019.7h0M521.3 1010.4h0M478.1 980.1h0M542.0 1037.0h0M517.8 1029.2h0M536.6 1027.1h0M481.2 1028.7h0M472.7 967.7h0M506.7 1000.9h0M484.7 949.3h0M482.2 1044.4h0M512.7 1014.9h0M483.6 1019.1h0M502.6 914.9h0M511.2 916.8h0M482.1 929.7h0M515.5 930.2h0M522.0 929.1h0M483.3 936.3h0M464.3 943.9h0M513.1 942.6h0M503.8 945.8h0M456.1 954.7h0M553.3 1021.7h0M549.5 1050.2h0M542.5 1046.4h0" stroke="#6e146e" stroke-width="4.20" stroke-linecap="round" fill="none"/>
<path d="M454.4 1094.8h0M446.2 1057.8h0M454.1 1080.9h0M451.9 1086.0h0M461.1 1063.3h0M476.0 1087.4h0M464.3 1079.9h0M466.7 1079.2h0M456.2 1055.0h0M483.7 1085.9h0M461.0 1076.8h0M463.7 973.1h0M454.4 1049.1h0M458.0 979.9h0M454.0 1055.8h0M454.0 1088.2h0M458.0 1059.2h0M457.7 1072.4h0M453.8 1069.9h0M448.9 1070.2h0M456.0 1076.2h0M451.8 1090.7h0M443.2 975.8h0M459.0 1074.9h0M452.3 1066.8h0M449.7 988.8h0M451.4 1057.8h0M451.1 1045.9h0M469.2 1059.3h0M452.8 984.6h0M456.8 1051.9h0M460.2 1058.3h0M475.1 1076.6h0M450.6 1026.5h0M447.4 1094.9h0M453.7 1071.4h0M453.1 995.5h0M486.4 1082.8h0M468.1 1057.4h0M456.5 991.8h0M452.1 1049.6h0M456.3 1058.0h0M453.6 1073.4h0M459.4 1063.9h0M451.6 1051.0h0M466.3 1051.9h0M468.9 1056.0h0M453.6 1094.4h0M451.4 1074.1h0M452.4 1069.4h0M469.5 969.1h0M461.7 1094.4h0M472.0 1067.0h0M492.6 1083.6h0M443.2 1029.1h0M467.7 1051.3h0M457.3 1068.3h0M457.6 1070.7h0M451.5 1057.4h0M479.7 1078.9h0M464.2 1097.4h0M470.7 1034.1h0M457.9 1068.1h0M459.9 1051.4h0M491.3 1081.9h0M485.9 1083.7h0M457.2 1092.6h0M447.7 1086.9h0M462.2 1080.8h0M484.0 1074.8h0M464.2 1065.0h0M450.6 1050.5h0M458.6 1090.4h0M464.5 1048.9h0M459.4 966.3h0M453.2 1085.8h0M446.7 1056.1h0M448.6 1053.9h0M448.6 1081.3h0M450.3 1084.7h0M452.2 1070.9h0M456.0 1078.4h0M462.9 1090.3h0M466.7 1052.3h0M452.1 1080.9h0M452.6 1095.8h0M451.9 1087.1h0M454.9 1051.1h0M457.9 1092.8h0M450.1 1076.7h0M463.5 1063.0h0M459.3 992.9h0M467.0 1044.8h0M457.9 1092.5h0M462.8 1050.2h0M448.5 995.8h0M472.3 1050.1h0M444.5 1085.3h0M463.5 1088.4h0M458.6 1055.1h0M469.4 1084.6h0M453.6 1090.6h0M457.1 1088.8h0M457.9 1074.1h0M454.3 1092.7h0M448.5 1064.8h0M459.6 1080.0h0M482.9 1084.6h0M456.6 1096.5h0M467.3 1078.2h0M456.6 1047.3h0M458.4 1057.2h0M443.2 1094.0h0M455.1 978.6h0M484.0 1076.8h0M456.9 1074.1h0M489.3 1085.2h0M467.9 1081.6h0M454.3 1057.2h0M468.4 1050.4h0M476.9 1078.2h0M459.5 1056.6h0M464.3 1084.0h0M451.3 1074.2h0M474.9 1096.1h0M463.7 1044.2h0M454.9 1005.2h0M455.9 983.8h0M443.4 1091.8h0M455.1 1096.9h0M471.9 1005.4h0M451.1 974.2h0M446.2 1045.5h0M482.2 1077.9h0M453.3 1087.3h0M467.5 1062.5h0M466.8 1068.0h0M453.8 995.5h0M455.6 1056.8h0M455.7 1074.9h0M467.9 1084.0h0M477.5 1094.6h0M451.6 1068.5h0M464.2 1084.4h0M450.6 1063.7h0M457.1 1070.7h0M451.0 1088.9h0M462.9 983.1h0M442.8 997.8h0M468.9 1012.8h0M446.8 967.2h0M460.2 1061.6h0M457.0 1055.1h0M444.5 971.0h0M476.2 1075.1h0M463.6 1074.8h0M452.7 1077.4h0M468.6 1045.1h0M441.8 971.8h0M459.1 1077.5h0M455.5 1061.5h0M455.0 1083.3h0M458.9 1057.5h0M491.5 1085.6h0M450.6 1091.5h0M460.3 1086.3h0M448.1 1058.7h0M470.3 1062.1h0M461.2 1086.8h0M450.2 1094.6h0M475.6 1073.5h0M476.5 1072.2h0M477.7 1048.1h0M472.3 1076.7h0M456.9 1064.6h0M454.5 1087.7h0M460.6 1064.4h0M450.9 1035.5h0M450.1 1078.2h0M473.9 1009.8h0M480.7 1085.0h0M462.0 973.0h0M453.5 991.3h0M477.7 1081.0h0M449.8 1090.9h0M465.7 1068.7h0M464.1 1059.2h0M455.1 1051.1h0M468.3 1088.3h0M457.6 1049.1h0M467.7 1085.1h0M446.4 1059.1h0M456.6 1072.0h0M469.7 1054.7h0M461.8 1081.0h0M453.8 1059.0h0M459.7 1073.5h0M454.4 1050.0h0M462.1 1045.6h0M465.6 1087.4h0M471.8 984.6h0M449.5 1069.4h0M468.5 1065.6h0M484.9 1083.2h0M457.2 1066.1h0M452.2 1079.9h0M454.9 1046.2h0M477.5 1051.0h0M462.0 1045.2h0M478.1 1075.2h0M460.6 1093.9h0M454.5 1050.5h0M454.5 1081.2h0M447.5 1069.6h0M468.7 1081.8h0M455.4 1050.3h0M460.1 1055.0h0M471.7 1062.4h0M451.2 1093.5h0M465.2 1067.5h0M458.6 1072.7h0M477.4 1074.7h0M465.9 1074.5h0M468.7 1044.9h0M459.4 1080.2h0M467.8 1095.0h0M457.8 1048.2h0M445.7 1050.8h0M455.6 1059.8h0M467.3 1027.4h0M460.0 1067.9h0M458.8 1051.7h0M467.5 1058.1h0M457.6 1059.1h0M463.6 1088.0h0M454.0 1027.9h0M444.1 1067.2h0M456.4 1096.4h0M455.1 1053.0h0M471.4 1082.4h0M443.3 1066.2h0M464.0 1052.3h0M458.6 1096.1h0M455.0 1047.8h0M473.7 983.2h0M458.5 1048.1h0M448.3 980.7h0M462.6 1059.4h0M447.9 979.1h0M456.9 1088.3h0M450.1 1002.3h0M454.2 1070.3h0M442.2 1031.7h0M460.2 1071.2h0M466.4 1051.1h0M458.2 1095.1h0M461.9 1054.9h0M457.2 1061.4h0M467.3 1055.6h0M470.2 1048.4h0M450.7 1088.3h0M461.8 1049.8h0M456.5 1090.4h0M446.8 1070.1h0M487.4 1072.1h0M460.1 1052.5h0M448.5 1018.4h0M448.3 1057.7h0M462.1 1076.4h0M459.5 1088.3h0M454.5 1096.5h0M461.4 1073.4h0M467.7 1064.8h0M443.3 1062.5h0M454.2 1044.6h0M474.2 1071.9h0M464.2 1064.9h0M462.0 1072.9h0M460.9 1071.2h0M470.2 1045.0h0M456.4 1061.2h0M446.1 1086.8h0M471.6 1090.5h0M465.9 1090.6h0M468.7 1059.9h0M462.4 1047.6h0M489.7 1078.8h0M462.7 1081.6h0M457.9 1073.2h0M467.9 1056.1h0M454.4 1050.9h0M453.0 1097.2h0M463.9 1065.0h0M445.7 1068.9h0M478.1 1085.9h0M454.2 1094.9h0M466.1 1016.7h0M468.4 1060.6h0M453.0 1068.6h0M454.8 1096.8h0M463.5 1071.9h0M455.1 1080.7h0M462.1 1088.5h0M492.0 1073.6h0M454.8 1049.3h0M454.0 1068.9h0M461.0 1079.8h0M461.0 1087.9h0M460.8 1074.1h0M456.9 1069.5h0M454.6 1071.6h0M449.3 1055.4h0M459.4 1046.3h0M456.3 1069.2h0M454.6 1096.3h0M450.2 1072.3h0M474.9 1091.8h0M470.7 1071.1h0M458.8 1055.8h0M463.4 1065.5h0M457.0 1087.2h0M465.9 1057.6h0M467.3 1077.5h0M465.5 1089.5h0M464.6 1052.2h0M456.6 1084.5h0M453.1 1069.0h0M481.0 1077.0h0M473.6 1006.2h0M459.9 1071.3h0M474.1 1074.6h0M447.9 1090.1h0M461.9 1083.8h0M457.8 1063.0h0M446.3 1085.0h0M477.5 1089.9h0M457.2 1097.2h0M447.2 1062.8h0M449.2 1054.4h0M461.5 1046.9h0M461.9 1068.3h0M491.9 1081.6h0M451.5 1096.2h0M445.1 1063.3h0M446.0 1079.7h0M455.3 1059.1h0M449.7 1082.9h0M457.9 1071.9h0M469.6 1025.1h0M461.3 1090.9h0M451.1 1007.9h0M461.4 1056.1h0M473.3 985.1h0M467.2 1054.7h0M451.9 1031.6h0M482.5 1083.8h0M470.3 1060.7h0M461.4 1071.3h0M447.9 1085.0h0M461.8 1071.4h0M459.3 1053.7h0M441.6 1003.8h0M462.2 1044.6h0M457.6 1034.4h0M445.0 1044.3h0M451.4 1080.7h0M479.7 1077.5h0M445.6 1046.5h0M451.9 1080.5h0M450.0 1087.3h0M444.9 1060.4h0M467.8 1064.9h0M441.9 1001.3h0M482.9 1081.6h0M467.5 990.6h0M467.6 1085.7h0M467.2 1063.1h0M458.7 1087.4h0M458.4 1044.9h0M463.9 1051.6h0" stroke="#0c8a44" stroke-width="4.20" stroke-linecap="round" fill="none"/>
</svg></body></html>
